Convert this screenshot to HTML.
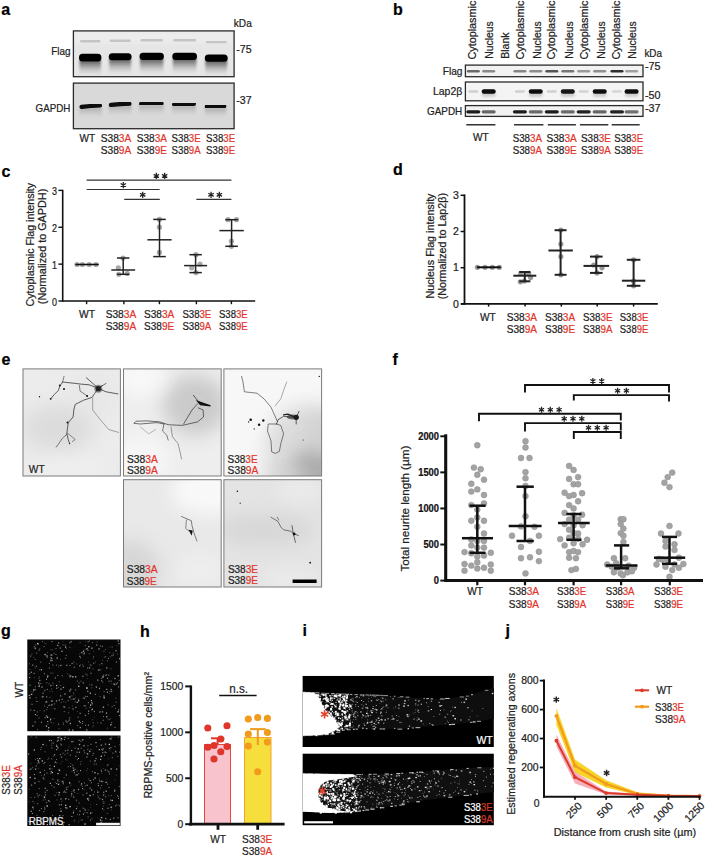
<!DOCTYPE html>
<html><head><meta charset="utf-8"><style>
html,body{margin:0;padding:0;background:#fff;}
svg{display:block;font-family:"Liberation Sans",sans-serif;}
</style></head><body>
<svg width="714" height="858" viewBox="0 0 714 858">
<defs><filter id="b1" x="-50%" y="-100%" width="200%" height="300%"><feGaussianBlur stdDeviation="1.2"/></filter><filter id="b2" x="-50%" y="-100%" width="200%" height="300%"><feGaussianBlur stdDeviation="2.2"/></filter><filter id="b05" x="-50%" y="-100%" width="200%" height="300%"><feGaussianBlur stdDeviation="0.7"/></filter><filter id="b3" x="-50%" y="-50%" width="200%" height="200%"><feGaussianBlur stdDeviation="4"/></filter><filter id="b8" x="-50%" y="-50%" width="200%" height="200%"><feGaussianBlur stdDeviation="9"/></filter><linearGradient id="smA" x1="0" y1="0" x2="0" y2="1"><stop offset="0" stop-color="#444" stop-opacity="0.9"/><stop offset="0.3" stop-color="#6a6a6a" stop-opacity="0.7"/><stop offset="0.65" stop-color="#999" stop-opacity="0.35"/><stop offset="1" stop-color="#bbb" stop-opacity="0"/></linearGradient><linearGradient id="smG" x1="0" y1="0" x2="0" y2="1"><stop offset="0" stop-color="#888" stop-opacity="0.55"/><stop offset="1" stop-color="#aaa" stop-opacity="0"/></linearGradient><clipPath id="cpa1"><rect x="73.4" y="30.9" width="160.7" height="45.8"/></clipPath><clipPath id="cpa2"><rect x="73.4" y="83.1" width="160.7" height="45.6"/></clipPath><clipPath id="e1"><rect x="23.0" y="368.9" width="97.4" height="107.10000000000002"/></clipPath><clipPath id="e2"><rect x="123.5" y="368.9" width="97.69999999999999" height="107.10000000000002"/></clipPath><clipPath id="e3"><rect x="223.9" y="368.9" width="97.70000000000002" height="107.10000000000002"/></clipPath><clipPath id="e4"><rect x="123.5" y="479.7" width="97.69999999999999" height="107.30000000000001"/></clipPath><clipPath id="e5"><rect x="223.9" y="479.7" width="97.70000000000002" height="107.30000000000001"/></clipPath><clipPath id="i1"><rect x="302.4" y="675.8" width="191.5" height="71.20000000000005"/></clipPath><clipPath id="i2"><rect x="302.4" y="753.4" width="191.5" height="72.0"/></clipPath></defs>
<rect width="714" height="858" fill="#fff"/>
<text x="1.3" y="15" font-size="16" font-weight="bold"><tspan fill="#000" stroke="#000" stroke-width="0.22">a</tspan></text>
<g clip-path="url(#cpa1)">
<rect x="73.4" y="30.9" width="160.7" height="45.8" fill="#e6e6e6" />
<rect x="73.4" y="30.9" width="160.7" height="12" fill="#ececec" filter="url(#b2)"/>
<rect x="79.5" y="60.0" width="21.400000000000006" height="16" fill="url(#smA)" filter="url(#b1)"/>
<rect x="80.0" y="40.099999999999994" width="20.400000000000006" height="2.4" rx="1" fill="#c4c4c4" filter="url(#b05)"/>
<rect x="79.0" y="53.699999999999996" width="22.400000000000006" height="7.900000000000003" rx="3.5" fill="#060606" filter="url(#b05)"/>
<rect x="109.2" y="58.6" width="21.89999999999999" height="16" fill="url(#smA)" filter="url(#b1)"/>
<rect x="109.7" y="39.599999999999994" width="20.89999999999999" height="2.4" rx="1" fill="#c4c4c4" filter="url(#b05)"/>
<rect x="108.7" y="53.199999999999996" width="22.89999999999999" height="7.000000000000004" rx="3.5" fill="#060606" filter="url(#b05)"/>
<rect x="140.0" y="58.5" width="23.400000000000006" height="16" fill="url(#smA)" filter="url(#b1)"/>
<rect x="140.5" y="39.099999999999994" width="22.400000000000006" height="2.4" rx="1" fill="#c4c4c4" filter="url(#b05)"/>
<rect x="139.5" y="52.699999999999996" width="24.400000000000006" height="7.400000000000003" rx="3.5" fill="#060606" filter="url(#b05)"/>
<rect x="172.8" y="58.3" width="23.69999999999999" height="16" fill="url(#smA)" filter="url(#b1)"/>
<rect x="173.3" y="39.099999999999994" width="22.69999999999999" height="2.4" rx="1" fill="#c4c4c4" filter="url(#b05)"/>
<rect x="172.3" y="52.699999999999996" width="24.69999999999999" height="7.2" rx="3.5" fill="#060606" filter="url(#b05)"/>
<rect x="205.3" y="60.1" width="21.899999999999977" height="16" fill="url(#smA)" filter="url(#b1)"/>
<rect x="205.8" y="40.900000000000006" width="20.899999999999977" height="2.4" rx="1" fill="#c4c4c4" filter="url(#b05)"/>
<rect x="204.8" y="54.5" width="22.899999999999977" height="7.2" rx="3.5" fill="#060606" filter="url(#b05)"/>
</g>
<rect x="73.4" y="30.9" width="160.7" height="45.8" fill="none" stroke="#2a2a2a" stroke-width="1.3" />
<g clip-path="url(#cpa2)">
<rect x="73.4" y="83.1" width="160.7" height="45.6" fill="#d9d9d9" />
<rect x="79.5" y="107.3" width="22.5" height="10" fill="url(#smG)" filter="url(#b1)"/>
<path d="M81.5 106.90 Q90.8 105.90 100.0 105.50" stroke="#070707" stroke-width="4.1" stroke-linecap="round" fill="none" filter="url(#b05)"/>
<rect x="108.7" y="105.5" width="22.89999999999999" height="10" fill="url(#smG)" filter="url(#b1)"/>
<path d="M110.9 104.90 Q120.2 104.00 129.4 103.70" stroke="#070707" stroke-width="4.3" stroke-linecap="round" fill="none" filter="url(#b05)"/>
<rect x="139.0" y="104.7" width="24.69999999999999" height="10" fill="url(#smG)" filter="url(#b1)"/>
<path d="M141.1 103.80 Q151.3 103.30 161.6 103.40" stroke="#070707" stroke-width="4.1" stroke-linecap="round" fill="none" filter="url(#b05)"/>
<rect x="172.0" y="105.4" width="24.0" height="10" fill="url(#smG)" filter="url(#b1)"/>
<path d="M174.2 104.45 Q184.0 103.85 193.8 103.85" stroke="#070707" stroke-width="4.4" stroke-linecap="round" fill="none" filter="url(#b05)"/>
<rect x="204.7" y="107.6" width="21.700000000000017" height="10" fill="url(#smG)" filter="url(#b1)"/>
<path d="M207.0 106.55 Q215.6 105.95 224.1 105.95" stroke="#070707" stroke-width="4.6" stroke-linecap="round" fill="none" filter="url(#b05)"/>
</g>
<rect x="73.4" y="83.1" width="160.7" height="45.6" fill="none" stroke="#2a2a2a" stroke-width="1.3" />
<text x="233.8" y="27" font-size="10.5" textLength="18" lengthAdjust="spacingAndGlyphs"><tspan fill="#222222" stroke="#222222" stroke-width="0.22">kDa</tspan></text>
<text x="236.3" y="53" font-size="10.5" textLength="15.3" lengthAdjust="spacingAndGlyphs"><tspan fill="#222222" stroke="#222222" stroke-width="0.22">-75</tspan></text>
<text x="236.3" y="103.5" font-size="10.5" textLength="15.3" lengthAdjust="spacingAndGlyphs"><tspan fill="#222222" stroke="#222222" stroke-width="0.22">-37</tspan></text>
<text x="70.6" y="55" font-size="10.5" text-anchor="end" textLength="19.3" lengthAdjust="spacingAndGlyphs"><tspan fill="#222222" stroke="#222222" stroke-width="0.22">Flag</tspan></text>
<text x="70.3" y="112" font-size="10.5" text-anchor="end" textLength="34.7" lengthAdjust="spacingAndGlyphs"><tspan fill="#222222" stroke="#222222" stroke-width="0.22">GAPDH</tspan></text>
<text x="79.6" y="141.9" font-size="10.8" textLength="15.6" lengthAdjust="spacingAndGlyphs"><tspan fill="#222222" stroke="#222222" stroke-width="0.22">WT</tspan></text>
<text x="100.8" y="141.9" font-size="10.8" textLength="30.5" lengthAdjust="spacingAndGlyphs"><tspan fill="#222222" stroke="#222222" stroke-width="0.22">S38</tspan><tspan fill="#e2352b" stroke="#e2352b" stroke-width="0.22">3A</tspan></text>
<text x="100.8" y="153.7" font-size="10.8" textLength="30.5" lengthAdjust="spacingAndGlyphs"><tspan fill="#222222" stroke="#222222" stroke-width="0.22">S38</tspan><tspan fill="#e2352b" stroke="#e2352b" stroke-width="0.22">9A</tspan></text>
<text x="136.8" y="141.9" font-size="10.8" textLength="30.2" lengthAdjust="spacingAndGlyphs"><tspan fill="#222222" stroke="#222222" stroke-width="0.22">S38</tspan><tspan fill="#e2352b" stroke="#e2352b" stroke-width="0.22">3A</tspan></text>
<text x="136.8" y="153.7" font-size="10.8" textLength="30.2" lengthAdjust="spacingAndGlyphs"><tspan fill="#222222" stroke="#222222" stroke-width="0.22">S38</tspan><tspan fill="#e2352b" stroke="#e2352b" stroke-width="0.22">9E</tspan></text>
<text x="171.6" y="141.9" font-size="10.8" textLength="29.0" lengthAdjust="spacingAndGlyphs"><tspan fill="#222222" stroke="#222222" stroke-width="0.22">S38</tspan><tspan fill="#e2352b" stroke="#e2352b" stroke-width="0.22">3E</tspan></text>
<text x="171.6" y="153.7" font-size="10.8" textLength="29.0" lengthAdjust="spacingAndGlyphs"><tspan fill="#222222" stroke="#222222" stroke-width="0.22">S38</tspan><tspan fill="#e2352b" stroke="#e2352b" stroke-width="0.22">9A</tspan></text>
<text x="206.1" y="141.9" font-size="10.8" textLength="29.0" lengthAdjust="spacingAndGlyphs"><tspan fill="#222222" stroke="#222222" stroke-width="0.22">S38</tspan><tspan fill="#e2352b" stroke="#e2352b" stroke-width="0.22">3E</tspan></text>
<text x="206.1" y="153.7" font-size="10.8" textLength="29.0" lengthAdjust="spacingAndGlyphs"><tspan fill="#222222" stroke="#222222" stroke-width="0.22">S38</tspan><tspan fill="#e2352b" stroke="#e2352b" stroke-width="0.22">9E</tspan></text>
<text x="393" y="15.2" font-size="16" font-weight="bold"><tspan fill="#000" stroke="#000" stroke-width="0.22">b</tspan></text>
<rect x="465.4" y="65.1" width="177.60000000000002" height="11.6" fill="#f2f2f2" />
<rect x="466.8" y="70.0" width="13" height="2.6" rx="1.3" fill="#6a6a6a" filter="url(#b05)"/>
<rect x="482.2" y="70.0" width="13" height="2.6" rx="1.3" fill="#8a8a8a" filter="url(#b05)"/>
<rect x="513.4" y="70.0" width="13" height="2.6" rx="1.3" fill="#858585" filter="url(#b05)"/>
<rect x="529.3" y="70.0" width="13" height="2.6" rx="1.3" fill="#8c8c8c" filter="url(#b05)"/>
<rect x="545.3" y="70.0" width="13" height="2.6" rx="1.3" fill="#555" filter="url(#b05)"/>
<rect x="561.3" y="70.0" width="13" height="2.6" rx="1.3" fill="#777" filter="url(#b05)"/>
<rect x="577.2" y="70.0" width="13" height="2.6" rx="1.3" fill="#9a9a9a" filter="url(#b05)"/>
<rect x="593.2" y="70.0" width="13" height="2.6" rx="1.3" fill="#8f8f8f" filter="url(#b05)"/>
<rect x="610.5" y="70.0" width="13" height="2.6" rx="1.3" fill="#2e2e2e" filter="url(#b05)"/>
<rect x="625.1" y="70.0" width="13" height="2.6" rx="1.3" fill="#a0a0a0" filter="url(#b05)"/>
<rect x="465.4" y="65.1" width="177.60000000000002" height="11.6" fill="none" stroke="#2a2a2a" stroke-width="1.3" />
<rect x="465.4" y="82.0" width="177.60000000000002" height="18.8" fill="#f4f4f4" />
<rect x="468.3" y="90.3" width="10" height="2.4" rx="1.2" fill="#d0d0d0" filter="url(#b05)"/>
<rect x="481.7" y="92" width="14" height="5" rx="2" fill="#aaa" opacity="0.5" filter="url(#b1)"/>
<rect x="481.7" y="89.3" width="14" height="4.4" rx="2.2" fill="#080808" filter="url(#b05)"/>
<rect x="514.9" y="90.3" width="10" height="2.4" rx="1.2" fill="#d0d0d0" filter="url(#b05)"/>
<rect x="528.8" y="92" width="14" height="5" rx="2" fill="#aaa" opacity="0.5" filter="url(#b1)"/>
<rect x="528.8" y="89.3" width="14" height="4.4" rx="2.2" fill="#101010" filter="url(#b05)"/>
<rect x="546.8" y="90.3" width="10" height="2.4" rx="1.2" fill="#cfcfcf" filter="url(#b05)"/>
<rect x="560.8" y="92" width="14" height="5" rx="2" fill="#aaa" opacity="0.5" filter="url(#b1)"/>
<rect x="560.8" y="89.3" width="14" height="4.4" rx="2.2" fill="#151515" filter="url(#b05)"/>
<rect x="578.7" y="90.3" width="10" height="2.4" rx="1.2" fill="#d2d2d2" filter="url(#b05)"/>
<rect x="592.7" y="92" width="14" height="5" rx="2" fill="#aaa" opacity="0.5" filter="url(#b1)"/>
<rect x="592.7" y="89.3" width="14" height="4.4" rx="2.2" fill="#0c0c0c" filter="url(#b05)"/>
<rect x="612.0" y="90.3" width="10" height="2.4" rx="1.2" fill="#d6d6d6" filter="url(#b05)"/>
<rect x="624.6" y="92" width="14" height="5" rx="2" fill="#aaa" opacity="0.5" filter="url(#b1)"/>
<rect x="624.6" y="89.3" width="14" height="4.4" rx="2.2" fill="#0a0a0a" filter="url(#b05)"/>
<rect x="465.4" y="82.0" width="177.60000000000002" height="18.8" fill="none" stroke="#2a2a2a" stroke-width="1.3" />
<rect x="465.4" y="105.6" width="177.60000000000002" height="10.8" fill="#f2f2f2" />
<rect x="466.3" y="110.2" width="14" height="3.2" rx="1.6" fill="#1a1a1a" filter="url(#b05)"/>
<rect x="481.7" y="110.2" width="14" height="3.2" rx="1.6" fill="#666" filter="url(#b05)"/>
<rect x="512.9" y="110.2" width="14" height="3.2" rx="1.6" fill="#1e1e1e" filter="url(#b05)"/>
<rect x="528.8" y="110.2" width="14" height="3.2" rx="1.6" fill="#6a6a6a" filter="url(#b05)"/>
<rect x="544.8" y="110.2" width="14" height="3.2" rx="1.6" fill="#1c1c1c" filter="url(#b05)"/>
<rect x="560.8" y="110.2" width="14" height="3.2" rx="1.6" fill="#6a6a6a" filter="url(#b05)"/>
<rect x="576.7" y="110.2" width="14" height="3.2" rx="1.6" fill="#222" filter="url(#b05)"/>
<rect x="592.7" y="110.2" width="14" height="3.2" rx="1.6" fill="#666" filter="url(#b05)"/>
<rect x="610.0" y="110.2" width="14" height="3.2" rx="1.6" fill="#222" filter="url(#b05)"/>
<rect x="624.6" y="110.2" width="14" height="3.2" rx="1.6" fill="#707070" filter="url(#b05)"/>
<rect x="465.4" y="105.6" width="177.60000000000002" height="10.8" fill="none" stroke="#2a2a2a" stroke-width="1.3" />
<text x="476.1" y="59.6" font-size="10.6" textLength="59.0" lengthAdjust="spacingAndGlyphs" transform="rotate(-90 476.1 59.6)"><tspan fill="#222222" stroke="#222222" stroke-width="0.22">Cytoplasmic</tspan></text>
<text x="493" y="58.8" font-size="10.6" textLength="37.5" lengthAdjust="spacingAndGlyphs" transform="rotate(-90 493 58.8)"><tspan fill="#222222" stroke="#222222" stroke-width="0.22">Nucleus</tspan></text>
<text x="509.3" y="58.8" font-size="10.6" textLength="26.3" lengthAdjust="spacingAndGlyphs" transform="rotate(-90 509.3 58.8)"><tspan fill="#222222" stroke="#222222" stroke-width="0.22">Blank</tspan></text>
<text x="524.2" y="59.6" font-size="10.6" textLength="59.0" lengthAdjust="spacingAndGlyphs" transform="rotate(-90 524.2 59.6)"><tspan fill="#222222" stroke="#222222" stroke-width="0.22">Cytoplasmic</tspan></text>
<text x="540.6" y="58.8" font-size="10.6" textLength="37.5" lengthAdjust="spacingAndGlyphs" transform="rotate(-90 540.6 58.8)"><tspan fill="#222222" stroke="#222222" stroke-width="0.22">Nucleus</tspan></text>
<text x="555.5" y="59.6" font-size="10.6" textLength="59.0" lengthAdjust="spacingAndGlyphs" transform="rotate(-90 555.5 59.6)"><tspan fill="#222222" stroke="#222222" stroke-width="0.22">Cytoplasmic</tspan></text>
<text x="573.3" y="58.8" font-size="10.6" textLength="37.5" lengthAdjust="spacingAndGlyphs" transform="rotate(-90 573.3 58.8)"><tspan fill="#222222" stroke="#222222" stroke-width="0.22">Nucleus</tspan></text>
<text x="587.6" y="59.6" font-size="10.6" textLength="59.0" lengthAdjust="spacingAndGlyphs" transform="rotate(-90 587.6 59.6)"><tspan fill="#222222" stroke="#222222" stroke-width="0.22">Cytoplasmic</tspan></text>
<text x="604.8" y="58.8" font-size="10.6" textLength="37.5" lengthAdjust="spacingAndGlyphs" transform="rotate(-90 604.8 58.8)"><tspan fill="#222222" stroke="#222222" stroke-width="0.22">Nucleus</tspan></text>
<text x="619.6" y="59.6" font-size="10.6" textLength="59.0" lengthAdjust="spacingAndGlyphs" transform="rotate(-90 619.6 59.6)"><tspan fill="#222222" stroke="#222222" stroke-width="0.22">Cytoplasmic</tspan></text>
<text x="636.2" y="58.8" font-size="10.6" textLength="37.5" lengthAdjust="spacingAndGlyphs" transform="rotate(-90 636.2 58.8)"><tspan fill="#222222" stroke="#222222" stroke-width="0.22">Nucleus</tspan></text>
<text x="644.4" y="57.1" font-size="10.5" textLength="17.6" lengthAdjust="spacingAndGlyphs"><tspan fill="#222222" stroke="#222222" stroke-width="0.22">kDa</tspan></text>
<text x="645" y="69.9" font-size="10.5" textLength="15.6" lengthAdjust="spacingAndGlyphs"><tspan fill="#222222" stroke="#222222" stroke-width="0.22">-75</tspan></text>
<text x="645" y="98.6" font-size="10.5" textLength="15.6" lengthAdjust="spacingAndGlyphs"><tspan fill="#222222" stroke="#222222" stroke-width="0.22">-50</tspan></text>
<text x="645" y="112" font-size="10.5" textLength="15.6" lengthAdjust="spacingAndGlyphs"><tspan fill="#222222" stroke="#222222" stroke-width="0.22">-37</tspan></text>
<text x="462.5" y="74.6" font-size="10.5" text-anchor="end" textLength="19.8" lengthAdjust="spacingAndGlyphs"><tspan fill="#222222" stroke="#222222" stroke-width="0.22">Flag</tspan></text>
<text x="462.2" y="95.2" font-size="10.5" text-anchor="end" textLength="29.2" lengthAdjust="spacingAndGlyphs"><tspan fill="#222222" stroke="#222222" stroke-width="0.22">Lap2β</tspan></text>
<text x="462.2" y="115" font-size="10.5" text-anchor="end" textLength="35.2" lengthAdjust="spacingAndGlyphs"><tspan fill="#222222" stroke="#222222" stroke-width="0.22">GAPDH</tspan></text>
<line x1="466.3" y1="124.8" x2="495.4" y2="124.8" stroke="#111" stroke-width="1.3"/>
<line x1="514.0" y1="124.8" x2="543.4" y2="124.8" stroke="#111" stroke-width="1.3"/>
<line x1="547.8" y1="124.8" x2="575.9" y2="124.8" stroke="#111" stroke-width="1.3"/>
<line x1="579.9" y1="124.8" x2="608.3" y2="124.8" stroke="#111" stroke-width="1.3"/>
<line x1="611.7" y1="124.8" x2="639.7" y2="124.8" stroke="#111" stroke-width="1.3"/>
<text x="473" y="141.3" font-size="10.8" textLength="15.7" lengthAdjust="spacingAndGlyphs"><tspan fill="#222222" stroke="#222222" stroke-width="0.22">WT</tspan></text>
<text x="512.7" y="141.8" font-size="10.8" textLength="29.3" lengthAdjust="spacingAndGlyphs"><tspan fill="#222222" stroke="#222222" stroke-width="0.22">S38</tspan><tspan fill="#e2352b" stroke="#e2352b" stroke-width="0.22">3A</tspan></text>
<text x="512.7" y="154.0" font-size="10.8" textLength="29.3" lengthAdjust="spacingAndGlyphs"><tspan fill="#222222" stroke="#222222" stroke-width="0.22">S38</tspan><tspan fill="#e2352b" stroke="#e2352b" stroke-width="0.22">9A</tspan></text>
<text x="546.5" y="141.8" font-size="10.8" textLength="30.3" lengthAdjust="spacingAndGlyphs"><tspan fill="#222222" stroke="#222222" stroke-width="0.22">S38</tspan><tspan fill="#e2352b" stroke="#e2352b" stroke-width="0.22">3A</tspan></text>
<text x="546.5" y="154.0" font-size="10.8" textLength="30.3" lengthAdjust="spacingAndGlyphs"><tspan fill="#222222" stroke="#222222" stroke-width="0.22">S38</tspan><tspan fill="#e2352b" stroke="#e2352b" stroke-width="0.22">9E</tspan></text>
<text x="581.0" y="141.8" font-size="10.8" textLength="29.8" lengthAdjust="spacingAndGlyphs"><tspan fill="#222222" stroke="#222222" stroke-width="0.22">S38</tspan><tspan fill="#e2352b" stroke="#e2352b" stroke-width="0.22">3E</tspan></text>
<text x="581.0" y="154.0" font-size="10.8" textLength="29.8" lengthAdjust="spacingAndGlyphs"><tspan fill="#222222" stroke="#222222" stroke-width="0.22">S38</tspan><tspan fill="#e2352b" stroke="#e2352b" stroke-width="0.22">9A</tspan></text>
<text x="614.3" y="141.8" font-size="10.8" textLength="28.8" lengthAdjust="spacingAndGlyphs"><tspan fill="#222222" stroke="#222222" stroke-width="0.22">S38</tspan><tspan fill="#e2352b" stroke="#e2352b" stroke-width="0.22">3E</tspan></text>
<text x="614.3" y="154.0" font-size="10.8" textLength="28.8" lengthAdjust="spacingAndGlyphs"><tspan fill="#222222" stroke="#222222" stroke-width="0.22">S38</tspan><tspan fill="#e2352b" stroke="#e2352b" stroke-width="0.22">9E</tspan></text>
<text x="1.6" y="176.7" font-size="16" font-weight="bold"><tspan fill="#000" stroke="#000" stroke-width="0.22">c</tspan></text>
<circle cx="82.4" cy="264.5" r="2.6" fill="#a8a8a8" />
<circle cx="89.2" cy="264.5" r="2.6" fill="#a8a8a8" />
<circle cx="96.0" cy="264.5" r="2.6" fill="#a8a8a8" />
<circle cx="77.0" cy="264.5" r="2.6" fill="#a8a8a8" />
<circle cx="123.0" cy="258.0" r="2.6" fill="#a8a8a8" />
<circle cx="118.3" cy="267.8" r="2.6" fill="#a8a8a8" />
<circle cx="118.8" cy="274.3" r="2.6" fill="#a8a8a8" />
<circle cx="127.2" cy="273.4" r="2.6" fill="#a8a8a8" />
<circle cx="159.4" cy="219.4" r="2.6" fill="#a8a8a8" />
<circle cx="159.4" cy="227.2" r="2.6" fill="#a8a8a8" />
<circle cx="159.4" cy="252.4" r="2.6" fill="#a8a8a8" />
<circle cx="191.7" cy="267.8" r="2.6" fill="#a8a8a8" />
<circle cx="200.0" cy="264.2" r="2.6" fill="#a8a8a8" />
<circle cx="195.9" cy="272.6" r="2.6" fill="#a8a8a8" />
<circle cx="195.9" cy="254.7" r="2.6" fill="#a8a8a8" />
<circle cx="228.0" cy="219.7" r="2.6" fill="#a8a8a8" />
<circle cx="236.5" cy="219.7" r="2.6" fill="#a8a8a8" />
<circle cx="231.4" cy="241.2" r="2.6" fill="#a8a8a8" />
<circle cx="231.4" cy="246.3" r="2.6" fill="#a8a8a8" />
<line x1="75.4" y1="264.5" x2="98.7" y2="264.5" stroke="#111" stroke-width="1.6"/>
<line x1="111.3" y1="270" x2="135.1" y2="270" stroke="#222" stroke-width="1.5"/>
<line x1="123.2" y1="258" x2="123.2" y2="274.3" stroke="#222" stroke-width="1.5"/>
<line x1="117.0" y1="258" x2="129.4" y2="258" stroke="#222" stroke-width="1.5"/>
<line x1="117.0" y1="274.3" x2="129.4" y2="274.3" stroke="#222" stroke-width="1.5"/>
<line x1="147.4" y1="239.8" x2="171.6" y2="239.8" stroke="#222" stroke-width="1.5"/>
<line x1="159.5" y1="219.4" x2="159.5" y2="256.6" stroke="#222" stroke-width="1.5"/>
<line x1="153.2" y1="219.4" x2="165.8" y2="219.4" stroke="#222" stroke-width="1.5"/>
<line x1="153.2" y1="256.6" x2="165.8" y2="256.6" stroke="#222" stroke-width="1.5"/>
<line x1="184.1" y1="265.6" x2="207.1" y2="265.6" stroke="#222" stroke-width="1.5"/>
<line x1="195.6" y1="254.7" x2="195.6" y2="272.6" stroke="#222" stroke-width="1.5"/>
<line x1="189.4" y1="254.7" x2="201.79999999999998" y2="254.7" stroke="#222" stroke-width="1.5"/>
<line x1="189.4" y1="272.6" x2="201.79999999999998" y2="272.6" stroke="#222" stroke-width="1.5"/>
<line x1="219.4" y1="230.6" x2="243.79999999999998" y2="230.6" stroke="#222" stroke-width="1.5"/>
<line x1="231.6" y1="219.7" x2="231.6" y2="246.3" stroke="#222" stroke-width="1.5"/>
<line x1="225.29999999999998" y1="219.7" x2="237.9" y2="219.7" stroke="#222" stroke-width="1.5"/>
<line x1="225.29999999999998" y1="246.3" x2="237.9" y2="246.3" stroke="#222" stroke-width="1.5"/>
<line x1="62.7" y1="189.8" x2="62.7" y2="301.7" stroke="#111" stroke-width="1.6"/>
<line x1="61.900000000000006" y1="301.0" x2="255.2" y2="301.0" stroke="#111" stroke-width="1.6"/>
<line x1="58.4" y1="301.0" x2="62.7" y2="301.0" stroke="#111" stroke-width="1.4"/>
<text x="57.0" y="305.6" font-size="10.3" text-anchor="end" textLength="5.0" lengthAdjust="spacingAndGlyphs"><tspan fill="#222222" stroke="#222222" stroke-width="0.22">0</tspan></text>
<line x1="58.4" y1="264.13" x2="62.7" y2="264.13" stroke="#111" stroke-width="1.4"/>
<text x="57.0" y="268.73" font-size="10.3" text-anchor="end" textLength="5.0" lengthAdjust="spacingAndGlyphs"><tspan fill="#222222" stroke="#222222" stroke-width="0.22">1</tspan></text>
<line x1="58.4" y1="227.26" x2="62.7" y2="227.26" stroke="#111" stroke-width="1.4"/>
<text x="57.0" y="231.85999999999999" font-size="10.3" text-anchor="end" textLength="5.0" lengthAdjust="spacingAndGlyphs"><tspan fill="#222222" stroke="#222222" stroke-width="0.22">2</tspan></text>
<line x1="58.4" y1="190.39000000000001" x2="62.7" y2="190.39000000000001" stroke="#111" stroke-width="1.4"/>
<text x="57.0" y="194.99" font-size="10.3" text-anchor="end" textLength="5.0" lengthAdjust="spacingAndGlyphs"><tspan fill="#222222" stroke="#222222" stroke-width="0.22">3</tspan></text>
<line x1="86.6" y1="301.0" x2="86.6" y2="304.2" stroke="#111" stroke-width="1.4"/>
<line x1="123.9" y1="301.0" x2="123.9" y2="304.2" stroke="#111" stroke-width="1.4"/>
<line x1="159.4" y1="301.0" x2="159.4" y2="304.2" stroke="#111" stroke-width="1.4"/>
<line x1="196.4" y1="301.0" x2="196.4" y2="304.2" stroke="#111" stroke-width="1.4"/>
<line x1="231.4" y1="301.0" x2="231.4" y2="304.2" stroke="#111" stroke-width="1.4"/>
<line x1="86.6" y1="180.2" x2="231.4" y2="180.2" stroke="#333" stroke-width="1.2"/>
<path d="M156.35 172.80L156.35 179.00M153.67 174.35L159.03 177.45M159.03 174.35L153.67 177.45" stroke="#222" stroke-width="1.25" fill="none"/>
<path d="M164.65 172.80L164.65 179.00M161.97 174.35L167.33 177.45M167.33 174.35L161.97 177.45" stroke="#222" stroke-width="1.25" fill="none"/>
<line x1="86.6" y1="189.5" x2="159.6" y2="189.5" stroke="#333" stroke-width="1.2"/>
<path d="M123.30 182.00L123.30 188.20M120.62 183.55L125.98 186.65M125.98 183.55L120.62 186.65" stroke="#222" stroke-width="1.25" fill="none"/>
<line x1="124.2" y1="199.3" x2="159.8" y2="199.3" stroke="#333" stroke-width="1.2"/>
<path d="M142.70 191.70L142.70 197.90M140.02 193.25L145.38 196.35M145.38 193.25L140.02 196.35" stroke="#222" stroke-width="1.25" fill="none"/>
<line x1="196.4" y1="199.3" x2="231.4" y2="199.3" stroke="#333" stroke-width="1.2"/>
<path d="M211.05 191.70L211.05 197.90M208.37 193.25L213.73 196.35M213.73 193.25L208.37 196.35" stroke="#222" stroke-width="1.25" fill="none"/>
<path d="M219.35 191.70L219.35 197.90M216.67 193.25L222.03 196.35M222.03 193.25L216.67 196.35" stroke="#222" stroke-width="1.25" fill="none"/>
<text x="34.2" y="244.7" font-size="10.2" text-anchor="middle" textLength="123.6" lengthAdjust="spacingAndGlyphs" transform="rotate(-90 34.2 244.7)"><tspan fill="#222222" stroke="#222222" stroke-width="0.22">Cytoplasmic Flag intensity</tspan></text>
<text x="45.9" y="246.45" font-size="10.2" text-anchor="middle" textLength="115.5" lengthAdjust="spacingAndGlyphs" transform="rotate(-90 45.9 246.45)"><tspan fill="#222222" stroke="#222222" stroke-width="0.22">(Normalized to GAPDH)</tspan></text>
<text x="79" y="317.7" font-size="10.0" textLength="16" lengthAdjust="spacingAndGlyphs"><tspan fill="#222222" stroke="#222222" stroke-width="0.22">WT</tspan></text>
<text x="105.7" y="317.7" font-size="10.0" textLength="30.5" lengthAdjust="spacingAndGlyphs"><tspan fill="#222222" stroke="#222222" stroke-width="0.22">S38</tspan><tspan fill="#e2352b" stroke="#e2352b" stroke-width="0.22">3A</tspan></text>
<text x="105.7" y="329.6" font-size="10.0" textLength="30.5" lengthAdjust="spacingAndGlyphs"><tspan fill="#222222" stroke="#222222" stroke-width="0.22">S38</tspan><tspan fill="#e2352b" stroke="#e2352b" stroke-width="0.22">9A</tspan></text>
<text x="144" y="317.7" font-size="10.0" textLength="30.3" lengthAdjust="spacingAndGlyphs"><tspan fill="#222222" stroke="#222222" stroke-width="0.22">S38</tspan><tspan fill="#e2352b" stroke="#e2352b" stroke-width="0.22">3A</tspan></text>
<text x="144" y="329.6" font-size="10.0" textLength="30.3" lengthAdjust="spacingAndGlyphs"><tspan fill="#222222" stroke="#222222" stroke-width="0.22">S38</tspan><tspan fill="#e2352b" stroke="#e2352b" stroke-width="0.22">9E</tspan></text>
<text x="182.4" y="317.7" font-size="10.0" textLength="28.9" lengthAdjust="spacingAndGlyphs"><tspan fill="#222222" stroke="#222222" stroke-width="0.22">S38</tspan><tspan fill="#e2352b" stroke="#e2352b" stroke-width="0.22">3E</tspan></text>
<text x="182.4" y="329.6" font-size="10.0" textLength="28.9" lengthAdjust="spacingAndGlyphs"><tspan fill="#222222" stroke="#222222" stroke-width="0.22">S38</tspan><tspan fill="#e2352b" stroke="#e2352b" stroke-width="0.22">9A</tspan></text>
<text x="219" y="317.7" font-size="10.0" textLength="28.7" lengthAdjust="spacingAndGlyphs"><tspan fill="#222222" stroke="#222222" stroke-width="0.22">S38</tspan><tspan fill="#e2352b" stroke="#e2352b" stroke-width="0.22">3E</tspan></text>
<text x="219" y="329.6" font-size="10.0" textLength="28.7" lengthAdjust="spacingAndGlyphs"><tspan fill="#222222" stroke="#222222" stroke-width="0.22">S38</tspan><tspan fill="#e2352b" stroke="#e2352b" stroke-width="0.22">9E</tspan></text>
<text x="393" y="175" font-size="16" font-weight="bold"><tspan fill="#000" stroke="#000" stroke-width="0.22">d</tspan></text>
<circle cx="477.4" cy="267.3" r="2.6" fill="#9a9a9a" />
<circle cx="485.0" cy="267.3" r="2.6" fill="#9a9a9a" />
<circle cx="492.3" cy="267.3" r="2.6" fill="#9a9a9a" />
<circle cx="499.3" cy="267.3" r="2.6" fill="#9a9a9a" />
<circle cx="520.8" cy="273.4" r="2.6" fill="#9a9a9a" />
<circle cx="528.7" cy="273.4" r="2.6" fill="#9a9a9a" />
<circle cx="524.2" cy="281.0" r="2.6" fill="#9a9a9a" />
<circle cx="530.6" cy="277.6" r="2.6" fill="#9a9a9a" />
<circle cx="520.3" cy="281.8" r="2.6" fill="#9a9a9a" />
<circle cx="560.9" cy="230.0" r="2.6" fill="#9a9a9a" />
<circle cx="560.9" cy="244.0" r="2.6" fill="#9a9a9a" />
<circle cx="560.9" cy="256.6" r="2.6" fill="#9a9a9a" />
<circle cx="560.9" cy="274.8" r="2.6" fill="#9a9a9a" />
<circle cx="593.7" cy="265.0" r="2.6" fill="#9a9a9a" />
<circle cx="602.0" cy="267.8" r="2.6" fill="#9a9a9a" />
<circle cx="597.0" cy="256.6" r="2.6" fill="#9a9a9a" />
<circle cx="597.0" cy="272.9" r="2.6" fill="#9a9a9a" />
<circle cx="633.6" cy="259.8" r="2.6" fill="#9a9a9a" />
<circle cx="633.6" cy="285.8" r="2.6" fill="#9a9a9a" />
<circle cx="633.6" cy="281.0" r="2.6" fill="#9a9a9a" />
<line x1="476.9" y1="267.3" x2="500.7" y2="267.3" stroke="#111" stroke-width="2.0"/>
<line x1="513.3" y1="275.7" x2="536.3" y2="275.7" stroke="#222" stroke-width="2.0"/>
<line x1="524.8" y1="272" x2="524.8" y2="281.3" stroke="#222" stroke-width="2.0"/>
<line x1="519.1999999999999" y1="272" x2="530.4" y2="272" stroke="#222" stroke-width="2.0"/>
<line x1="519.1999999999999" y1="281.3" x2="530.4" y2="281.3" stroke="#222" stroke-width="2.0"/>
<line x1="548.4" y1="250.5" x2="572.8000000000001" y2="250.5" stroke="#222" stroke-width="2.0"/>
<line x1="560.6" y1="230.2" x2="560.6" y2="274.8" stroke="#222" stroke-width="2.0"/>
<line x1="554.6" y1="230.2" x2="566.6" y2="230.2" stroke="#222" stroke-width="2.0"/>
<line x1="554.6" y1="274.8" x2="566.6" y2="274.8" stroke="#222" stroke-width="2.0"/>
<line x1="583.5" y1="265.9" x2="609.0999999999999" y2="265.9" stroke="#222" stroke-width="2.0"/>
<line x1="596.3" y1="256.6" x2="596.3" y2="272.9" stroke="#222" stroke-width="2.0"/>
<line x1="590.0" y1="256.6" x2="602.5999999999999" y2="256.6" stroke="#222" stroke-width="2.0"/>
<line x1="590.0" y1="272.9" x2="602.5999999999999" y2="272.9" stroke="#222" stroke-width="2.0"/>
<line x1="621.9" y1="280.7" x2="645.3000000000001" y2="280.7" stroke="#222" stroke-width="2.0"/>
<line x1="633.6" y1="259.8" x2="633.6" y2="285.8" stroke="#222" stroke-width="2.0"/>
<line x1="626.8000000000001" y1="259.8" x2="640.4" y2="259.8" stroke="#222" stroke-width="2.0"/>
<line x1="626.8000000000001" y1="285.8" x2="640.4" y2="285.8" stroke="#222" stroke-width="2.0"/>
<line x1="464.5" y1="194.4" x2="464.5" y2="304.7" stroke="#111" stroke-width="1.8"/>
<line x1="461.0" y1="303.9" x2="657.8" y2="303.9" stroke="#111" stroke-width="1.8"/>
<line x1="460.6" y1="303.9" x2="464.5" y2="303.9" stroke="#111" stroke-width="1.5"/>
<text x="458.8" y="307.59999999999997" font-size="10.5" text-anchor="end"><tspan fill="#222222" stroke="#222222" stroke-width="0.22">0</tspan></text>
<line x1="460.6" y1="267.7" x2="464.5" y2="267.7" stroke="#111" stroke-width="1.5"/>
<text x="458.8" y="271.4" font-size="10.5" text-anchor="end"><tspan fill="#222222" stroke="#222222" stroke-width="0.22">1</tspan></text>
<line x1="460.6" y1="231.49999999999997" x2="464.5" y2="231.49999999999997" stroke="#111" stroke-width="1.5"/>
<text x="458.8" y="235.19999999999996" font-size="10.5" text-anchor="end"><tspan fill="#222222" stroke="#222222" stroke-width="0.22">2</tspan></text>
<line x1="460.6" y1="195.29999999999995" x2="464.5" y2="195.29999999999995" stroke="#111" stroke-width="1.5"/>
<text x="458.8" y="198.99999999999994" font-size="10.5" text-anchor="end"><tspan fill="#222222" stroke="#222222" stroke-width="0.22">3</tspan></text>
<line x1="488.6" y1="303.9" x2="488.6" y2="306.6" stroke="#111" stroke-width="1.5"/>
<line x1="525.1" y1="303.9" x2="525.1" y2="306.6" stroke="#111" stroke-width="1.5"/>
<line x1="561.3" y1="303.9" x2="561.3" y2="306.6" stroke="#111" stroke-width="1.5"/>
<line x1="597.2" y1="303.9" x2="597.2" y2="306.6" stroke="#111" stroke-width="1.5"/>
<line x1="633.6" y1="303.9" x2="633.6" y2="306.6" stroke="#111" stroke-width="1.5"/>
<text x="434.3" y="246.05" font-size="10.2" text-anchor="middle" textLength="105.1" lengthAdjust="spacingAndGlyphs" transform="rotate(-90 434.3 246.05)"><tspan fill="#222222" stroke="#222222" stroke-width="0.22">Nucleus Flag intensity</tspan></text>
<text x="445.9" y="246.15" font-size="10.2" text-anchor="middle" textLength="106.3" lengthAdjust="spacingAndGlyphs" transform="rotate(-90 445.9 246.15)"><tspan fill="#222222" stroke="#222222" stroke-width="0.22">(Normalized to Lap2β)</tspan></text>
<text x="480.1" y="320.8" font-size="10.2" textLength="15.7" lengthAdjust="spacingAndGlyphs"><tspan fill="#222222" stroke="#222222" stroke-width="0.22">WT</tspan></text>
<text x="506.7" y="320.8" font-size="10.2" textLength="30.4" lengthAdjust="spacingAndGlyphs"><tspan fill="#222222" stroke="#222222" stroke-width="0.22">S38</tspan><tspan fill="#e2352b" stroke="#e2352b" stroke-width="0.22">3A</tspan></text>
<text x="506.7" y="332.7" font-size="10.2" textLength="30.4" lengthAdjust="spacingAndGlyphs"><tspan fill="#222222" stroke="#222222" stroke-width="0.22">S38</tspan><tspan fill="#e2352b" stroke="#e2352b" stroke-width="0.22">9A</tspan></text>
<text x="545" y="320.8" font-size="10.2" textLength="30.1" lengthAdjust="spacingAndGlyphs"><tspan fill="#222222" stroke="#222222" stroke-width="0.22">S38</tspan><tspan fill="#e2352b" stroke="#e2352b" stroke-width="0.22">3A</tspan></text>
<text x="545" y="332.7" font-size="10.2" textLength="30.1" lengthAdjust="spacingAndGlyphs"><tspan fill="#222222" stroke="#222222" stroke-width="0.22">S38</tspan><tspan fill="#e2352b" stroke="#e2352b" stroke-width="0.22">9E</tspan></text>
<text x="583.1" y="320.8" font-size="10.2" textLength="29.3" lengthAdjust="spacingAndGlyphs"><tspan fill="#222222" stroke="#222222" stroke-width="0.22">S38</tspan><tspan fill="#e2352b" stroke="#e2352b" stroke-width="0.22">3E</tspan></text>
<text x="583.1" y="332.7" font-size="10.2" textLength="29.3" lengthAdjust="spacingAndGlyphs"><tspan fill="#222222" stroke="#222222" stroke-width="0.22">S38</tspan><tspan fill="#e2352b" stroke="#e2352b" stroke-width="0.22">9A</tspan></text>
<text x="619.8" y="320.8" font-size="10.2" textLength="28.5" lengthAdjust="spacingAndGlyphs"><tspan fill="#222222" stroke="#222222" stroke-width="0.22">S38</tspan><tspan fill="#e2352b" stroke="#e2352b" stroke-width="0.22">3E</tspan></text>
<text x="619.8" y="332.7" font-size="10.2" textLength="28.5" lengthAdjust="spacingAndGlyphs"><tspan fill="#222222" stroke="#222222" stroke-width="0.22">S38</tspan><tspan fill="#e2352b" stroke="#e2352b" stroke-width="0.22">9E</tspan></text>
<text x="1.5" y="365" font-size="16" font-weight="bold"><tspan fill="#000" stroke="#000" stroke-width="0.22">e</tspan></text>
<g clip-path="url(#e1)">
<rect x="23.0" y="368.9" width="97.4" height="107.10000000000002" fill="#ececec"/>
<ellipse cx="58" cy="428" rx="36" ry="24" fill="#d6d6d6" opacity="0.7" filter="url(#b8)"/>
<ellipse cx="95" cy="395" rx="25" ry="25" fill="#e4e4e4" opacity="0.5" filter="url(#b8)"/>
<ellipse cx="70" cy="468" rx="40" ry="10" fill="#f2f2f2" opacity="0.6" filter="url(#b8)"/>
</g>
<path d="M98.3 388.3 L89.2 384.8 L80.8 384.1 L75.2 383.4 L62.6 382.0 L59.8 386.2 L58.4 390.4 L54.2 394.6 L50.7 398.8" stroke="#262626" stroke-width="0.72" fill="none" stroke-linejoin="round" stroke-linecap="round" opacity="1"/>
<path d="M62.6 382.0 L64.0 376.4" stroke="#262626" stroke-width="0.576" fill="none" stroke-linejoin="round" stroke-linecap="round" opacity="1"/>
<path d="M79.4 385.5 L80.1 391.1 L86.4 395.3 L87.1 396.7" stroke="#262626" stroke-width="0.576" fill="none" stroke-linejoin="round" stroke-linecap="round" opacity="1"/>
<path d="M98.3 388.3 L94.8 393.2 L92.0 397.4 L83.6 400.2 L75.2 404.4 L73.8 410.0 L73.1 417.0 L68.2 422.6 L67.5 428.2 L66.8 433.8 L68.2 439.4 L69.6 443.6" stroke="#262626" stroke-width="0.72" fill="none" stroke-linejoin="round" stroke-linecap="round" opacity="1"/>
<path d="M67.5 433.8 L62.6 438.0 L56.3 447.1" stroke="#262626" stroke-width="0.576" fill="none" stroke-linejoin="round" stroke-linecap="round" opacity="1"/>
<path d="M68.2 433.8 L75.2 439.4 L72.4 441.5" stroke="#262626" stroke-width="0.504" fill="none" stroke-linejoin="round" stroke-linecap="round" opacity="1"/>
<path d="M92.7 398.1 L92.7 410.0 L100.4 419.8 L108.8 429.6 L118.6 432.4" stroke="#555" stroke-width="0.504" fill="none" stroke-linejoin="round" stroke-linecap="round" opacity="1"/>
<path d="M98.3 388.3 L86.4 377.8" stroke="#262626" stroke-width="0.72" fill="none" stroke-linejoin="round" stroke-linecap="round" opacity="1"/>
<path d="M98.3 388.3 L106.0 383.4" stroke="#262626" stroke-width="0.648" fill="none" stroke-linejoin="round" stroke-linecap="round" opacity="1"/>
<path d="M98.3 388.3 L106.0 391.8 L117.9 393.9" stroke="#262626" stroke-width="0.72" fill="none" stroke-linejoin="round" stroke-linecap="round" opacity="1"/>
<path d="M98.3 388.3 L102.5 385.5" stroke="#262626" stroke-width="0.648" fill="none" stroke-linejoin="round" stroke-linecap="round" opacity="1"/>
<circle cx="98.3" cy="388.7" r="2.6" fill="#111"/>
<circle cx="98.3" cy="388.7" r="4" fill="#333" opacity="0.5" filter="url(#b05)"/>
<circle cx="87.1" cy="396.0" r="1.0" fill="#111"/>
<circle cx="64.0" cy="389.0" r="1.0" fill="#111"/>
<circle cx="39.5" cy="396.7" r="0.7" fill="#111"/>
<circle cx="59.8" cy="385.5" r="0.9" fill="#111"/>
<circle cx="50.7" cy="398.8" r="0.9" fill="#111"/>
<circle cx="67.5" cy="422.6" r="1.0" fill="#111"/>
<circle cx="69.6" cy="443.6" r="0.6" fill="#111"/>
<g clip-path="url(#e2)">
<rect x="123.5" y="368.9" width="97.69999999999999" height="107.10000000000002" fill="#eeeeee"/>
<ellipse cx="195" cy="405" rx="32" ry="30" fill="#c4c4c4" opacity="0.85" filter="url(#b8)"/>
<ellipse cx="140" cy="378" rx="25" ry="18" fill="#fbfbfb" opacity="0.8" filter="url(#b8)"/>
<ellipse cx="140" cy="460" rx="30" ry="25" fill="#f8f8f8" opacity="0.8" filter="url(#b8)"/>
</g>
<path d="M197.6 401.3 L210.5 405.8 L200.4 404.7 Z" fill="#111" stroke="#111" stroke-width="1.2"/>
<path d="M193.4 395.3 L198.3 401.3" stroke="#262626" stroke-width="0.72" fill="none" stroke-linejoin="round" stroke-linecap="round" opacity="1"/>
<path d="M197.6 403.7 L192.0 410.0 L187.8 417.0 L183.6 424.0" stroke="#262626" stroke-width="0.648" fill="none" stroke-linejoin="round" stroke-linecap="round" opacity="1"/>
<path d="M198.3 407.9 L203.2 410.0 L203.5 417.0 L197.6 421.9 L182.2 425.4 L168.2 424.7 L159.8 421.9 L147.2 420.9 L136.0 421.2 L133.9 423.3 L140.2 424.0 L157.0 422.6 L164.0 424.0" stroke="#262626" stroke-width="0.648" fill="none" stroke-linejoin="round" stroke-linecap="round" opacity="1"/>
<path d="M164.0 424.0 L162.6 431.0 L166.8 435.2 L168.2 440.1" stroke="#262626" stroke-width="0.576" fill="none" stroke-linejoin="round" stroke-linecap="round" opacity="1"/>
<path d="M171.0 426.8 L172.4 436.6 L178.0 443.6 L180.1 452.0 L181.5 459.0" stroke="#444" stroke-width="0.504" fill="none" stroke-linejoin="round" stroke-linecap="round" opacity="1"/>
<path d="M140.2 426.8 L148.6 433.8 L155.6 429.6" stroke="#666" stroke-width="0.432" fill="none" stroke-linejoin="round" stroke-linecap="round" opacity="1"/>
<g clip-path="url(#e3)">
<rect x="223.9" y="368.9" width="97.70000000000002" height="107.10000000000002" fill="#f7f7f7"/>
<ellipse cx="305" cy="450" rx="40" ry="45" fill="#d4d4d4" opacity="0.8" filter="url(#b8)"/>
<ellipse cx="316" cy="472" rx="26" ry="24" fill="#a8a8a8" opacity="0.9" filter="url(#b8)"/>
<ellipse cx="322" cy="430" rx="14" ry="22" fill="#cccccc" opacity="0.7" filter="url(#b8)"/>
<ellipse cx="285" cy="478" rx="25" ry="10" fill="#d0d0d0" opacity="0.8" filter="url(#b8)"/>
</g>
<path d="M296.2 417.7 L283.6 416.3 L278.0 419.8 L276.6 424.0" stroke="#262626" stroke-width="0.72" fill="none" stroke-linejoin="round" stroke-linecap="round" opacity="1"/>
<path d="M276.6 424.0 L268.2 424.0 L267.5 431.0 L271.0 440.8 L271.7 452.0 L275.2 453.4 L279.4 451.3 L280.8 443.6 L283.6 433.8 L280.8 425.4 L276.6 424.0" stroke="#262626" stroke-width="0.576" fill="none" stroke-linejoin="round" stroke-linecap="round" opacity="1"/>
<path d="M277.3 421.2 L271.0 407.2 L264.0 398.8 L257.0 393.2 L244.4 391.8 L243.0 382.0 L241.6 376.4" stroke="#262626" stroke-width="0.576" fill="none" stroke-linejoin="round" stroke-linecap="round" opacity="1"/>
<path d="M275.2 405.8 L280.8 398.8 L283.6 390.4 L286.7 382.0" stroke="#555" stroke-width="0.504" fill="none" stroke-linejoin="round" stroke-linecap="round" opacity="1"/>
<path d="M296.2 417.7 L287.8 414.2 L283.6 414.9" stroke="#222" stroke-width="1.296" fill="none" stroke-linejoin="round" stroke-linecap="round" opacity="1"/>
<path d="M296.2 417.7 L299.0 411.4" stroke="#262626" stroke-width="0.72" fill="none" stroke-linejoin="round" stroke-linecap="round" opacity="1"/>
<path d="M296.2 417.7 L296.2 424.0" stroke="#262626" stroke-width="0.72" fill="none" stroke-linejoin="round" stroke-linecap="round" opacity="1"/>
<circle cx="296.2" cy="417.3" r="2.6" fill="#111"/>
<ellipse cx="292.7" cy="417.0" rx="6" ry="2.6" fill="#222" opacity="0.6" filter="url(#b05)"/>
<circle cx="250.7" cy="419.8" r="1.3" fill="#111"/>
<circle cx="263.3" cy="420.5" r="1.2" fill="#111"/>
<circle cx="259.1" cy="424.7" r="1.2" fill="#111"/>
<circle cx="248.6" cy="421.9" r="0.7" fill="#111"/>
<circle cx="254.2" cy="428.9" r="0.6" fill="#111"/>
<circle cx="319.3" cy="376.4" r="0.7" fill="#111"/>
<circle cx="303.2" cy="440.1" r="0.5" fill="#111"/>
<g clip-path="url(#e4)">
<rect x="123.5" y="479.7" width="97.69999999999999" height="107.30000000000001" fill="#e9e9e9"/>
<ellipse cx="210" cy="490" rx="40" ry="25" fill="#fafafa" opacity="0.9" filter="url(#b8)"/>
<ellipse cx="130" cy="570" rx="30" ry="30" fill="#d2d2d2" opacity="0.8" filter="url(#b8)"/>
<ellipse cx="200" cy="570" rx="25" ry="15" fill="#f3f3f3" opacity="0.6" filter="url(#b8)"/>
</g>
<path d="M181.5 516.5 L191.3 520.7 L192.0 525.6 L194.1 533.3 L196.9 541.0" stroke="#262626" stroke-width="0.576" fill="none" stroke-linejoin="round" stroke-linecap="round" opacity="1"/>
<path d="M186.4 520.0 L185.7 528.4 L189.2 531.2" stroke="#262626" stroke-width="0.504" fill="none" stroke-linejoin="round" stroke-linecap="round" opacity="1"/>
<path d="M188.5 529.8 L192.7 530.5 L191.7 535.7 Z" fill="#111"/>
<g clip-path="url(#e5)">
<rect x="223.9" y="479.7" width="97.70000000000002" height="107.30000000000001" fill="#e4e4e4"/>
<ellipse cx="265" cy="530" rx="50" ry="16" fill="#d4d4d4" opacity="0.8" filter="url(#b8)"/>
<ellipse cx="300" cy="490" rx="25" ry="12" fill="#f0f0f0" opacity="0.6" filter="url(#b8)"/>
<ellipse cx="290" cy="580" rx="30" ry="12" fill="#f0f0f0" opacity="0.6" filter="url(#b8)"/>
</g>
<path d="M271.0 517.2 L278.0 521.4 L280.8 527.0 L283.6 529.8 L290.6 531.2 L294.1 534.0" stroke="#262626" stroke-width="0.576" fill="none" stroke-linejoin="round" stroke-linecap="round" opacity="1"/>
<path d="M292.0 525.6 L293.4 534.0 L295.5 542.4" stroke="#262626" stroke-width="0.648" fill="none" stroke-linejoin="round" stroke-linecap="round" opacity="1"/>
<path d="M294.1 534.0 L298.3 535.4" stroke="#262626" stroke-width="0.648" fill="none" stroke-linejoin="round" stroke-linecap="round" opacity="1"/>
<path d="M277.3 517.2 L278.7 520.0" stroke="#262626" stroke-width="0.504" fill="none" stroke-linejoin="round" stroke-linecap="round" opacity="1"/>
<circle cx="294.1" cy="534.0" r="1.4" fill="#111"/>
<circle cx="237.4" cy="491.3" r="0.8" fill="#111"/>
<circle cx="240.2" cy="503.2" r="0.6" fill="#111"/>
<circle cx="310.2" cy="562.7" r="0.9" fill="#111"/>
<rect x="23.0" y="368.9" width="97.4" height="107.10000000000002" fill="none" stroke="#7a7a7a" stroke-width="1"/>
<rect x="123.5" y="368.9" width="97.69999999999999" height="107.10000000000002" fill="none" stroke="#7a7a7a" stroke-width="1"/>
<rect x="223.9" y="368.9" width="97.70000000000002" height="107.10000000000002" fill="none" stroke="#7a7a7a" stroke-width="1"/>
<rect x="123.5" y="479.7" width="97.69999999999999" height="107.30000000000001" fill="none" stroke="#7a7a7a" stroke-width="1"/>
<rect x="223.9" y="479.7" width="97.70000000000002" height="107.30000000000001" fill="none" stroke="#7a7a7a" stroke-width="1"/>
<text x="28.8" y="473" font-size="10.8" textLength="15.8" lengthAdjust="spacingAndGlyphs"><tspan fill="#222222" stroke="#222222" stroke-width="0.22">WT</tspan></text>
<text x="127.0" y="462.6" font-size="10.8" textLength="30.8" lengthAdjust="spacingAndGlyphs"><tspan fill="#222222" stroke="#222222" stroke-width="0.22">S38</tspan><tspan fill="#e2352b" stroke="#e2352b" stroke-width="0.22">3A</tspan></text>
<text x="127.0" y="474.2" font-size="10.8" textLength="30.8" lengthAdjust="spacingAndGlyphs"><tspan fill="#222222" stroke="#222222" stroke-width="0.22">S38</tspan><tspan fill="#e2352b" stroke="#e2352b" stroke-width="0.22">9A</tspan></text>
<text x="227.6" y="462.6" font-size="10.8" textLength="30.0" lengthAdjust="spacingAndGlyphs"><tspan fill="#222222" stroke="#222222" stroke-width="0.22">S38</tspan><tspan fill="#e2352b" stroke="#e2352b" stroke-width="0.22">3E</tspan></text>
<text x="227.6" y="474.2" font-size="10.8" textLength="30.8" lengthAdjust="spacingAndGlyphs"><tspan fill="#222222" stroke="#222222" stroke-width="0.22">S38</tspan><tspan fill="#e2352b" stroke="#e2352b" stroke-width="0.22">9A</tspan></text>
<text x="126.8" y="573.2" font-size="10.8" textLength="30.8" lengthAdjust="spacingAndGlyphs"><tspan fill="#222222" stroke="#222222" stroke-width="0.22">S38</tspan><tspan fill="#e2352b" stroke="#e2352b" stroke-width="0.22">3A</tspan></text>
<text x="126.8" y="584.6" font-size="10.8" textLength="30.0" lengthAdjust="spacingAndGlyphs"><tspan fill="#222222" stroke="#222222" stroke-width="0.22">S38</tspan><tspan fill="#e2352b" stroke="#e2352b" stroke-width="0.22">9E</tspan></text>
<text x="227.9" y="572.6" font-size="10.8" textLength="30.0" lengthAdjust="spacingAndGlyphs"><tspan fill="#222222" stroke="#222222" stroke-width="0.22">S38</tspan><tspan fill="#e2352b" stroke="#e2352b" stroke-width="0.22">3E</tspan></text>
<text x="227.9" y="584.0" font-size="10.8" textLength="30.0" lengthAdjust="spacingAndGlyphs"><tspan fill="#222222" stroke="#222222" stroke-width="0.22">S38</tspan><tspan fill="#e2352b" stroke="#e2352b" stroke-width="0.22">9E</tspan></text>
<rect x="292.6" y="579.5" width="24" height="3.5" fill="#000" />
<text x="392.6" y="364.7" font-size="16" font-weight="bold"><tspan fill="#000" stroke="#000" stroke-width="0.22">f</tspan></text>
<circle cx="477.3" cy="445.2" r="2.95" fill="#a3a3a3" stroke="#909090" stroke-width="0.5"/>
<circle cx="473.9" cy="467.6" r="2.95" fill="#a3a3a3" stroke="#909090" stroke-width="0.5"/>
<circle cx="480.7" cy="469.2" r="2.95" fill="#a3a3a3" stroke="#909090" stroke-width="0.5"/>
<circle cx="477.3" cy="474.8" r="2.95" fill="#a3a3a3" stroke="#909090" stroke-width="0.5"/>
<circle cx="484.0" cy="479.7" r="2.95" fill="#a3a3a3" stroke="#909090" stroke-width="0.5"/>
<circle cx="471.3" cy="483.8" r="2.95" fill="#a3a3a3" stroke="#909090" stroke-width="0.5"/>
<circle cx="477.3" cy="489.4" r="2.95" fill="#a3a3a3" stroke="#909090" stroke-width="0.5"/>
<circle cx="471.3" cy="491.6" r="2.95" fill="#a3a3a3" stroke="#909090" stroke-width="0.5"/>
<circle cx="484.0" cy="495.0" r="2.95" fill="#a3a3a3" stroke="#909090" stroke-width="0.5"/>
<circle cx="484.0" cy="503.5" r="2.95" fill="#a3a3a3" stroke="#909090" stroke-width="0.5"/>
<circle cx="471.3" cy="505.1" r="2.95" fill="#a3a3a3" stroke="#909090" stroke-width="0.5"/>
<circle cx="477.3" cy="509.6" r="2.95" fill="#a3a3a3" stroke="#909090" stroke-width="0.5"/>
<circle cx="477.3" cy="517.4" r="2.95" fill="#a3a3a3" stroke="#909090" stroke-width="0.5"/>
<circle cx="471.3" cy="520.8" r="2.95" fill="#a3a3a3" stroke="#909090" stroke-width="0.5"/>
<circle cx="484.0" cy="520.8" r="2.95" fill="#a3a3a3" stroke="#909090" stroke-width="0.5"/>
<circle cx="477.3" cy="526.8" r="2.95" fill="#a3a3a3" stroke="#909090" stroke-width="0.5"/>
<circle cx="484.0" cy="533.5" r="2.95" fill="#a3a3a3" stroke="#909090" stroke-width="0.5"/>
<circle cx="471.3" cy="539.4" r="2.95" fill="#a3a3a3" stroke="#909090" stroke-width="0.5"/>
<circle cx="477.3" cy="540.9" r="2.95" fill="#a3a3a3" stroke="#909090" stroke-width="0.5"/>
<circle cx="484.0" cy="540.9" r="2.95" fill="#a3a3a3" stroke="#909090" stroke-width="0.5"/>
<circle cx="471.3" cy="545.4" r="2.95" fill="#a3a3a3" stroke="#909090" stroke-width="0.5"/>
<circle cx="477.3" cy="547.6" r="2.95" fill="#a3a3a3" stroke="#909090" stroke-width="0.5"/>
<circle cx="484.0" cy="547.6" r="2.95" fill="#a3a3a3" stroke="#909090" stroke-width="0.5"/>
<circle cx="464.5" cy="552.1" r="2.95" fill="#a3a3a3" stroke="#909090" stroke-width="0.5"/>
<circle cx="471.3" cy="553.2" r="2.95" fill="#a3a3a3" stroke="#909090" stroke-width="0.5"/>
<circle cx="490.8" cy="552.8" r="2.95" fill="#a3a3a3" stroke="#909090" stroke-width="0.5"/>
<circle cx="477.3" cy="556.6" r="2.95" fill="#a3a3a3" stroke="#909090" stroke-width="0.5"/>
<circle cx="484.0" cy="555.5" r="2.95" fill="#a3a3a3" stroke="#909090" stroke-width="0.5"/>
<circle cx="464.5" cy="564.0" r="2.95" fill="#a3a3a3" stroke="#909090" stroke-width="0.5"/>
<circle cx="471.3" cy="565.6" r="2.95" fill="#a3a3a3" stroke="#909090" stroke-width="0.5"/>
<circle cx="477.3" cy="562.2" r="2.95" fill="#a3a3a3" stroke="#909090" stroke-width="0.5"/>
<circle cx="490.8" cy="564.5" r="2.95" fill="#a3a3a3" stroke="#909090" stroke-width="0.5"/>
<circle cx="464.5" cy="570.7" r="2.95" fill="#a3a3a3" stroke="#909090" stroke-width="0.5"/>
<circle cx="477.3" cy="568.5" r="2.95" fill="#a3a3a3" stroke="#909090" stroke-width="0.5"/>
<circle cx="484.0" cy="567.8" r="2.95" fill="#a3a3a3" stroke="#909090" stroke-width="0.5"/>
<circle cx="490.8" cy="570.7" r="2.95" fill="#a3a3a3" stroke="#909090" stroke-width="0.5"/>
<circle cx="525.5" cy="441.2" r="2.95" fill="#a3a3a3" stroke="#909090" stroke-width="0.5"/>
<circle cx="525.5" cy="447.5" r="2.95" fill="#a3a3a3" stroke="#909090" stroke-width="0.5"/>
<circle cx="521.0" cy="458.0" r="2.95" fill="#a3a3a3" stroke="#909090" stroke-width="0.5"/>
<circle cx="529.5" cy="458.0" r="2.95" fill="#a3a3a3" stroke="#909090" stroke-width="0.5"/>
<circle cx="525.5" cy="472.1" r="2.95" fill="#a3a3a3" stroke="#909090" stroke-width="0.5"/>
<circle cx="525.5" cy="478.2" r="2.95" fill="#a3a3a3" stroke="#909090" stroke-width="0.5"/>
<circle cx="525.5" cy="496.1" r="2.95" fill="#a3a3a3" stroke="#909090" stroke-width="0.5"/>
<circle cx="525.5" cy="516.3" r="2.95" fill="#a3a3a3" stroke="#909090" stroke-width="0.5"/>
<circle cx="512.0" cy="535.8" r="2.95" fill="#a3a3a3" stroke="#909090" stroke-width="0.5"/>
<circle cx="521.0" cy="526.4" r="2.95" fill="#a3a3a3" stroke="#909090" stroke-width="0.5"/>
<circle cx="534.5" cy="526.8" r="2.95" fill="#a3a3a3" stroke="#909090" stroke-width="0.5"/>
<circle cx="538.9" cy="535.8" r="2.95" fill="#a3a3a3" stroke="#909090" stroke-width="0.5"/>
<circle cx="521.0" cy="547.0" r="2.95" fill="#a3a3a3" stroke="#909090" stroke-width="0.5"/>
<circle cx="530.0" cy="540.9" r="2.95" fill="#a3a3a3" stroke="#909090" stroke-width="0.5"/>
<circle cx="521.0" cy="558.2" r="2.95" fill="#a3a3a3" stroke="#909090" stroke-width="0.5"/>
<circle cx="530.0" cy="557.3" r="2.95" fill="#a3a3a3" stroke="#909090" stroke-width="0.5"/>
<circle cx="538.9" cy="551.7" r="2.95" fill="#a3a3a3" stroke="#909090" stroke-width="0.5"/>
<circle cx="538.9" cy="561.1" r="2.95" fill="#a3a3a3" stroke="#909090" stroke-width="0.5"/>
<circle cx="525.5" cy="573.4" r="2.95" fill="#a3a3a3" stroke="#909090" stroke-width="0.5"/>
<circle cx="525.5" cy="486.0" r="2.95" fill="#a3a3a3" stroke="#909090" stroke-width="0.5"/>
<circle cx="569.1" cy="465.9" r="2.95" fill="#a3a3a3" stroke="#909090" stroke-width="0.5"/>
<circle cx="573.6" cy="469.9" r="2.95" fill="#a3a3a3" stroke="#909090" stroke-width="0.5"/>
<circle cx="569.1" cy="478.9" r="2.95" fill="#a3a3a3" stroke="#909090" stroke-width="0.5"/>
<circle cx="578.1" cy="477.1" r="2.95" fill="#a3a3a3" stroke="#909090" stroke-width="0.5"/>
<circle cx="573.6" cy="484.2" r="2.95" fill="#a3a3a3" stroke="#909090" stroke-width="0.5"/>
<circle cx="578.1" cy="484.2" r="2.95" fill="#a3a3a3" stroke="#909090" stroke-width="0.5"/>
<circle cx="564.6" cy="492.7" r="2.95" fill="#a3a3a3" stroke="#909090" stroke-width="0.5"/>
<circle cx="569.1" cy="496.1" r="2.95" fill="#a3a3a3" stroke="#909090" stroke-width="0.5"/>
<circle cx="573.6" cy="495.0" r="2.95" fill="#a3a3a3" stroke="#909090" stroke-width="0.5"/>
<circle cx="582.1" cy="493.2" r="2.95" fill="#a3a3a3" stroke="#909090" stroke-width="0.5"/>
<circle cx="569.1" cy="505.1" r="2.95" fill="#a3a3a3" stroke="#909090" stroke-width="0.5"/>
<circle cx="578.1" cy="501.3" r="2.95" fill="#a3a3a3" stroke="#909090" stroke-width="0.5"/>
<circle cx="573.6" cy="508.4" r="2.95" fill="#a3a3a3" stroke="#909090" stroke-width="0.5"/>
<circle cx="564.6" cy="512.9" r="2.95" fill="#a3a3a3" stroke="#909090" stroke-width="0.5"/>
<circle cx="573.6" cy="515.2" r="2.95" fill="#a3a3a3" stroke="#909090" stroke-width="0.5"/>
<circle cx="582.1" cy="514.7" r="2.95" fill="#a3a3a3" stroke="#909090" stroke-width="0.5"/>
<circle cx="569.1" cy="519.6" r="2.95" fill="#a3a3a3" stroke="#909090" stroke-width="0.5"/>
<circle cx="578.1" cy="519.6" r="2.95" fill="#a3a3a3" stroke="#909090" stroke-width="0.5"/>
<circle cx="564.6" cy="524.1" r="2.95" fill="#a3a3a3" stroke="#909090" stroke-width="0.5"/>
<circle cx="573.6" cy="525.2" r="2.95" fill="#a3a3a3" stroke="#909090" stroke-width="0.5"/>
<circle cx="582.6" cy="525.2" r="2.95" fill="#a3a3a3" stroke="#909090" stroke-width="0.5"/>
<circle cx="569.1" cy="529.7" r="2.95" fill="#a3a3a3" stroke="#909090" stroke-width="0.5"/>
<circle cx="578.1" cy="533.5" r="2.95" fill="#a3a3a3" stroke="#909090" stroke-width="0.5"/>
<circle cx="573.6" cy="533.1" r="2.95" fill="#a3a3a3" stroke="#909090" stroke-width="0.5"/>
<circle cx="560.2" cy="539.1" r="2.95" fill="#a3a3a3" stroke="#909090" stroke-width="0.5"/>
<circle cx="569.1" cy="537.6" r="2.95" fill="#a3a3a3" stroke="#909090" stroke-width="0.5"/>
<circle cx="578.1" cy="538.7" r="2.95" fill="#a3a3a3" stroke="#909090" stroke-width="0.5"/>
<circle cx="587.1" cy="539.8" r="2.95" fill="#a3a3a3" stroke="#909090" stroke-width="0.5"/>
<circle cx="564.6" cy="545.4" r="2.95" fill="#a3a3a3" stroke="#909090" stroke-width="0.5"/>
<circle cx="573.6" cy="543.2" r="2.95" fill="#a3a3a3" stroke="#909090" stroke-width="0.5"/>
<circle cx="582.6" cy="544.3" r="2.95" fill="#a3a3a3" stroke="#909090" stroke-width="0.5"/>
<circle cx="569.1" cy="552.1" r="2.95" fill="#a3a3a3" stroke="#909090" stroke-width="0.5"/>
<circle cx="573.6" cy="551.0" r="2.95" fill="#a3a3a3" stroke="#909090" stroke-width="0.5"/>
<circle cx="578.1" cy="552.1" r="2.95" fill="#a3a3a3" stroke="#909090" stroke-width="0.5"/>
<circle cx="569.1" cy="557.7" r="2.95" fill="#a3a3a3" stroke="#909090" stroke-width="0.5"/>
<circle cx="575.9" cy="558.2" r="2.95" fill="#a3a3a3" stroke="#909090" stroke-width="0.5"/>
<circle cx="571.4" cy="570.1" r="2.95" fill="#a3a3a3" stroke="#909090" stroke-width="0.5"/>
<circle cx="575.9" cy="568.9" r="2.95" fill="#a3a3a3" stroke="#909090" stroke-width="0.5"/>
<circle cx="620.7" cy="519.2" r="2.95" fill="#a3a3a3" stroke="#909090" stroke-width="0.5"/>
<circle cx="623.4" cy="519.2" r="2.95" fill="#a3a3a3" stroke="#909090" stroke-width="0.5"/>
<circle cx="620.7" cy="524.1" r="2.95" fill="#a3a3a3" stroke="#909090" stroke-width="0.5"/>
<circle cx="623.4" cy="528.6" r="2.95" fill="#a3a3a3" stroke="#909090" stroke-width="0.5"/>
<circle cx="620.7" cy="533.1" r="2.95" fill="#a3a3a3" stroke="#909090" stroke-width="0.5"/>
<circle cx="623.4" cy="535.8" r="2.95" fill="#a3a3a3" stroke="#909090" stroke-width="0.5"/>
<circle cx="623.4" cy="542.0" r="2.95" fill="#a3a3a3" stroke="#909090" stroke-width="0.5"/>
<circle cx="613.9" cy="558.2" r="2.95" fill="#a3a3a3" stroke="#909090" stroke-width="0.5"/>
<circle cx="625.2" cy="558.2" r="2.95" fill="#a3a3a3" stroke="#909090" stroke-width="0.5"/>
<circle cx="611.7" cy="566.7" r="2.95" fill="#a3a3a3" stroke="#909090" stroke-width="0.5"/>
<circle cx="617.3" cy="567.8" r="2.95" fill="#a3a3a3" stroke="#909090" stroke-width="0.5"/>
<circle cx="628.5" cy="565.6" r="2.95" fill="#a3a3a3" stroke="#909090" stroke-width="0.5"/>
<circle cx="634.1" cy="567.8" r="2.95" fill="#a3a3a3" stroke="#909090" stroke-width="0.5"/>
<circle cx="613.9" cy="572.3" r="2.95" fill="#a3a3a3" stroke="#909090" stroke-width="0.5"/>
<circle cx="620.7" cy="573.4" r="2.95" fill="#a3a3a3" stroke="#909090" stroke-width="0.5"/>
<circle cx="627.4" cy="572.3" r="2.95" fill="#a3a3a3" stroke="#909090" stroke-width="0.5"/>
<circle cx="622.9" cy="575.2" r="2.95" fill="#a3a3a3" stroke="#909090" stroke-width="0.5"/>
<circle cx="631.9" cy="571.2" r="2.95" fill="#a3a3a3" stroke="#909090" stroke-width="0.5"/>
<circle cx="607.2" cy="564.5" r="2.95" fill="#a3a3a3" stroke="#909090" stroke-width="0.5"/>
<circle cx="616.2" cy="563.3" r="2.95" fill="#a3a3a3" stroke="#909090" stroke-width="0.5"/>
<circle cx="672.2" cy="472.6" r="2.95" fill="#a3a3a3" stroke="#909090" stroke-width="0.5"/>
<circle cx="667.7" cy="477.1" r="2.95" fill="#a3a3a3" stroke="#909090" stroke-width="0.5"/>
<circle cx="664.4" cy="482.7" r="2.95" fill="#a3a3a3" stroke="#909090" stroke-width="0.5"/>
<circle cx="669.5" cy="487.1" r="2.95" fill="#a3a3a3" stroke="#909090" stroke-width="0.5"/>
<circle cx="669.5" cy="525.9" r="2.95" fill="#a3a3a3" stroke="#909090" stroke-width="0.5"/>
<circle cx="661.0" cy="533.5" r="2.95" fill="#a3a3a3" stroke="#909090" stroke-width="0.5"/>
<circle cx="678.5" cy="533.5" r="2.95" fill="#a3a3a3" stroke="#909090" stroke-width="0.5"/>
<circle cx="665.5" cy="540.9" r="2.95" fill="#a3a3a3" stroke="#909090" stroke-width="0.5"/>
<circle cx="674.5" cy="544.3" r="2.95" fill="#a3a3a3" stroke="#909090" stroke-width="0.5"/>
<circle cx="665.5" cy="546.5" r="2.95" fill="#a3a3a3" stroke="#909090" stroke-width="0.5"/>
<circle cx="674.5" cy="549.9" r="2.95" fill="#a3a3a3" stroke="#909090" stroke-width="0.5"/>
<circle cx="678.9" cy="557.7" r="2.95" fill="#a3a3a3" stroke="#909090" stroke-width="0.5"/>
<circle cx="656.5" cy="564.5" r="2.95" fill="#a3a3a3" stroke="#909090" stroke-width="0.5"/>
<circle cx="662.1" cy="559.5" r="2.95" fill="#a3a3a3" stroke="#909090" stroke-width="0.5"/>
<circle cx="667.7" cy="560.0" r="2.95" fill="#a3a3a3" stroke="#909090" stroke-width="0.5"/>
<circle cx="674.5" cy="564.5" r="2.95" fill="#a3a3a3" stroke="#909090" stroke-width="0.5"/>
<circle cx="683.4" cy="564.0" r="2.95" fill="#a3a3a3" stroke="#909090" stroke-width="0.5"/>
<circle cx="665.5" cy="566.7" r="2.95" fill="#a3a3a3" stroke="#909090" stroke-width="0.5"/>
<circle cx="672.2" cy="570.1" r="2.95" fill="#a3a3a3" stroke="#909090" stroke-width="0.5"/>
<circle cx="678.9" cy="567.8" r="2.95" fill="#a3a3a3" stroke="#909090" stroke-width="0.5"/>
<circle cx="669.5" cy="576.8" r="2.95" fill="#a3a3a3" stroke="#909090" stroke-width="0.5"/>
<circle cx="658.8" cy="558.9" r="2.95" fill="#a3a3a3" stroke="#909090" stroke-width="0.5"/>
<line x1="462" y1="538.2" x2="493" y2="538.2" stroke="#111" stroke-width="2.5"/>
<line x1="477.3" y1="505.7" x2="477.3" y2="552.8" stroke="#111" stroke-width="2.5"/>
<line x1="469.5" y1="505.7" x2="485.6" y2="505.7" stroke="#111" stroke-width="2.5"/>
<line x1="469.5" y1="552.8" x2="485.6" y2="552.8" stroke="#111" stroke-width="2.5"/>
<line x1="508.7" y1="526.0" x2="541.6" y2="526.0" stroke="#111" stroke-width="2.5"/>
<line x1="525.0" y1="486.7" x2="525.0" y2="541.0" stroke="#111" stroke-width="2.5"/>
<line x1="516.5" y1="486.7" x2="533.8" y2="486.7" stroke="#111" stroke-width="2.5"/>
<line x1="516.5" y1="541.0" x2="533.8" y2="541.0" stroke="#111" stroke-width="2.5"/>
<line x1="558" y1="523.0" x2="589.7" y2="523.0" stroke="#111" stroke-width="2.5"/>
<line x1="573.6" y1="514.0" x2="573.6" y2="539.8" stroke="#111" stroke-width="2.5"/>
<line x1="566.4" y1="514.0" x2="581.5" y2="514.0" stroke="#111" stroke-width="2.5"/>
<line x1="566.4" y1="539.8" x2="581.5" y2="539.8" stroke="#111" stroke-width="2.5"/>
<line x1="605.7" y1="565.6" x2="637.5" y2="565.6" stroke="#111" stroke-width="2.5"/>
<line x1="621.1" y1="545.4" x2="621.1" y2="568.3" stroke="#111" stroke-width="2.5"/>
<line x1="614" y1="545.4" x2="629.2" y2="545.4" stroke="#111" stroke-width="2.5"/>
<line x1="614" y1="568.3" x2="629.2" y2="568.3" stroke="#111" stroke-width="2.5"/>
<line x1="654" y1="557.7" x2="685.2" y2="557.7" stroke="#111" stroke-width="2.5"/>
<line x1="669.5" y1="536.9" x2="669.5" y2="563.8" stroke="#111" stroke-width="2.5"/>
<line x1="662" y1="536.9" x2="677" y2="536.9" stroke="#111" stroke-width="2.5"/>
<line x1="662" y1="563.8" x2="677" y2="563.8" stroke="#111" stroke-width="2.5"/>
<line x1="445.7" y1="434.3" x2="445.7" y2="581.9" stroke="#111" stroke-width="3.1"/>
<line x1="444.8" y1="580.5" x2="703" y2="580.5" stroke="#111" stroke-width="2.8"/>
<line x1="440.3" y1="580.6" x2="446" y2="580.6" stroke="#111" stroke-width="2.0"/>
<text x="439.0" y="584.3000000000001" font-size="10.4" text-anchor="end" font-weight="bold" textLength="5.2" lengthAdjust="spacingAndGlyphs"><tspan fill="#111" stroke="#111" stroke-width="0.22">0</tspan></text>
<line x1="440.3" y1="544.525" x2="446" y2="544.525" stroke="#111" stroke-width="2.0"/>
<text x="439.0" y="548.225" font-size="10.4" text-anchor="end" font-weight="bold" textLength="15.6" lengthAdjust="spacingAndGlyphs"><tspan fill="#111" stroke="#111" stroke-width="0.22">500</tspan></text>
<line x1="440.3" y1="508.45000000000005" x2="446" y2="508.45000000000005" stroke="#111" stroke-width="2.0"/>
<text x="439.0" y="512.1500000000001" font-size="10.4" text-anchor="end" font-weight="bold" textLength="20.8" lengthAdjust="spacingAndGlyphs"><tspan fill="#111" stroke="#111" stroke-width="0.22">1000</tspan></text>
<line x1="440.3" y1="472.375" x2="446" y2="472.375" stroke="#111" stroke-width="2.0"/>
<text x="439.0" y="476.075" font-size="10.4" text-anchor="end" font-weight="bold" textLength="20.8" lengthAdjust="spacingAndGlyphs"><tspan fill="#111" stroke="#111" stroke-width="0.22">1500</tspan></text>
<line x1="440.3" y1="436.3" x2="446" y2="436.3" stroke="#111" stroke-width="2.0"/>
<text x="439.0" y="440.0" font-size="10.4" text-anchor="end" font-weight="bold" textLength="20.8" lengthAdjust="spacingAndGlyphs"><tspan fill="#111" stroke="#111" stroke-width="0.22">2000</tspan></text>
<line x1="477.3" y1="580.5" x2="477.3" y2="585.3" stroke="#111" stroke-width="2.2"/>
<line x1="525.0" y1="580.5" x2="525.0" y2="585.3" stroke="#111" stroke-width="2.2"/>
<line x1="573.6" y1="580.5" x2="573.6" y2="585.3" stroke="#111" stroke-width="2.2"/>
<line x1="621.1" y1="580.5" x2="621.1" y2="585.3" stroke="#111" stroke-width="2.2"/>
<line x1="669.8" y1="580.5" x2="669.8" y2="585.3" stroke="#111" stroke-width="2.2"/>
<text x="408.6" y="508.6" font-size="10.6" text-anchor="middle" textLength="125.8" lengthAdjust="spacingAndGlyphs" transform="rotate(-90 408.6 508.6)"><tspan fill="#222222" stroke="#222222" stroke-width="0.22">Total neurite length (µm)</tspan></text>
<text x="467.2" y="594.9" font-size="10.2" textLength="15.8" lengthAdjust="spacingAndGlyphs"><tspan fill="#222222" stroke="#222222" stroke-width="0.22">WT</tspan></text>
<text x="508.7" y="594.9" font-size="10.2" textLength="30.3" lengthAdjust="spacingAndGlyphs"><tspan fill="#222222" stroke="#222222" stroke-width="0.22">S38</tspan><tspan fill="#e2352b" stroke="#e2352b" stroke-width="0.22">3A</tspan></text>
<text x="508.7" y="607.9" font-size="10.2" textLength="30.3" lengthAdjust="spacingAndGlyphs"><tspan fill="#222222" stroke="#222222" stroke-width="0.22">S38</tspan><tspan fill="#e2352b" stroke="#e2352b" stroke-width="0.22">9A</tspan></text>
<text x="557" y="594.9" font-size="10.2" textLength="29.2" lengthAdjust="spacingAndGlyphs"><tspan fill="#222222" stroke="#222222" stroke-width="0.22">S38</tspan><tspan fill="#e2352b" stroke="#e2352b" stroke-width="0.22">3E</tspan></text>
<text x="557" y="607.9" font-size="10.2" textLength="29.2" lengthAdjust="spacingAndGlyphs"><tspan fill="#222222" stroke="#222222" stroke-width="0.22">S38</tspan><tspan fill="#e2352b" stroke="#e2352b" stroke-width="0.22">9A</tspan></text>
<text x="605.8" y="594.9" font-size="10.2" textLength="28.7" lengthAdjust="spacingAndGlyphs"><tspan fill="#222222" stroke="#222222" stroke-width="0.22">S38</tspan><tspan fill="#e2352b" stroke="#e2352b" stroke-width="0.22">3A</tspan></text>
<text x="605.8" y="607.9" font-size="10.2" textLength="28.7" lengthAdjust="spacingAndGlyphs"><tspan fill="#222222" stroke="#222222" stroke-width="0.22">S38</tspan><tspan fill="#e2352b" stroke="#e2352b" stroke-width="0.22">9E</tspan></text>
<text x="654" y="594.9" font-size="10.2" textLength="29" lengthAdjust="spacingAndGlyphs"><tspan fill="#222222" stroke="#222222" stroke-width="0.22">S38</tspan><tspan fill="#e2352b" stroke="#e2352b" stroke-width="0.22">3E</tspan></text>
<text x="654" y="607.9" font-size="10.2" textLength="29" lengthAdjust="spacingAndGlyphs"><tspan fill="#222222" stroke="#222222" stroke-width="0.22">S38</tspan><tspan fill="#e2352b" stroke="#e2352b" stroke-width="0.22">9E</tspan></text>
<path d="M525 392.5 L525 385 L669 385 L669 392.5" stroke="#111" stroke-width="1.9" fill="none"/>
<path d="M592.90 378.00L592.90 384.00M590.30 379.50L595.50 382.50M595.50 379.50L590.30 382.50" stroke="#222" stroke-width="1.3" fill="none"/>
<path d="M601.70 378.00L601.70 384.00M599.10 379.50L604.30 382.50M604.30 379.50L599.10 382.50" stroke="#222" stroke-width="1.3" fill="none"/>
<path d="M573.8 400.4 L573.8 395.1 L669 395.1 L669 401.4" stroke="#111" stroke-width="1.9" fill="none"/>
<path d="M617.60 387.80L617.60 393.80M615.00 389.30L620.20 392.30M620.20 389.30L615.00 392.30" stroke="#222" stroke-width="1.3" fill="none"/>
<path d="M626.40 387.80L626.40 393.80M623.80 389.30L629.00 392.30M629.00 389.30L623.80 392.30" stroke="#222" stroke-width="1.3" fill="none"/>
<path d="M479 421.2 L479 413.7 L620.8 413.7 L620.8 420.4" stroke="#111" stroke-width="1.9" fill="none"/>
<path d="M541.50 406.70L541.50 412.70M538.90 408.20L544.10 411.20M544.10 408.20L538.90 411.20" stroke="#222" stroke-width="1.3" fill="none"/>
<path d="M550.30 406.70L550.30 412.70M547.70 408.20L552.90 411.20M552.90 408.20L547.70 411.20" stroke="#222" stroke-width="1.3" fill="none"/>
<path d="M559.10 406.70L559.10 412.70M556.50 408.20L561.70 411.20M561.70 408.20L556.50 411.20" stroke="#222" stroke-width="1.3" fill="none"/>
<path d="M525 431.6 L525 423.1 L620.8 423.1 L620.8 430.5" stroke="#111" stroke-width="1.9" fill="none"/>
<path d="M564.20 415.80L564.20 421.80M561.60 417.30L566.80 420.30M566.80 417.30L561.60 420.30" stroke="#222" stroke-width="1.3" fill="none"/>
<path d="M573.00 415.80L573.00 421.80M570.40 417.30L575.60 420.30M575.60 417.30L570.40 420.30" stroke="#222" stroke-width="1.3" fill="none"/>
<path d="M581.80 415.80L581.80 421.80M579.20 417.30L584.40 420.30M584.40 417.30L579.20 420.30" stroke="#222" stroke-width="1.3" fill="none"/>
<path d="M573.8 439 L573.8 432 L620.8 432 L620.8 439" stroke="#111" stroke-width="1.9" fill="none"/>
<path d="M588.50 424.80L588.50 430.80M585.90 426.30L591.10 429.30M591.10 426.30L585.90 429.30" stroke="#222" stroke-width="1.3" fill="none"/>
<path d="M597.30 424.80L597.30 430.80M594.70 426.30L599.90 429.30M599.90 426.30L594.70 429.30" stroke="#222" stroke-width="1.3" fill="none"/>
<path d="M606.10 424.80L606.10 430.80M603.50 426.30L608.70 429.30M608.70 426.30L603.50 429.30" stroke="#222" stroke-width="1.3" fill="none"/>
<text x="0.9" y="636" font-size="16" font-weight="bold"><tspan fill="#000" stroke="#000" stroke-width="0.22">g</tspan></text>
<rect x="27.3" y="639.5" width="93.2" height="91.70000000000005" fill="#070707"/>
<rect x="69.2" y="690.4" width="1.2" height="1.2" fill="rgb(189,189,189)"/><rect x="69.1" y="717.0" width="1.3" height="1.3" fill="rgb(86,86,86)"/><rect x="71.3" y="695.3" width="1.2" height="1.2" fill="rgb(86,86,86)"/><rect x="55.6" y="648.2" width="0.8" height="0.8" fill="rgb(173,173,173)"/><rect x="82.3" y="675.7" width="1.3" height="1.3" fill="rgb(123,123,123)"/><rect x="87.3" y="696.1" width="0.8" height="0.8" fill="rgb(176,176,176)"/><rect x="33.2" y="657.1" width="0.8" height="0.8" fill="rgb(93,93,93)"/><rect x="99.0" y="669.4" width="1.0" height="1.0" fill="rgb(142,142,142)"/><rect x="75.3" y="697.6" width="0.8" height="0.8" fill="rgb(129,129,129)"/><rect x="69.6" y="665.0" width="0.8" height="0.8" fill="rgb(199,199,199)"/><rect x="92.6" y="668.4" width="1.0" height="1.0" fill="rgb(92,92,92)"/><rect x="30.5" y="690.7" width="0.8" height="0.8" fill="rgb(75,75,75)"/><rect x="105.3" y="674.8" width="0.8" height="0.8" fill="rgb(194,194,194)"/><rect x="47.3" y="723.4" width="1.2" height="1.2" fill="rgb(67,67,67)"/><rect x="117.5" y="675.8" width="1.0" height="1.0" fill="rgb(70,70,70)"/><rect x="99.0" y="664.3" width="1.0" height="1.0" fill="rgb(72,72,72)"/><rect x="29.2" y="676.9" width="1.0" height="1.0" fill="rgb(189,189,189)"/><rect x="50.3" y="649.1" width="1.2" height="1.2" fill="rgb(68,68,68)"/><rect x="44.1" y="690.3" width="1.0" height="1.0" fill="rgb(122,122,122)"/><rect x="118.0" y="709.3" width="1.2" height="1.2" fill="rgb(118,118,118)"/><rect x="38.5" y="677.9" width="1.0" height="1.0" fill="rgb(89,89,89)"/><rect x="106.9" y="727.7" width="0.8" height="0.8" fill="rgb(142,142,142)"/><rect x="47.1" y="675.5" width="1.3" height="1.3" fill="rgb(179,179,179)"/><rect x="37.0" y="729.0" width="1.0" height="1.0" fill="rgb(89,89,89)"/><rect x="28.7" y="694.9" width="1.2" height="1.2" fill="rgb(176,176,176)"/><rect x="34.5" y="648.1" width="1.0" height="1.0" fill="rgb(141,141,141)"/><rect x="29.2" y="673.2" width="1.0" height="1.0" fill="rgb(147,147,147)"/><rect x="115.6" y="683.5" width="1.2" height="1.2" fill="rgb(140,140,140)"/><rect x="44.5" y="653.9" width="1.3" height="1.3" fill="rgb(187,187,187)"/><rect x="50.6" y="657.1" width="1.3" height="1.3" fill="rgb(163,163,163)"/><rect x="45.8" y="725.5" width="1.3" height="1.3" fill="rgb(183,183,183)"/><rect x="35.0" y="644.3" width="1.3" height="1.3" fill="rgb(75,75,75)"/><rect x="115.9" y="661.5" width="1.0" height="1.0" fill="rgb(158,158,158)"/><rect x="66.3" y="721.4" width="1.3" height="1.3" fill="rgb(128,128,128)"/><rect x="43.9" y="704.8" width="1.0" height="1.0" fill="rgb(69,69,69)"/><rect x="71.7" y="698.8" width="0.8" height="0.8" fill="rgb(146,146,146)"/><rect x="53.4" y="722.6" width="0.8" height="0.8" fill="rgb(88,88,88)"/><rect x="34.1" y="677.0" width="0.8" height="0.8" fill="rgb(94,94,94)"/><rect x="43.9" y="673.2" width="1.0" height="1.0" fill="rgb(140,140,140)"/><rect x="36.2" y="652.5" width="1.0" height="1.0" fill="rgb(123,123,123)"/><rect x="87.9" y="702.2" width="1.0" height="1.0" fill="rgb(141,141,141)"/><rect x="81.8" y="723.1" width="1.0" height="1.0" fill="rgb(126,126,126)"/><rect x="91.9" y="726.6" width="0.8" height="0.8" fill="rgb(62,62,62)"/><rect x="71.9" y="705.7" width="0.8" height="0.8" fill="rgb(104,104,104)"/><rect x="34.7" y="689.1" width="1.0" height="1.0" fill="rgb(163,163,163)"/><rect x="100.4" y="722.4" width="1.2" height="1.2" fill="rgb(109,109,109)"/><rect x="110.2" y="718.4" width="0.8" height="0.8" fill="rgb(118,118,118)"/><rect x="106.8" y="691.6" width="1.2" height="1.2" fill="rgb(147,147,147)"/><rect x="62.5" y="641.1" width="0.8" height="0.8" fill="rgb(70,70,70)"/><rect x="86.3" y="729.4" width="1.0" height="1.0" fill="rgb(183,183,183)"/><rect x="63.3" y="706.2" width="1.2" height="1.2" fill="rgb(141,141,141)"/><rect x="70.1" y="688.7" width="1.3" height="1.3" fill="rgb(132,132,132)"/><rect x="30.5" y="694.1" width="1.0" height="1.0" fill="rgb(127,127,127)"/><rect x="115.4" y="650.2" width="1.2" height="1.2" fill="rgb(169,169,169)"/><rect x="51.2" y="641.0" width="1.3" height="1.3" fill="rgb(102,102,102)"/><rect x="46.3" y="655.3" width="1.2" height="1.2" fill="rgb(186,186,186)"/><rect x="73.4" y="661.7" width="1.0" height="1.0" fill="rgb(116,116,116)"/><rect x="46.0" y="678.8" width="1.0" height="1.0" fill="rgb(172,172,172)"/><rect x="108.3" y="674.6" width="1.0" height="1.0" fill="rgb(141,141,141)"/><rect x="47.0" y="652.1" width="0.8" height="0.8" fill="rgb(109,109,109)"/><rect x="92.9" y="725.5" width="1.0" height="1.0" fill="rgb(98,98,98)"/><rect x="38.1" y="682.4" width="1.2" height="1.2" fill="rgb(189,189,189)"/><rect x="62.8" y="686.8" width="1.3" height="1.3" fill="rgb(154,154,154)"/><rect x="69.2" y="646.7" width="1.3" height="1.3" fill="rgb(64,64,64)"/><rect x="31.6" y="703.8" width="1.0" height="1.0" fill="rgb(139,139,139)"/><rect x="87.2" y="690.8" width="1.2" height="1.2" fill="rgb(149,149,149)"/><rect x="69.4" y="642.2" width="1.0" height="1.0" fill="rgb(176,176,176)"/><rect x="99.1" y="711.7" width="0.8" height="0.8" fill="rgb(197,197,197)"/><rect x="68.7" y="696.7" width="1.0" height="1.0" fill="rgb(151,151,151)"/><rect x="115.5" y="701.6" width="1.2" height="1.2" fill="rgb(87,87,87)"/><rect x="51.2" y="704.3" width="1.3" height="1.3" fill="rgb(165,165,165)"/><rect x="93.1" y="656.1" width="1.0" height="1.0" fill="rgb(98,98,98)"/><rect x="77.2" y="725.2" width="1.0" height="1.0" fill="rgb(130,130,130)"/><rect x="63.8" y="711.3" width="0.8" height="0.8" fill="rgb(186,186,186)"/><rect x="65.4" y="720.3" width="1.2" height="1.2" fill="rgb(114,114,114)"/><rect x="69.3" y="696.3" width="1.2" height="1.2" fill="rgb(187,187,187)"/><rect x="78.1" y="698.7" width="1.0" height="1.0" fill="rgb(130,130,130)"/><rect x="70.2" y="698.6" width="0.8" height="0.8" fill="rgb(88,88,88)"/><rect x="47.3" y="721.0" width="1.0" height="1.0" fill="rgb(197,197,197)"/><rect x="76.9" y="711.2" width="0.8" height="0.8" fill="rgb(104,104,104)"/><rect x="59.7" y="647.4" width="1.3" height="1.3" fill="rgb(121,121,121)"/><rect x="66.4" y="664.8" width="1.0" height="1.0" fill="rgb(188,188,188)"/><rect x="101.8" y="645.8" width="1.0" height="1.0" fill="rgb(171,171,171)"/><rect x="76.6" y="701.8" width="1.2" height="1.2" fill="rgb(188,188,188)"/><rect x="41.4" y="686.5" width="1.2" height="1.2" fill="rgb(161,161,161)"/><rect x="114.3" y="684.3" width="0.8" height="0.8" fill="rgb(192,192,192)"/><rect x="97.1" y="679.5" width="1.3" height="1.3" fill="rgb(138,138,138)"/><rect x="86.3" y="687.1" width="1.3" height="1.3" fill="rgb(178,178,178)"/><rect x="51.3" y="700.4" width="1.3" height="1.3" fill="rgb(193,193,193)"/><rect x="46.9" y="716.6" width="1.3" height="1.3" fill="rgb(195,195,195)"/><rect x="52.8" y="684.8" width="0.8" height="0.8" fill="rgb(117,117,117)"/><rect x="73.8" y="694.5" width="0.8" height="0.8" fill="rgb(63,63,63)"/><rect x="75.0" y="676.1" width="1.3" height="1.3" fill="rgb(172,172,172)"/><rect x="39.0" y="648.4" width="1.3" height="1.3" fill="rgb(83,83,83)"/><rect x="69.8" y="722.9" width="1.2" height="1.2" fill="rgb(172,172,172)"/><rect x="52.4" y="682.6" width="1.2" height="1.2" fill="rgb(77,77,77)"/><rect x="110.2" y="724.2" width="1.3" height="1.3" fill="rgb(188,188,188)"/><rect x="56.8" y="657.2" width="1.0" height="1.0" fill="rgb(146,146,146)"/><rect x="39.6" y="710.1" width="1.0" height="1.0" fill="rgb(63,63,63)"/><rect x="42.0" y="641.1" width="1.0" height="1.0" fill="rgb(99,99,99)"/><rect x="50.2" y="684.9" width="1.3" height="1.3" fill="rgb(129,129,129)"/><rect x="39.0" y="685.9" width="1.0" height="1.0" fill="rgb(95,95,95)"/><rect x="92.0" y="719.1" width="1.2" height="1.2" fill="rgb(63,63,63)"/><rect x="103.3" y="695.4" width="1.3" height="1.3" fill="rgb(135,135,135)"/><rect x="86.2" y="687.7" width="1.3" height="1.3" fill="rgb(179,179,179)"/><rect x="81.5" y="652.3" width="1.0" height="1.0" fill="rgb(188,188,188)"/><rect x="110.4" y="668.4" width="1.0" height="1.0" fill="rgb(104,104,104)"/><rect x="47.8" y="729.9" width="1.0" height="1.0" fill="rgb(184,184,184)"/><rect x="109.1" y="651.9" width="1.2" height="1.2" fill="rgb(72,72,72)"/><rect x="36.7" y="714.9" width="1.0" height="1.0" fill="rgb(119,119,119)"/><rect x="46.2" y="696.5" width="0.8" height="0.8" fill="rgb(171,171,171)"/><rect x="46.2" y="701.4" width="1.0" height="1.0" fill="rgb(187,187,187)"/><rect x="38.4" y="685.5" width="1.3" height="1.3" fill="rgb(166,166,166)"/><rect x="119.2" y="715.0" width="1.2" height="1.2" fill="rgb(172,172,172)"/><rect x="37.5" y="643.4" width="1.3" height="1.3" fill="rgb(137,137,137)"/><rect x="110.6" y="683.3" width="0.8" height="0.8" fill="rgb(86,86,86)"/><rect x="46.5" y="715.6" width="0.8" height="0.8" fill="rgb(198,198,198)"/><rect x="80.8" y="652.1" width="0.8" height="0.8" fill="rgb(155,155,155)"/><rect x="97.8" y="669.4" width="1.3" height="1.3" fill="rgb(125,125,125)"/><rect x="60.2" y="658.9" width="0.8" height="0.8" fill="rgb(112,112,112)"/><rect x="105.1" y="656.3" width="1.0" height="1.0" fill="rgb(123,123,123)"/><rect x="64.9" y="657.6" width="1.3" height="1.3" fill="rgb(83,83,83)"/><rect x="100.3" y="669.1" width="1.2" height="1.2" fill="rgb(71,71,71)"/><rect x="79.9" y="657.2" width="1.0" height="1.0" fill="rgb(141,141,141)"/><rect x="101.4" y="663.2" width="1.0" height="1.0" fill="rgb(187,187,187)"/><rect x="102.3" y="676.5" width="1.3" height="1.3" fill="rgb(185,185,185)"/><rect x="91.4" y="709.1" width="1.2" height="1.2" fill="rgb(167,167,167)"/><rect x="46.7" y="656.6" width="1.0" height="1.0" fill="rgb(171,171,171)"/><rect x="70.7" y="641.0" width="1.3" height="1.3" fill="rgb(109,109,109)"/><rect x="32.3" y="664.6" width="1.0" height="1.0" fill="rgb(194,194,194)"/><rect x="58.7" y="699.4" width="1.3" height="1.3" fill="rgb(139,139,139)"/><rect x="34.8" y="686.3" width="1.0" height="1.0" fill="rgb(129,129,129)"/><rect x="92.0" y="708.6" width="0.8" height="0.8" fill="rgb(197,197,197)"/><rect x="38.3" y="649.7" width="1.2" height="1.2" fill="rgb(93,93,93)"/><rect x="64.5" y="644.5" width="1.2" height="1.2" fill="rgb(87,87,87)"/><rect x="28.8" y="663.3" width="1.0" height="1.0" fill="rgb(98,98,98)"/><rect x="78.1" y="685.7" width="1.3" height="1.3" fill="rgb(195,195,195)"/><rect x="105.2" y="649.0" width="0.8" height="0.8" fill="rgb(122,122,122)"/><rect x="78.1" y="700.2" width="1.2" height="1.2" fill="rgb(193,193,193)"/><rect x="112.9" y="654.4" width="1.0" height="1.0" fill="rgb(126,126,126)"/><rect x="106.1" y="688.8" width="1.2" height="1.2" fill="rgb(143,143,143)"/><rect x="114.3" y="677.9" width="1.3" height="1.3" fill="rgb(133,133,133)"/><rect x="56.4" y="687.7" width="1.0" height="1.0" fill="rgb(127,127,127)"/><rect x="79.1" y="665.5" width="1.0" height="1.0" fill="rgb(160,160,160)"/><rect x="30.3" y="709.5" width="1.0" height="1.0" fill="rgb(142,142,142)"/><rect x="65.2" y="701.6" width="1.0" height="1.0" fill="rgb(67,67,67)"/><rect x="96.3" y="644.5" width="1.0" height="1.0" fill="rgb(198,198,198)"/><rect x="34.5" y="721.5" width="1.2" height="1.2" fill="rgb(120,120,120)"/><rect x="50.8" y="708.0" width="0.8" height="0.8" fill="rgb(66,66,66)"/><rect x="113.6" y="705.0" width="1.0" height="1.0" fill="rgb(125,125,125)"/><rect x="83.0" y="650.4" width="1.2" height="1.2" fill="rgb(147,147,147)"/><rect x="38.6" y="717.5" width="1.0" height="1.0" fill="rgb(109,109,109)"/><rect x="39.2" y="679.9" width="1.2" height="1.2" fill="rgb(153,153,153)"/><rect x="82.8" y="697.6" width="1.0" height="1.0" fill="rgb(155,155,155)"/><rect x="99.0" y="687.8" width="1.0" height="1.0" fill="rgb(199,199,199)"/><rect x="95.0" y="661.5" width="1.0" height="1.0" fill="rgb(75,75,75)"/><rect x="99.6" y="696.2" width="1.0" height="1.0" fill="rgb(110,110,110)"/><rect x="83.6" y="705.3" width="1.0" height="1.0" fill="rgb(157,157,157)"/><rect x="85.7" y="707.8" width="1.0" height="1.0" fill="rgb(86,86,86)"/><rect x="73.7" y="698.8" width="0.8" height="0.8" fill="rgb(87,87,87)"/><rect x="85.3" y="640.9" width="0.8" height="0.8" fill="rgb(96,96,96)"/><rect x="84.8" y="649.2" width="0.8" height="0.8" fill="rgb(135,135,135)"/><rect x="97.0" y="722.2" width="1.0" height="1.0" fill="rgb(82,82,82)"/><rect x="85.5" y="673.6" width="1.0" height="1.0" fill="rgb(126,126,126)"/><rect x="58.8" y="684.5" width="0.8" height="0.8" fill="rgb(78,78,78)"/><rect x="101.2" y="680.3" width="1.0" height="1.0" fill="rgb(175,175,175)"/><rect x="68.5" y="707.3" width="1.0" height="1.0" fill="rgb(114,114,114)"/><rect x="61.6" y="698.8" width="1.0" height="1.0" fill="rgb(198,198,198)"/><rect x="54.4" y="708.3" width="1.0" height="1.0" fill="rgb(175,175,175)"/><rect x="66.9" y="673.2" width="1.0" height="1.0" fill="rgb(73,73,73)"/><rect x="35.0" y="647.5" width="1.2" height="1.2" fill="rgb(138,138,138)"/><rect x="102.4" y="681.7" width="0.8" height="0.8" fill="rgb(175,175,175)"/><rect x="34.8" y="659.2" width="0.8" height="0.8" fill="rgb(152,152,152)"/><rect x="91.4" y="684.5" width="1.0" height="1.0" fill="rgb(166,166,166)"/><rect x="53.7" y="652.9" width="1.0" height="1.0" fill="rgb(110,110,110)"/><rect x="61.3" y="650.6" width="1.3" height="1.3" fill="rgb(159,159,159)"/><rect x="82.2" y="721.2" width="1.0" height="1.0" fill="rgb(156,156,156)"/><rect x="67.9" y="712.3" width="1.0" height="1.0" fill="rgb(102,102,102)"/><rect x="48.0" y="727.1" width="1.3" height="1.3" fill="rgb(162,162,162)"/><rect x="50.5" y="672.6" width="1.0" height="1.0" fill="rgb(111,111,111)"/><rect x="89.7" y="692.6" width="1.3" height="1.3" fill="rgb(171,171,171)"/><rect x="61.5" y="675.1" width="1.3" height="1.3" fill="rgb(81,81,81)"/><rect x="79.3" y="655.9" width="1.0" height="1.0" fill="rgb(166,166,166)"/><rect x="102.1" y="659.9" width="1.0" height="1.0" fill="rgb(68,68,68)"/><rect x="79.7" y="727.0" width="1.2" height="1.2" fill="rgb(151,151,151)"/><rect x="33.7" y="689.2" width="0.8" height="0.8" fill="rgb(170,170,170)"/><rect x="58.4" y="664.6" width="1.0" height="1.0" fill="rgb(74,74,74)"/><rect x="35.6" y="697.1" width="1.2" height="1.2" fill="rgb(80,80,80)"/><rect x="50.3" y="659.8" width="1.3" height="1.3" fill="rgb(167,167,167)"/><rect x="58.7" y="681.3" width="1.0" height="1.0" fill="rgb(109,109,109)"/><rect x="89.3" y="684.4" width="0.8" height="0.8" fill="rgb(135,135,135)"/><rect x="92.6" y="722.3" width="1.0" height="1.0" fill="rgb(117,117,117)"/><rect x="105.9" y="712.5" width="1.2" height="1.2" fill="rgb(176,176,176)"/><rect x="115.4" y="697.6" width="0.8" height="0.8" fill="rgb(133,133,133)"/><rect x="101.2" y="677.9" width="1.0" height="1.0" fill="rgb(118,118,118)"/><rect x="50.3" y="654.6" width="1.0" height="1.0" fill="rgb(148,148,148)"/><rect x="57.2" y="675.0" width="1.0" height="1.0" fill="rgb(134,134,134)"/><rect x="116.5" y="645.3" width="0.8" height="0.8" fill="rgb(103,103,103)"/><rect x="55.6" y="654.0" width="0.8" height="0.8" fill="rgb(188,188,188)"/><rect x="96.7" y="641.5" width="0.8" height="0.8" fill="rgb(127,127,127)"/><rect x="56.4" y="657.8" width="1.3" height="1.3" fill="rgb(110,110,110)"/><rect x="49.3" y="704.6" width="1.0" height="1.0" fill="rgb(143,143,143)"/><rect x="68.2" y="720.5" width="1.0" height="1.0" fill="rgb(116,116,116)"/><rect x="85.1" y="724.8" width="1.0" height="1.0" fill="rgb(137,137,137)"/><rect x="72.2" y="676.2" width="1.3" height="1.3" fill="rgb(193,193,193)"/><rect x="98.4" y="648.3" width="1.2" height="1.2" fill="rgb(180,180,180)"/><rect x="32.3" y="725.3" width="1.2" height="1.2" fill="rgb(172,172,172)"/><rect x="117.1" y="711.5" width="0.8" height="0.8" fill="rgb(168,168,168)"/><rect x="88.0" y="661.4" width="1.2" height="1.2" fill="rgb(61,61,61)"/><rect x="110.6" y="680.5" width="1.2" height="1.2" fill="rgb(94,94,94)"/><rect x="83.3" y="654.2" width="1.0" height="1.0" fill="rgb(81,81,81)"/><rect x="41.0" y="721.7" width="1.0" height="1.0" fill="rgb(173,173,173)"/><rect x="86.1" y="729.4" width="1.3" height="1.3" fill="rgb(97,97,97)"/><rect x="32.6" y="691.5" width="1.0" height="1.0" fill="rgb(84,84,84)"/><rect x="103.0" y="716.2" width="0.8" height="0.8" fill="rgb(175,175,175)"/><rect x="60.0" y="695.3" width="1.2" height="1.2" fill="rgb(133,133,133)"/><rect x="91.3" y="647.5" width="1.3" height="1.3" fill="rgb(164,164,164)"/><rect x="106.2" y="667.3" width="1.2" height="1.2" fill="rgb(170,170,170)"/><rect x="45.5" y="701.4" width="1.2" height="1.2" fill="rgb(169,169,169)"/><rect x="46.9" y="688.9" width="1.0" height="1.0" fill="rgb(133,133,133)"/><rect x="114.4" y="726.8" width="1.2" height="1.2" fill="rgb(104,104,104)"/><rect x="34.8" y="667.5" width="0.8" height="0.8" fill="rgb(125,125,125)"/><rect x="60.7" y="701.8" width="1.2" height="1.2" fill="rgb(74,74,74)"/><rect x="89.6" y="707.2" width="0.8" height="0.8" fill="rgb(169,169,169)"/><rect x="87.6" y="641.1" width="1.2" height="1.2" fill="rgb(112,112,112)"/><rect x="49.5" y="690.8" width="0.8" height="0.8" fill="rgb(124,124,124)"/><rect x="106.1" y="716.0" width="1.3" height="1.3" fill="rgb(160,160,160)"/><rect x="41.7" y="696.5" width="1.0" height="1.0" fill="rgb(191,191,191)"/><rect x="115.1" y="707.9" width="0.8" height="0.8" fill="rgb(137,137,137)"/><rect x="51.3" y="658.0" width="1.0" height="1.0" fill="rgb(162,162,162)"/><rect x="56.1" y="664.6" width="1.0" height="1.0" fill="rgb(125,125,125)"/><rect x="68.7" y="674.4" width="1.3" height="1.3" fill="rgb(74,74,74)"/><rect x="36.4" y="701.0" width="1.0" height="1.0" fill="rgb(159,159,159)"/><rect x="45.5" y="643.3" width="0.8" height="0.8" fill="rgb(124,124,124)"/><rect x="37.0" y="642.9" width="1.2" height="1.2" fill="rgb(198,198,198)"/><rect x="65.0" y="646.5" width="1.2" height="1.2" fill="rgb(188,188,188)"/><rect x="112.6" y="652.5" width="1.0" height="1.0" fill="rgb(88,88,88)"/><rect x="102.9" y="674.7" width="1.2" height="1.2" fill="rgb(106,106,106)"/><rect x="84.8" y="705.4" width="1.0" height="1.0" fill="rgb(145,145,145)"/><rect x="117.6" y="711.1" width="1.3" height="1.3" fill="rgb(152,152,152)"/><rect x="76.3" y="663.5" width="1.0" height="1.0" fill="rgb(86,86,86)"/><rect x="87.3" y="649.6" width="1.3" height="1.3" fill="rgb(112,112,112)"/><rect x="58.2" y="666.4" width="1.0" height="1.0" fill="rgb(74,74,74)"/><rect x="51.0" y="688.5" width="1.0" height="1.0" fill="rgb(101,101,101)"/><rect x="60.1" y="685.0" width="1.0" height="1.0" fill="rgb(79,79,79)"/><rect x="118.1" y="686.4" width="1.0" height="1.0" fill="rgb(160,160,160)"/><rect x="79.7" y="642.4" width="0.8" height="0.8" fill="rgb(152,152,152)"/><rect x="40.3" y="683.0" width="1.0" height="1.0" fill="rgb(118,118,118)"/><rect x="57.9" y="723.6" width="1.2" height="1.2" fill="rgb(110,110,110)"/><rect x="108.6" y="680.7" width="1.0" height="1.0" fill="rgb(162,162,162)"/><rect x="110.5" y="688.9" width="1.3" height="1.3" fill="rgb(138,138,138)"/><rect x="111.5" y="655.2" width="1.0" height="1.0" fill="rgb(164,164,164)"/><rect x="82.8" y="651.0" width="1.0" height="1.0" fill="rgb(175,175,175)"/><rect x="90.5" y="672.7" width="1.0" height="1.0" fill="rgb(166,166,166)"/><rect x="103.8" y="656.7" width="0.8" height="0.8" fill="rgb(136,136,136)"/><rect x="69.4" y="676.3" width="1.0" height="1.0" fill="rgb(169,169,169)"/><rect x="55.9" y="700.4" width="1.2" height="1.2" fill="rgb(163,163,163)"/><rect x="84.1" y="697.6" width="1.0" height="1.0" fill="rgb(166,166,166)"/><rect x="46.1" y="682.1" width="1.2" height="1.2" fill="rgb(80,80,80)"/><rect x="38.6" y="676.5" width="1.0" height="1.0" fill="rgb(107,107,107)"/><rect x="51.9" y="691.1" width="0.8" height="0.8" fill="rgb(106,106,106)"/><rect x="93.8" y="710.9" width="1.2" height="1.2" fill="rgb(116,116,116)"/><rect x="82.7" y="682.3" width="1.3" height="1.3" fill="rgb(117,117,117)"/><rect x="111.3" y="690.8" width="1.0" height="1.0" fill="rgb(116,116,116)"/><rect x="72.2" y="729.5" width="1.2" height="1.2" fill="rgb(177,177,177)"/><rect x="103.3" y="650.6" width="1.3" height="1.3" fill="rgb(76,76,76)"/><rect x="58.0" y="686.9" width="0.8" height="0.8" fill="rgb(118,118,118)"/><rect x="57.1" y="644.9" width="1.2" height="1.2" fill="rgb(161,161,161)"/><rect x="94.8" y="693.8" width="1.0" height="1.0" fill="rgb(165,165,165)"/><rect x="108.6" y="718.9" width="1.2" height="1.2" fill="rgb(94,94,94)"/><rect x="50.0" y="718.6" width="1.2" height="1.2" fill="rgb(196,196,196)"/><rect x="91.4" y="687.4" width="1.0" height="1.0" fill="rgb(93,93,93)"/><rect x="87.9" y="724.6" width="1.0" height="1.0" fill="rgb(183,183,183)"/><rect x="107.1" y="677.9" width="1.0" height="1.0" fill="rgb(172,172,172)"/><rect x="87.2" y="677.9" width="0.8" height="0.8" fill="rgb(77,77,77)"/><rect x="36.8" y="711.3" width="1.3" height="1.3" fill="rgb(77,77,77)"/><rect x="80.5" y="680.8" width="1.0" height="1.0" fill="rgb(101,101,101)"/><rect x="30.0" y="655.5" width="1.2" height="1.2" fill="rgb(121,121,121)"/><rect x="102.4" y="675.8" width="1.3" height="1.3" fill="rgb(109,109,109)"/><rect x="48.9" y="667.6" width="1.0" height="1.0" fill="rgb(123,123,123)"/><rect x="56.0" y="684.9" width="1.2" height="1.2" fill="rgb(190,190,190)"/><rect x="108.2" y="658.2" width="0.8" height="0.8" fill="rgb(180,180,180)"/><rect x="45.7" y="715.4" width="1.2" height="1.2" fill="rgb(109,109,109)"/><rect x="29.3" y="697.2" width="1.3" height="1.3" fill="rgb(157,157,157)"/><rect x="46.3" y="696.9" width="0.8" height="0.8" fill="rgb(86,86,86)"/><rect x="87.3" y="667.5" width="1.0" height="1.0" fill="rgb(174,174,174)"/><rect x="107.4" y="704.2" width="1.2" height="1.2" fill="rgb(78,78,78)"/><rect x="65.8" y="655.2" width="0.8" height="0.8" fill="rgb(180,180,180)"/><rect x="92.8" y="657.7" width="1.0" height="1.0" fill="rgb(85,85,85)"/><rect x="73.7" y="666.6" width="1.3" height="1.3" fill="rgb(98,98,98)"/><rect x="108.7" y="693.1" width="1.0" height="1.0" fill="rgb(92,92,92)"/><rect x="109.7" y="656.3" width="1.0" height="1.0" fill="rgb(91,91,91)"/><rect x="86.4" y="648.1" width="1.2" height="1.2" fill="rgb(197,197,197)"/><rect x="111.7" y="646.6" width="0.8" height="0.8" fill="rgb(187,187,187)"/><rect x="82.7" y="665.6" width="1.3" height="1.3" fill="rgb(95,95,95)"/><rect x="35.8" y="665.7" width="1.0" height="1.0" fill="rgb(165,165,165)"/><rect x="44.2" y="706.1" width="1.0" height="1.0" fill="rgb(64,64,64)"/><rect x="118.2" y="643.0" width="1.3" height="1.3" fill="rgb(124,124,124)"/><rect x="63.0" y="723.6" width="1.0" height="1.0" fill="rgb(129,129,129)"/><rect x="33.7" y="709.9" width="1.0" height="1.0" fill="rgb(187,187,187)"/><rect x="88.0" y="710.5" width="1.3" height="1.3" fill="rgb(132,132,132)"/><rect x="103.5" y="697.1" width="1.3" height="1.3" fill="rgb(197,197,197)"/><rect x="43.7" y="710.2" width="1.3" height="1.3" fill="rgb(83,83,83)"/><rect x="67.7" y="700.2" width="1.0" height="1.0" fill="rgb(136,136,136)"/><rect x="99.8" y="711.2" width="1.2" height="1.2" fill="rgb(93,93,93)"/><rect x="77.6" y="716.7" width="1.0" height="1.0" fill="rgb(144,144,144)"/><rect x="31.0" y="693.7" width="1.3" height="1.3" fill="rgb(160,160,160)"/><rect x="68.8" y="719.3" width="1.3" height="1.3" fill="rgb(105,105,105)"/><rect x="29.4" y="684.6" width="1.2" height="1.2" fill="rgb(120,120,120)"/><rect x="94.0" y="717.1" width="0.8" height="0.8" fill="rgb(64,64,64)"/><rect x="110.8" y="691.2" width="1.0" height="1.0" fill="rgb(136,136,136)"/><rect x="84.8" y="644.9" width="1.0" height="1.0" fill="rgb(119,119,119)"/><rect x="102.8" y="706.5" width="1.3" height="1.3" fill="rgb(169,169,169)"/><rect x="73.4" y="698.5" width="1.2" height="1.2" fill="rgb(131,131,131)"/><rect x="51.1" y="654.4" width="1.3" height="1.3" fill="rgb(156,156,156)"/><rect x="99.8" y="645.5" width="1.0" height="1.0" fill="rgb(117,117,117)"/><rect x="91.7" y="703.3" width="1.0" height="1.0" fill="rgb(194,194,194)"/><rect x="72.6" y="708.5" width="1.0" height="1.0" fill="rgb(198,198,198)"/><rect x="95.9" y="687.0" width="0.8" height="0.8" fill="rgb(197,197,197)"/><rect x="49.8" y="720.1" width="1.2" height="1.2" fill="rgb(79,79,79)"/><rect x="78.7" y="682.5" width="0.8" height="0.8" fill="rgb(190,190,190)"/><rect x="90.0" y="704.5" width="1.3" height="1.3" fill="rgb(196,196,196)"/><rect x="48.8" y="662.8" width="1.0" height="1.0" fill="rgb(137,137,137)"/><rect x="66.1" y="647.7" width="1.0" height="1.0" fill="rgb(91,91,91)"/><rect x="58.6" y="728.3" width="0.8" height="0.8" fill="rgb(145,145,145)"/><rect x="42.5" y="692.7" width="1.0" height="1.0" fill="rgb(199,199,199)"/><rect x="79.7" y="722.1" width="1.0" height="1.0" fill="rgb(183,183,183)"/><rect x="70.1" y="675.4" width="1.2" height="1.2" fill="rgb(178,178,178)"/><rect x="62.5" y="644.4" width="1.0" height="1.0" fill="rgb(118,118,118)"/><rect x="44.6" y="689.5" width="1.0" height="1.0" fill="rgb(82,82,82)"/><rect x="64.4" y="693.4" width="1.2" height="1.2" fill="rgb(166,166,166)"/><rect x="68.7" y="729.4" width="1.2" height="1.2" fill="rgb(155,155,155)"/><rect x="46.5" y="674.5" width="1.0" height="1.0" fill="rgb(70,70,70)"/><rect x="61.0" y="664.7" width="1.0" height="1.0" fill="rgb(62,62,62)"/><rect x="95.7" y="686.1" width="1.0" height="1.0" fill="rgb(139,139,139)"/><rect x="52.4" y="672.5" width="1.0" height="1.0" fill="rgb(81,81,81)"/><rect x="40.3" y="661.7" width="0.8" height="0.8" fill="rgb(177,177,177)"/><rect x="29.7" y="669.0" width="0.8" height="0.8" fill="rgb(113,113,113)"/><rect x="106.0" y="674.3" width="1.3" height="1.3" fill="rgb(95,95,95)"/><rect x="89.0" y="667.2" width="1.2" height="1.2" fill="rgb(145,145,145)"/><rect x="31.5" y="653.6" width="0.8" height="0.8" fill="rgb(143,143,143)"/><rect x="46.9" y="677.0" width="1.0" height="1.0" fill="rgb(127,127,127)"/><rect x="75.1" y="689.3" width="1.2" height="1.2" fill="rgb(103,103,103)"/><rect x="88.8" y="653.2" width="1.0" height="1.0" fill="rgb(88,88,88)"/><rect x="76.8" y="680.4" width="1.3" height="1.3" fill="rgb(79,79,79)"/><rect x="107.0" y="660.3" width="1.0" height="1.0" fill="rgb(100,100,100)"/><rect x="83.7" y="652.6" width="1.2" height="1.2" fill="rgb(178,178,178)"/><rect x="79.6" y="712.8" width="1.0" height="1.0" fill="rgb(196,196,196)"/><rect x="88.2" y="646.0" width="1.3" height="1.3" fill="rgb(179,179,179)"/><rect x="90.9" y="700.0" width="1.0" height="1.0" fill="rgb(193,193,193)"/><rect x="49.3" y="696.9" width="1.2" height="1.2" fill="rgb(72,72,72)"/><rect x="38.8" y="684.4" width="1.0" height="1.0" fill="rgb(128,128,128)"/><rect x="53.8" y="703.3" width="1.2" height="1.2" fill="rgb(91,91,91)"/><rect x="46.3" y="709.1" width="1.0" height="1.0" fill="rgb(109,109,109)"/><rect x="75.4" y="706.8" width="1.0" height="1.0" fill="rgb(187,187,187)"/><rect x="71.6" y="663.1" width="1.0" height="1.0" fill="rgb(179,179,179)"/><rect x="91.9" y="642.1" width="1.0" height="1.0" fill="rgb(114,114,114)"/><rect x="111.0" y="722.1" width="1.2" height="1.2" fill="rgb(98,98,98)"/><rect x="73.1" y="692.7" width="1.0" height="1.0" fill="rgb(125,125,125)"/><rect x="108.9" y="646.5" width="1.0" height="1.0" fill="rgb(64,64,64)"/><rect x="109.4" y="690.9" width="1.0" height="1.0" fill="rgb(96,96,96)"/><rect x="86.6" y="674.6" width="1.0" height="1.0" fill="rgb(107,107,107)"/><rect x="30.6" y="703.7" width="0.8" height="0.8" fill="rgb(90,90,90)"/><rect x="85.2" y="695.9" width="1.2" height="1.2" fill="rgb(117,117,117)"/><rect x="33.6" y="646.2" width="1.2" height="1.2" fill="rgb(124,124,124)"/><rect x="62.7" y="721.9" width="1.0" height="1.0" fill="rgb(65,65,65)"/><rect x="90.3" y="664.6" width="1.2" height="1.2" fill="rgb(129,129,129)"/><rect x="117.2" y="653.5" width="1.0" height="1.0" fill="rgb(86,86,86)"/><rect x="51.4" y="659.8" width="1.3" height="1.3" fill="rgb(132,132,132)"/><rect x="117.5" y="640.3" width="1.3" height="1.3" fill="rgb(136,136,136)"/><rect x="35.0" y="714.1" width="1.0" height="1.0" fill="rgb(183,183,183)"/><rect x="52.0" y="649.4" width="1.0" height="1.0" fill="rgb(62,62,62)"/><rect x="91.4" y="701.8" width="1.0" height="1.0" fill="rgb(194,194,194)"/><rect x="42.4" y="695.9" width="1.3" height="1.3" fill="rgb(128,128,128)"/><rect x="54.7" y="677.3" width="1.3" height="1.3" fill="rgb(111,111,111)"/><rect x="73.4" y="698.2" width="1.0" height="1.0" fill="rgb(110,110,110)"/><rect x="111.7" y="706.4" width="0.8" height="0.8" fill="rgb(182,182,182)"/><rect x="102.6" y="719.7" width="1.2" height="1.2" fill="rgb(103,103,103)"/><rect x="74.7" y="701.1" width="1.3" height="1.3" fill="rgb(65,65,65)"/><rect x="107.1" y="718.3" width="1.0" height="1.0" fill="rgb(67,67,67)"/><rect x="64.2" y="706.6" width="1.0" height="1.0" fill="rgb(157,157,157)"/><rect x="93.3" y="662.7" width="1.0" height="1.0" fill="rgb(160,160,160)"/><rect x="44.6" y="717.0" width="1.3" height="1.3" fill="rgb(88,88,88)"/><rect x="103.6" y="691.1" width="1.0" height="1.0" fill="rgb(118,118,118)"/><rect x="84.8" y="714.8" width="1.0" height="1.0" fill="rgb(172,172,172)"/><rect x="46.2" y="695.9" width="1.0" height="1.0" fill="rgb(100,100,100)"/><rect x="116.9" y="682.5" width="1.0" height="1.0" fill="rgb(157,157,157)"/><rect x="52.3" y="664.4" width="1.2" height="1.2" fill="rgb(95,95,95)"/><rect x="63.2" y="701.1" width="1.0" height="1.0" fill="rgb(79,79,79)"/><rect x="93.1" y="650.7" width="1.0" height="1.0" fill="rgb(65,65,65)"/><rect x="60.4" y="688.5" width="1.2" height="1.2" fill="rgb(172,172,172)"/><rect x="58.0" y="642.4" width="1.2" height="1.2" fill="rgb(135,135,135)"/><rect x="43.5" y="646.1" width="1.0" height="1.0" fill="rgb(121,121,121)"/><rect x="48.3" y="705.0" width="1.0" height="1.0" fill="rgb(117,117,117)"/><rect x="117.6" y="675.0" width="1.3" height="1.3" fill="rgb(157,157,157)"/><rect x="53.7" y="718.0" width="0.8" height="0.8" fill="rgb(121,121,121)"/><rect x="78.7" y="720.7" width="1.2" height="1.2" fill="rgb(183,183,183)"/><rect x="38.8" y="669.1" width="1.3" height="1.3" fill="rgb(62,62,62)"/><rect x="79.8" y="664.6" width="1.0" height="1.0" fill="rgb(116,116,116)"/><rect x="48.6" y="683.4" width="1.0" height="1.0" fill="rgb(111,111,111)"/><rect x="78.9" y="653.6" width="1.0" height="1.0" fill="rgb(60,60,60)"/><rect x="89.1" y="640.4" width="1.0" height="1.0" fill="rgb(107,107,107)"/><rect x="119.0" y="658.2" width="1.2" height="1.2" fill="rgb(181,181,181)"/><rect x="30.7" y="671.6" width="1.3" height="1.3" fill="rgb(138,138,138)"/><rect x="33.1" y="689.5" width="1.3" height="1.3" fill="rgb(151,151,151)"/><rect x="50.9" y="657.0" width="1.0" height="1.0" fill="rgb(100,100,100)"/><rect x="118.8" y="679.9" width="0.8" height="0.8" fill="rgb(176,176,176)"/><rect x="43.9" y="642.4" width="0.8" height="0.8" fill="rgb(83,83,83)"/><rect x="89.5" y="664.4" width="1.3" height="1.3" fill="rgb(63,63,63)"/><rect x="56.2" y="686.3" width="1.0" height="1.0" fill="rgb(61,61,61)"/><rect x="33.6" y="672.8" width="1.0" height="1.0" fill="rgb(167,167,167)"/><rect x="101.9" y="711.3" width="1.2" height="1.2" fill="rgb(162,162,162)"/><rect x="56.0" y="687.8" width="0.8" height="0.8" fill="rgb(153,153,153)"/><rect x="113.5" y="683.4" width="1.2" height="1.2" fill="rgb(177,177,177)"/><rect x="50.7" y="721.9" width="1.3" height="1.3" fill="rgb(63,63,63)"/><rect x="40.7" y="669.1" width="1.3" height="1.3" fill="rgb(161,161,161)"/><rect x="87.9" y="713.0" width="1.2" height="1.2" fill="rgb(111,111,111)"/><rect x="60.2" y="665.1" width="1.0" height="1.0" fill="rgb(186,186,186)"/><rect x="82.2" y="663.8" width="1.0" height="1.0" fill="rgb(89,89,89)"/><rect x="47.1" y="706.9" width="1.0" height="1.0" fill="rgb(136,136,136)"/>
<rect x="27.3" y="735.5" width="93.2" height="90.5" fill="#070707"/>
<rect x="71.2" y="794.4" width="1.0" height="1.0" fill="rgb(153,153,153)"/><rect x="62.7" y="824.5" width="1.2" height="1.2" fill="rgb(127,127,127)"/><rect x="91.0" y="789.4" width="1.3" height="1.3" fill="rgb(138,138,138)"/><rect x="41.1" y="775.1" width="1.0" height="1.0" fill="rgb(82,82,82)"/><rect x="33.2" y="808.7" width="1.0" height="1.0" fill="rgb(70,70,70)"/><rect x="90.2" y="806.9" width="0.8" height="0.8" fill="rgb(72,72,72)"/><rect x="102.8" y="794.8" width="1.2" height="1.2" fill="rgb(91,91,91)"/><rect x="114.4" y="746.0" width="1.0" height="1.0" fill="rgb(119,119,119)"/><rect x="77.2" y="814.3" width="0.8" height="0.8" fill="rgb(138,138,138)"/><rect x="78.6" y="781.0" width="1.3" height="1.3" fill="rgb(71,71,71)"/><rect x="66.1" y="788.9" width="1.2" height="1.2" fill="rgb(126,126,126)"/><rect x="77.3" y="792.9" width="1.0" height="1.0" fill="rgb(71,71,71)"/><rect x="117.1" y="794.9" width="1.0" height="1.0" fill="rgb(109,109,109)"/><rect x="107.1" y="770.2" width="1.0" height="1.0" fill="rgb(103,103,103)"/><rect x="49.3" y="768.3" width="1.3" height="1.3" fill="rgb(131,131,131)"/><rect x="44.2" y="769.8" width="0.8" height="0.8" fill="rgb(180,180,180)"/><rect x="75.3" y="755.7" width="1.2" height="1.2" fill="rgb(119,119,119)"/><rect x="46.5" y="789.9" width="1.0" height="1.0" fill="rgb(165,165,165)"/><rect x="44.1" y="797.8" width="1.0" height="1.0" fill="rgb(65,65,65)"/><rect x="73.4" y="789.5" width="1.3" height="1.3" fill="rgb(161,161,161)"/><rect x="69.8" y="754.5" width="1.2" height="1.2" fill="rgb(99,99,99)"/><rect x="91.6" y="812.0" width="1.0" height="1.0" fill="rgb(93,93,93)"/><rect x="70.3" y="784.7" width="1.0" height="1.0" fill="rgb(85,85,85)"/><rect x="111.3" y="736.6" width="1.0" height="1.0" fill="rgb(97,97,97)"/><rect x="44.2" y="806.6" width="1.0" height="1.0" fill="rgb(130,130,130)"/><rect x="84.4" y="823.4" width="1.3" height="1.3" fill="rgb(199,199,199)"/><rect x="42.0" y="818.4" width="1.0" height="1.0" fill="rgb(183,183,183)"/><rect x="86.3" y="756.4" width="1.2" height="1.2" fill="rgb(133,133,133)"/><rect x="72.6" y="767.4" width="1.2" height="1.2" fill="rgb(155,155,155)"/><rect x="109.6" y="750.4" width="0.8" height="0.8" fill="rgb(100,100,100)"/><rect x="53.3" y="819.8" width="1.2" height="1.2" fill="rgb(132,132,132)"/><rect x="92.3" y="755.0" width="1.0" height="1.0" fill="rgb(99,99,99)"/><rect x="30.4" y="736.3" width="1.3" height="1.3" fill="rgb(63,63,63)"/><rect x="108.9" y="773.3" width="1.2" height="1.2" fill="rgb(93,93,93)"/><rect x="71.0" y="741.2" width="1.0" height="1.0" fill="rgb(139,139,139)"/><rect x="97.4" y="773.1" width="1.2" height="1.2" fill="rgb(142,142,142)"/><rect x="100.0" y="787.5" width="1.0" height="1.0" fill="rgb(108,108,108)"/><rect x="86.2" y="770.2" width="1.0" height="1.0" fill="rgb(82,82,82)"/><rect x="110.5" y="806.8" width="1.2" height="1.2" fill="rgb(185,185,185)"/><rect x="76.7" y="806.1" width="0.8" height="0.8" fill="rgb(113,113,113)"/><rect x="92.8" y="752.8" width="1.3" height="1.3" fill="rgb(97,97,97)"/><rect x="72.8" y="790.3" width="1.3" height="1.3" fill="rgb(89,89,89)"/><rect x="91.9" y="771.0" width="1.2" height="1.2" fill="rgb(94,94,94)"/><rect x="60.4" y="743.3" width="0.8" height="0.8" fill="rgb(106,106,106)"/><rect x="93.7" y="763.6" width="1.2" height="1.2" fill="rgb(85,85,85)"/><rect x="61.3" y="738.6" width="1.2" height="1.2" fill="rgb(128,128,128)"/><rect x="72.2" y="741.0" width="1.2" height="1.2" fill="rgb(143,143,143)"/><rect x="49.6" y="765.1" width="0.8" height="0.8" fill="rgb(192,192,192)"/><rect x="116.0" y="768.5" width="1.2" height="1.2" fill="rgb(178,178,178)"/><rect x="54.9" y="781.9" width="1.0" height="1.0" fill="rgb(80,80,80)"/><rect x="42.7" y="777.3" width="1.0" height="1.0" fill="rgb(144,144,144)"/><rect x="69.9" y="805.7" width="1.0" height="1.0" fill="rgb(66,66,66)"/><rect x="65.1" y="798.1" width="1.3" height="1.3" fill="rgb(170,170,170)"/><rect x="89.4" y="794.9" width="1.3" height="1.3" fill="rgb(196,196,196)"/><rect x="80.0" y="763.7" width="0.8" height="0.8" fill="rgb(166,166,166)"/><rect x="57.3" y="780.4" width="1.0" height="1.0" fill="rgb(110,110,110)"/><rect x="43.4" y="778.4" width="1.0" height="1.0" fill="rgb(172,172,172)"/><rect x="50.8" y="740.1" width="1.0" height="1.0" fill="rgb(172,172,172)"/><rect x="65.2" y="791.7" width="1.3" height="1.3" fill="rgb(99,99,99)"/><rect x="57.2" y="747.2" width="1.3" height="1.3" fill="rgb(149,149,149)"/><rect x="100.6" y="769.6" width="1.0" height="1.0" fill="rgb(119,119,119)"/><rect x="58.9" y="804.3" width="1.2" height="1.2" fill="rgb(128,128,128)"/><rect x="102.3" y="752.2" width="1.0" height="1.0" fill="rgb(170,170,170)"/><rect x="37.8" y="759.8" width="1.0" height="1.0" fill="rgb(184,184,184)"/><rect x="117.5" y="817.3" width="1.0" height="1.0" fill="rgb(167,167,167)"/><rect x="104.0" y="754.8" width="0.8" height="0.8" fill="rgb(183,183,183)"/><rect x="78.6" y="739.8" width="1.0" height="1.0" fill="rgb(173,173,173)"/><rect x="42.7" y="799.6" width="1.0" height="1.0" fill="rgb(101,101,101)"/><rect x="117.6" y="804.7" width="0.8" height="0.8" fill="rgb(136,136,136)"/><rect x="83.3" y="745.1" width="1.3" height="1.3" fill="rgb(155,155,155)"/><rect x="46.1" y="744.7" width="1.0" height="1.0" fill="rgb(60,60,60)"/><rect x="101.1" y="780.9" width="1.2" height="1.2" fill="rgb(148,148,148)"/><rect x="60.4" y="810.6" width="1.3" height="1.3" fill="rgb(179,179,179)"/><rect x="30.4" y="811.0" width="1.0" height="1.0" fill="rgb(62,62,62)"/><rect x="72.8" y="812.0" width="1.2" height="1.2" fill="rgb(156,156,156)"/><rect x="78.0" y="821.5" width="0.8" height="0.8" fill="rgb(112,112,112)"/><rect x="104.6" y="747.5" width="0.8" height="0.8" fill="rgb(68,68,68)"/><rect x="66.5" y="807.6" width="1.0" height="1.0" fill="rgb(177,177,177)"/><rect x="30.6" y="797.0" width="0.8" height="0.8" fill="rgb(139,139,139)"/><rect x="82.1" y="788.1" width="1.0" height="1.0" fill="rgb(172,172,172)"/><rect x="70.0" y="765.9" width="1.0" height="1.0" fill="rgb(150,150,150)"/><rect x="101.0" y="770.7" width="1.0" height="1.0" fill="rgb(151,151,151)"/><rect x="115.0" y="823.6" width="1.0" height="1.0" fill="rgb(167,167,167)"/><rect x="40.8" y="746.9" width="1.0" height="1.0" fill="rgb(127,127,127)"/><rect x="89.0" y="737.1" width="1.2" height="1.2" fill="rgb(91,91,91)"/><rect x="67.7" y="766.2" width="1.0" height="1.0" fill="rgb(116,116,116)"/><rect x="58.9" y="769.9" width="1.2" height="1.2" fill="rgb(180,180,180)"/><rect x="59.1" y="815.0" width="1.3" height="1.3" fill="rgb(148,148,148)"/><rect x="60.9" y="756.5" width="1.3" height="1.3" fill="rgb(113,113,113)"/><rect x="79.4" y="810.5" width="1.2" height="1.2" fill="rgb(153,153,153)"/><rect x="96.0" y="758.4" width="0.8" height="0.8" fill="rgb(118,118,118)"/><rect x="38.7" y="788.1" width="1.0" height="1.0" fill="rgb(128,128,128)"/><rect x="77.9" y="788.9" width="1.2" height="1.2" fill="rgb(140,140,140)"/><rect x="58.5" y="769.2" width="1.0" height="1.0" fill="rgb(186,186,186)"/><rect x="114.1" y="789.1" width="1.3" height="1.3" fill="rgb(69,69,69)"/><rect x="64.4" y="754.2" width="1.0" height="1.0" fill="rgb(105,105,105)"/><rect x="84.2" y="812.2" width="1.0" height="1.0" fill="rgb(79,79,79)"/><rect x="58.2" y="794.4" width="1.3" height="1.3" fill="rgb(115,115,115)"/><rect x="57.9" y="783.7" width="1.3" height="1.3" fill="rgb(176,176,176)"/><rect x="37.1" y="758.2" width="0.8" height="0.8" fill="rgb(173,173,173)"/><rect x="89.4" y="751.2" width="1.0" height="1.0" fill="rgb(121,121,121)"/><rect x="33.9" y="797.1" width="1.0" height="1.0" fill="rgb(86,86,86)"/><rect x="86.2" y="792.6" width="1.2" height="1.2" fill="rgb(142,142,142)"/><rect x="95.8" y="763.5" width="1.2" height="1.2" fill="rgb(78,78,78)"/><rect x="63.6" y="777.3" width="1.0" height="1.0" fill="rgb(110,110,110)"/><rect x="49.7" y="782.7" width="1.3" height="1.3" fill="rgb(161,161,161)"/><rect x="88.1" y="799.6" width="1.0" height="1.0" fill="rgb(178,178,178)"/><rect x="60.3" y="763.2" width="1.0" height="1.0" fill="rgb(63,63,63)"/><rect x="63.5" y="821.9" width="1.0" height="1.0" fill="rgb(186,186,186)"/><rect x="90.9" y="782.2" width="1.0" height="1.0" fill="rgb(140,140,140)"/><rect x="51.5" y="772.7" width="0.8" height="0.8" fill="rgb(67,67,67)"/><rect x="69.3" y="783.2" width="1.0" height="1.0" fill="rgb(94,94,94)"/><rect x="38.9" y="809.9" width="1.2" height="1.2" fill="rgb(113,113,113)"/><rect x="55.9" y="744.3" width="1.0" height="1.0" fill="rgb(86,86,86)"/><rect x="62.6" y="783.0" width="1.3" height="1.3" fill="rgb(95,95,95)"/><rect x="102.9" y="805.7" width="1.0" height="1.0" fill="rgb(77,77,77)"/><rect x="97.8" y="785.0" width="1.0" height="1.0" fill="rgb(170,170,170)"/><rect x="30.9" y="784.5" width="1.2" height="1.2" fill="rgb(122,122,122)"/><rect x="84.3" y="752.5" width="0.8" height="0.8" fill="rgb(177,177,177)"/><rect x="67.7" y="737.9" width="1.0" height="1.0" fill="rgb(129,129,129)"/><rect x="104.8" y="743.5" width="1.3" height="1.3" fill="rgb(136,136,136)"/><rect x="69.4" y="806.0" width="1.3" height="1.3" fill="rgb(196,196,196)"/><rect x="64.4" y="736.7" width="1.2" height="1.2" fill="rgb(130,130,130)"/><rect x="110.2" y="738.2" width="1.3" height="1.3" fill="rgb(171,171,171)"/><rect x="89.8" y="760.6" width="1.0" height="1.0" fill="rgb(103,103,103)"/><rect x="65.1" y="807.0" width="1.3" height="1.3" fill="rgb(164,164,164)"/><rect x="35.2" y="796.4" width="1.0" height="1.0" fill="rgb(66,66,66)"/><rect x="87.3" y="768.3" width="0.8" height="0.8" fill="rgb(100,100,100)"/><rect x="87.7" y="809.3" width="1.0" height="1.0" fill="rgb(76,76,76)"/><rect x="33.7" y="749.3" width="1.3" height="1.3" fill="rgb(170,170,170)"/><rect x="76.5" y="751.7" width="1.0" height="1.0" fill="rgb(175,175,175)"/><rect x="117.3" y="755.8" width="1.0" height="1.0" fill="rgb(116,116,116)"/><rect x="53.6" y="786.6" width="1.0" height="1.0" fill="rgb(158,158,158)"/><rect x="103.2" y="802.7" width="1.2" height="1.2" fill="rgb(99,99,99)"/><rect x="46.7" y="820.8" width="1.0" height="1.0" fill="rgb(190,190,190)"/><rect x="60.6" y="744.3" width="1.2" height="1.2" fill="rgb(128,128,128)"/><rect x="60.3" y="739.6" width="1.3" height="1.3" fill="rgb(102,102,102)"/><rect x="84.7" y="785.3" width="1.3" height="1.3" fill="rgb(61,61,61)"/><rect x="107.6" y="764.0" width="0.8" height="0.8" fill="rgb(191,191,191)"/><rect x="111.8" y="757.2" width="1.0" height="1.0" fill="rgb(136,136,136)"/><rect x="108.7" y="743.8" width="1.3" height="1.3" fill="rgb(194,194,194)"/><rect x="43.9" y="774.3" width="1.0" height="1.0" fill="rgb(174,174,174)"/><rect x="119.2" y="805.2" width="1.0" height="1.0" fill="rgb(121,121,121)"/><rect x="56.8" y="740.6" width="1.0" height="1.0" fill="rgb(194,194,194)"/><rect x="88.2" y="778.6" width="1.0" height="1.0" fill="rgb(88,88,88)"/><rect x="84.6" y="809.4" width="1.2" height="1.2" fill="rgb(153,153,153)"/><rect x="109.8" y="818.8" width="1.2" height="1.2" fill="rgb(132,132,132)"/><rect x="76.6" y="770.6" width="1.0" height="1.0" fill="rgb(107,107,107)"/><rect x="105.2" y="796.2" width="1.0" height="1.0" fill="rgb(142,142,142)"/><rect x="76.3" y="799.7" width="0.8" height="0.8" fill="rgb(198,198,198)"/><rect x="46.3" y="772.5" width="1.3" height="1.3" fill="rgb(84,84,84)"/><rect x="34.3" y="777.7" width="1.2" height="1.2" fill="rgb(189,189,189)"/><rect x="75.1" y="774.5" width="1.0" height="1.0" fill="rgb(114,114,114)"/><rect x="43.3" y="811.1" width="1.0" height="1.0" fill="rgb(139,139,139)"/><rect x="87.3" y="748.8" width="1.0" height="1.0" fill="rgb(135,135,135)"/><rect x="94.0" y="791.6" width="0.8" height="0.8" fill="rgb(152,152,152)"/><rect x="49.1" y="800.9" width="1.0" height="1.0" fill="rgb(127,127,127)"/><rect x="42.4" y="743.9" width="1.3" height="1.3" fill="rgb(191,191,191)"/><rect x="118.8" y="785.9" width="1.2" height="1.2" fill="rgb(92,92,92)"/><rect x="100.4" y="822.2" width="1.3" height="1.3" fill="rgb(185,185,185)"/><rect x="78.0" y="758.0" width="1.0" height="1.0" fill="rgb(180,180,180)"/><rect x="50.7" y="770.9" width="1.3" height="1.3" fill="rgb(136,136,136)"/><rect x="108.2" y="795.5" width="0.8" height="0.8" fill="rgb(119,119,119)"/><rect x="69.0" y="782.2" width="1.2" height="1.2" fill="rgb(194,194,194)"/><rect x="98.1" y="785.4" width="0.8" height="0.8" fill="rgb(154,154,154)"/><rect x="28.6" y="801.2" width="1.0" height="1.0" fill="rgb(79,79,79)"/><rect x="78.9" y="743.9" width="1.3" height="1.3" fill="rgb(151,151,151)"/><rect x="102.4" y="781.3" width="0.8" height="0.8" fill="rgb(171,171,171)"/><rect x="100.4" y="817.3" width="1.0" height="1.0" fill="rgb(63,63,63)"/><rect x="117.3" y="736.9" width="0.8" height="0.8" fill="rgb(75,75,75)"/><rect x="52.1" y="815.0" width="1.0" height="1.0" fill="rgb(96,96,96)"/><rect x="38.7" y="794.4" width="1.3" height="1.3" fill="rgb(83,83,83)"/><rect x="100.7" y="744.6" width="1.2" height="1.2" fill="rgb(158,158,158)"/><rect x="61.8" y="760.9" width="0.8" height="0.8" fill="rgb(110,110,110)"/><rect x="37.5" y="760.3" width="1.0" height="1.0" fill="rgb(157,157,157)"/><rect x="99.0" y="778.5" width="0.8" height="0.8" fill="rgb(107,107,107)"/><rect x="35.6" y="736.6" width="1.2" height="1.2" fill="rgb(91,91,91)"/><rect x="90.0" y="812.6" width="1.2" height="1.2" fill="rgb(188,188,188)"/><rect x="108.8" y="804.0" width="0.8" height="0.8" fill="rgb(114,114,114)"/><rect x="36.3" y="814.9" width="1.2" height="1.2" fill="rgb(81,81,81)"/><rect x="43.2" y="823.9" width="1.2" height="1.2" fill="rgb(178,178,178)"/><rect x="56.4" y="762.5" width="0.8" height="0.8" fill="rgb(161,161,161)"/><rect x="28.0" y="753.4" width="1.3" height="1.3" fill="rgb(129,129,129)"/><rect x="56.4" y="799.4" width="1.0" height="1.0" fill="rgb(84,84,84)"/><rect x="101.3" y="772.7" width="1.0" height="1.0" fill="rgb(71,71,71)"/><rect x="118.3" y="736.5" width="1.0" height="1.0" fill="rgb(124,124,124)"/><rect x="34.7" y="766.0" width="1.0" height="1.0" fill="rgb(62,62,62)"/><rect x="66.6" y="759.6" width="1.0" height="1.0" fill="rgb(68,68,68)"/><rect x="46.7" y="805.4" width="1.3" height="1.3" fill="rgb(197,197,197)"/><rect x="102.3" y="801.6" width="0.8" height="0.8" fill="rgb(91,91,91)"/><rect x="32.5" y="806.6" width="1.0" height="1.0" fill="rgb(151,151,151)"/><rect x="29.8" y="768.8" width="1.0" height="1.0" fill="rgb(179,179,179)"/><rect x="47.0" y="821.9" width="0.8" height="0.8" fill="rgb(147,147,147)"/><rect x="105.2" y="817.9" width="1.2" height="1.2" fill="rgb(138,138,138)"/><rect x="44.7" y="791.7" width="1.0" height="1.0" fill="rgb(160,160,160)"/><rect x="66.9" y="752.5" width="1.2" height="1.2" fill="rgb(81,81,81)"/><rect x="96.9" y="817.5" width="0.8" height="0.8" fill="rgb(63,63,63)"/><rect x="32.5" y="801.2" width="0.8" height="0.8" fill="rgb(167,167,167)"/><rect x="114.9" y="750.7" width="1.2" height="1.2" fill="rgb(119,119,119)"/><rect x="106.8" y="765.1" width="1.2" height="1.2" fill="rgb(77,77,77)"/><rect x="117.7" y="796.0" width="0.8" height="0.8" fill="rgb(197,197,197)"/><rect x="71.0" y="792.9" width="1.3" height="1.3" fill="rgb(119,119,119)"/><rect x="56.1" y="782.9" width="1.2" height="1.2" fill="rgb(129,129,129)"/><rect x="80.7" y="784.6" width="1.0" height="1.0" fill="rgb(116,116,116)"/><rect x="81.5" y="819.5" width="1.0" height="1.0" fill="rgb(168,168,168)"/><rect x="43.5" y="822.4" width="1.0" height="1.0" fill="rgb(173,173,173)"/><rect x="75.9" y="800.6" width="1.0" height="1.0" fill="rgb(70,70,70)"/><rect x="103.3" y="809.5" width="1.2" height="1.2" fill="rgb(63,63,63)"/><rect x="79.0" y="814.3" width="1.0" height="1.0" fill="rgb(119,119,119)"/><rect x="118.0" y="797.9" width="1.0" height="1.0" fill="rgb(152,152,152)"/><rect x="44.1" y="796.6" width="1.3" height="1.3" fill="rgb(108,108,108)"/><rect x="73.2" y="796.6" width="1.0" height="1.0" fill="rgb(189,189,189)"/><rect x="29.7" y="818.4" width="1.0" height="1.0" fill="rgb(74,74,74)"/><rect x="100.0" y="758.8" width="1.3" height="1.3" fill="rgb(160,160,160)"/><rect x="53.8" y="765.8" width="1.2" height="1.2" fill="rgb(191,191,191)"/><rect x="87.9" y="797.7" width="1.3" height="1.3" fill="rgb(60,60,60)"/><rect x="107.1" y="783.6" width="1.0" height="1.0" fill="rgb(135,135,135)"/><rect x="97.8" y="783.3" width="0.8" height="0.8" fill="rgb(188,188,188)"/><rect x="110.2" y="747.0" width="1.3" height="1.3" fill="rgb(113,113,113)"/><rect x="114.1" y="790.4" width="1.2" height="1.2" fill="rgb(178,178,178)"/><rect x="31.8" y="767.0" width="1.2" height="1.2" fill="rgb(87,87,87)"/><rect x="37.4" y="795.4" width="1.0" height="1.0" fill="rgb(149,149,149)"/><rect x="62.4" y="752.7" width="1.0" height="1.0" fill="rgb(114,114,114)"/><rect x="50.2" y="818.1" width="1.2" height="1.2" fill="rgb(89,89,89)"/><rect x="82.9" y="813.7" width="1.0" height="1.0" fill="rgb(196,196,196)"/><rect x="97.7" y="791.6" width="0.8" height="0.8" fill="rgb(135,135,135)"/><rect x="98.7" y="749.0" width="1.2" height="1.2" fill="rgb(170,170,170)"/><rect x="61.7" y="780.8" width="1.3" height="1.3" fill="rgb(143,143,143)"/><rect x="73.2" y="795.4" width="1.0" height="1.0" fill="rgb(67,67,67)"/><rect x="41.0" y="808.0" width="1.0" height="1.0" fill="rgb(122,122,122)"/><rect x="54.0" y="754.2" width="1.2" height="1.2" fill="rgb(156,156,156)"/><rect x="84.1" y="808.3" width="1.2" height="1.2" fill="rgb(72,72,72)"/><rect x="106.1" y="781.7" width="1.0" height="1.0" fill="rgb(150,150,150)"/><rect x="48.9" y="739.9" width="1.2" height="1.2" fill="rgb(146,146,146)"/><rect x="97.0" y="790.2" width="1.0" height="1.0" fill="rgb(66,66,66)"/><rect x="36.9" y="803.0" width="1.3" height="1.3" fill="rgb(84,84,84)"/><rect x="101.1" y="817.0" width="1.2" height="1.2" fill="rgb(196,196,196)"/><rect x="44.1" y="808.4" width="1.3" height="1.3" fill="rgb(112,112,112)"/><rect x="82.2" y="739.2" width="1.2" height="1.2" fill="rgb(191,191,191)"/><rect x="60.9" y="804.2" width="1.0" height="1.0" fill="rgb(188,188,188)"/><rect x="111.1" y="806.5" width="1.0" height="1.0" fill="rgb(118,118,118)"/><rect x="38.5" y="762.4" width="1.2" height="1.2" fill="rgb(79,79,79)"/><rect x="103.2" y="791.7" width="1.0" height="1.0" fill="rgb(183,183,183)"/><rect x="33.7" y="802.8" width="1.0" height="1.0" fill="rgb(69,69,69)"/><rect x="96.1" y="804.2" width="0.8" height="0.8" fill="rgb(141,141,141)"/><rect x="56.3" y="818.9" width="0.8" height="0.8" fill="rgb(157,157,157)"/><rect x="52.4" y="778.7" width="1.0" height="1.0" fill="rgb(154,154,154)"/><rect x="57.4" y="773.0" width="1.2" height="1.2" fill="rgb(185,185,185)"/><rect x="43.7" y="796.4" width="1.3" height="1.3" fill="rgb(179,179,179)"/><rect x="95.2" y="757.9" width="1.2" height="1.2" fill="rgb(102,102,102)"/><rect x="51.3" y="747.2" width="1.3" height="1.3" fill="rgb(80,80,80)"/><rect x="45.9" y="801.9" width="1.3" height="1.3" fill="rgb(87,87,87)"/><rect x="57.5" y="737.0" width="1.3" height="1.3" fill="rgb(182,182,182)"/><rect x="74.0" y="791.8" width="1.2" height="1.2" fill="rgb(76,76,76)"/><rect x="119.2" y="751.5" width="1.3" height="1.3" fill="rgb(126,126,126)"/><rect x="82.6" y="807.7" width="1.0" height="1.0" fill="rgb(163,163,163)"/><rect x="77.5" y="748.3" width="1.2" height="1.2" fill="rgb(130,130,130)"/><rect x="65.7" y="787.2" width="1.2" height="1.2" fill="rgb(105,105,105)"/><rect x="92.7" y="794.2" width="1.0" height="1.0" fill="rgb(164,164,164)"/><rect x="84.0" y="782.4" width="1.0" height="1.0" fill="rgb(125,125,125)"/><rect x="80.4" y="760.9" width="1.3" height="1.3" fill="rgb(63,63,63)"/><rect x="74.7" y="747.6" width="1.0" height="1.0" fill="rgb(150,150,150)"/><rect x="101.2" y="748.8" width="1.0" height="1.0" fill="rgb(154,154,154)"/><rect x="99.6" y="781.1" width="1.0" height="1.0" fill="rgb(120,120,120)"/><rect x="110.0" y="799.6" width="1.2" height="1.2" fill="rgb(98,98,98)"/><rect x="28.5" y="820.9" width="1.2" height="1.2" fill="rgb(174,174,174)"/><rect x="90.1" y="780.2" width="1.0" height="1.0" fill="rgb(163,163,163)"/><rect x="104.6" y="769.5" width="1.2" height="1.2" fill="rgb(99,99,99)"/><rect x="60.3" y="798.3" width="1.3" height="1.3" fill="rgb(132,132,132)"/><rect x="82.5" y="794.4" width="1.0" height="1.0" fill="rgb(138,138,138)"/><rect x="68.6" y="746.7" width="0.8" height="0.8" fill="rgb(126,126,126)"/><rect x="108.8" y="747.9" width="1.2" height="1.2" fill="rgb(129,129,129)"/><rect x="80.0" y="770.1" width="1.0" height="1.0" fill="rgb(179,179,179)"/><rect x="94.5" y="777.3" width="1.3" height="1.3" fill="rgb(162,162,162)"/><rect x="94.3" y="772.1" width="1.3" height="1.3" fill="rgb(175,175,175)"/><rect x="89.5" y="787.7" width="1.2" height="1.2" fill="rgb(131,131,131)"/><rect x="63.4" y="791.6" width="1.0" height="1.0" fill="rgb(188,188,188)"/><rect x="35.1" y="759.0" width="1.0" height="1.0" fill="rgb(83,83,83)"/><rect x="110.7" y="795.0" width="1.2" height="1.2" fill="rgb(74,74,74)"/><rect x="107.5" y="807.7" width="1.0" height="1.0" fill="rgb(186,186,186)"/><rect x="90.4" y="804.1" width="0.8" height="0.8" fill="rgb(63,63,63)"/><rect x="102.9" y="768.0" width="0.8" height="0.8" fill="rgb(86,86,86)"/><rect x="58.8" y="781.1" width="0.8" height="0.8" fill="rgb(104,104,104)"/><rect x="115.1" y="805.2" width="1.2" height="1.2" fill="rgb(118,118,118)"/><rect x="29.6" y="776.8" width="1.3" height="1.3" fill="rgb(189,189,189)"/><rect x="107.8" y="758.3" width="0.8" height="0.8" fill="rgb(81,81,81)"/><rect x="75.9" y="808.0" width="1.2" height="1.2" fill="rgb(147,147,147)"/><rect x="74.0" y="772.3" width="1.0" height="1.0" fill="rgb(155,155,155)"/><rect x="110.8" y="768.4" width="1.3" height="1.3" fill="rgb(107,107,107)"/><rect x="81.9" y="785.7" width="1.3" height="1.3" fill="rgb(61,61,61)"/><rect x="47.5" y="759.2" width="0.8" height="0.8" fill="rgb(101,101,101)"/><rect x="83.4" y="750.0" width="1.3" height="1.3" fill="rgb(105,105,105)"/><rect x="80.8" y="747.8" width="0.8" height="0.8" fill="rgb(197,197,197)"/><rect x="34.9" y="768.5" width="1.3" height="1.3" fill="rgb(153,153,153)"/><rect x="87.5" y="816.2" width="1.3" height="1.3" fill="rgb(73,73,73)"/><rect x="47.9" y="800.0" width="1.3" height="1.3" fill="rgb(133,133,133)"/><rect x="101.0" y="780.6" width="1.3" height="1.3" fill="rgb(119,119,119)"/><rect x="79.6" y="819.6" width="0.8" height="0.8" fill="rgb(105,105,105)"/><rect x="73.4" y="810.6" width="0.8" height="0.8" fill="rgb(176,176,176)"/><rect x="76.4" y="774.2" width="1.3" height="1.3" fill="rgb(168,168,168)"/><rect x="38.0" y="767.7" width="1.0" height="1.0" fill="rgb(73,73,73)"/><rect x="56.2" y="759.1" width="0.8" height="0.8" fill="rgb(160,160,160)"/><rect x="54.5" y="794.8" width="1.0" height="1.0" fill="rgb(138,138,138)"/><rect x="78.2" y="773.2" width="1.0" height="1.0" fill="rgb(116,116,116)"/><rect x="87.2" y="745.0" width="1.3" height="1.3" fill="rgb(71,71,71)"/><rect x="73.0" y="812.9" width="1.0" height="1.0" fill="rgb(71,71,71)"/><rect x="70.7" y="795.4" width="1.3" height="1.3" fill="rgb(65,65,65)"/><rect x="68.6" y="824.2" width="1.0" height="1.0" fill="rgb(197,197,197)"/><rect x="86.7" y="753.2" width="1.0" height="1.0" fill="rgb(140,140,140)"/><rect x="71.2" y="750.1" width="1.0" height="1.0" fill="rgb(197,197,197)"/><rect x="71.4" y="816.0" width="1.0" height="1.0" fill="rgb(164,164,164)"/><rect x="67.5" y="786.5" width="0.8" height="0.8" fill="rgb(183,183,183)"/><rect x="49.1" y="768.1" width="0.8" height="0.8" fill="rgb(156,156,156)"/><rect x="55.9" y="792.0" width="0.8" height="0.8" fill="rgb(91,91,91)"/><rect x="51.7" y="768.4" width="0.8" height="0.8" fill="rgb(116,116,116)"/><rect x="44.3" y="762.0" width="1.0" height="1.0" fill="rgb(160,160,160)"/><rect x="78.6" y="802.6" width="1.0" height="1.0" fill="rgb(132,132,132)"/><rect x="90.6" y="749.0" width="1.0" height="1.0" fill="rgb(87,87,87)"/><rect x="47.9" y="757.6" width="1.3" height="1.3" fill="rgb(67,67,67)"/><rect x="99.9" y="739.3" width="0.8" height="0.8" fill="rgb(180,180,180)"/><rect x="41.8" y="823.2" width="1.3" height="1.3" fill="rgb(126,126,126)"/><rect x="57.4" y="779.6" width="1.0" height="1.0" fill="rgb(169,169,169)"/><rect x="105.4" y="781.9" width="1.0" height="1.0" fill="rgb(176,176,176)"/><rect x="37.3" y="818.7" width="1.0" height="1.0" fill="rgb(189,189,189)"/><rect x="112.4" y="752.6" width="1.0" height="1.0" fill="rgb(136,136,136)"/><rect x="59.0" y="736.4" width="1.3" height="1.3" fill="rgb(78,78,78)"/><rect x="30.9" y="768.3" width="1.0" height="1.0" fill="rgb(88,88,88)"/><rect x="102.6" y="748.2" width="1.2" height="1.2" fill="rgb(139,139,139)"/><rect x="44.7" y="787.8" width="1.0" height="1.0" fill="rgb(199,199,199)"/><rect x="56.1" y="745.5" width="1.3" height="1.3" fill="rgb(195,195,195)"/><rect x="101.8" y="798.8" width="1.3" height="1.3" fill="rgb(147,147,147)"/><rect x="38.0" y="797.0" width="0.8" height="0.8" fill="rgb(74,74,74)"/><rect x="103.3" y="801.2" width="1.0" height="1.0" fill="rgb(106,106,106)"/><rect x="54.7" y="761.5" width="1.3" height="1.3" fill="rgb(140,140,140)"/><rect x="46.7" y="824.0" width="1.2" height="1.2" fill="rgb(191,191,191)"/><rect x="56.0" y="749.0" width="1.2" height="1.2" fill="rgb(140,140,140)"/><rect x="99.9" y="819.5" width="1.3" height="1.3" fill="rgb(192,192,192)"/><rect x="115.3" y="751.3" width="1.2" height="1.2" fill="rgb(114,114,114)"/><rect x="106.0" y="778.5" width="0.8" height="0.8" fill="rgb(62,62,62)"/><rect x="78.0" y="748.2" width="1.0" height="1.0" fill="rgb(148,148,148)"/><rect x="46.4" y="804.9" width="1.2" height="1.2" fill="rgb(116,116,116)"/><rect x="43.0" y="762.9" width="1.3" height="1.3" fill="rgb(70,70,70)"/><rect x="97.4" y="794.8" width="1.0" height="1.0" fill="rgb(60,60,60)"/><rect x="36.9" y="762.8" width="0.8" height="0.8" fill="rgb(140,140,140)"/><rect x="98.8" y="780.1" width="1.0" height="1.0" fill="rgb(114,114,114)"/><rect x="52.6" y="742.5" width="1.3" height="1.3" fill="rgb(102,102,102)"/><rect x="44.5" y="751.3" width="1.0" height="1.0" fill="rgb(106,106,106)"/><rect x="87.1" y="753.3" width="1.2" height="1.2" fill="rgb(169,169,169)"/><rect x="40.0" y="749.2" width="0.8" height="0.8" fill="rgb(154,154,154)"/><rect x="86.9" y="798.2" width="1.3" height="1.3" fill="rgb(191,191,191)"/><rect x="83.5" y="789.2" width="1.0" height="1.0" fill="rgb(77,77,77)"/><rect x="116.1" y="804.4" width="0.8" height="0.8" fill="rgb(82,82,82)"/><rect x="32.5" y="807.6" width="1.0" height="1.0" fill="rgb(94,94,94)"/><rect x="90.4" y="743.7" width="1.3" height="1.3" fill="rgb(87,87,87)"/><rect x="44.8" y="799.3" width="1.0" height="1.0" fill="rgb(85,85,85)"/><rect x="119.2" y="765.6" width="0.8" height="0.8" fill="rgb(63,63,63)"/><rect x="104.5" y="751.6" width="1.0" height="1.0" fill="rgb(194,194,194)"/><rect x="65.2" y="758.8" width="1.0" height="1.0" fill="rgb(82,82,82)"/><rect x="97.7" y="796.4" width="1.2" height="1.2" fill="rgb(90,90,90)"/><rect x="102.4" y="749.8" width="0.8" height="0.8" fill="rgb(193,193,193)"/><rect x="59.9" y="808.0" width="1.3" height="1.3" fill="rgb(67,67,67)"/><rect x="91.3" y="817.9" width="1.3" height="1.3" fill="rgb(61,61,61)"/><rect x="95.4" y="742.0" width="1.2" height="1.2" fill="rgb(157,157,157)"/><rect x="119.3" y="744.2" width="1.0" height="1.0" fill="rgb(96,96,96)"/><rect x="70.4" y="763.3" width="1.0" height="1.0" fill="rgb(75,75,75)"/><rect x="103.2" y="794.0" width="1.2" height="1.2" fill="rgb(102,102,102)"/><rect x="41.7" y="760.3" width="1.3" height="1.3" fill="rgb(176,176,176)"/><rect x="33.9" y="774.0" width="1.0" height="1.0" fill="rgb(173,173,173)"/><rect x="30.8" y="810.7" width="1.0" height="1.0" fill="rgb(186,186,186)"/><rect x="51.7" y="771.9" width="1.3" height="1.3" fill="rgb(186,186,186)"/><rect x="62.3" y="815.0" width="1.3" height="1.3" fill="rgb(96,96,96)"/><rect x="78.8" y="751.6" width="1.3" height="1.3" fill="rgb(141,141,141)"/><rect x="55.7" y="818.5" width="1.2" height="1.2" fill="rgb(140,140,140)"/><rect x="35.5" y="819.8" width="0.8" height="0.8" fill="rgb(185,185,185)"/><rect x="74.5" y="768.7" width="1.3" height="1.3" fill="rgb(106,106,106)"/><rect x="105.6" y="790.6" width="1.2" height="1.2" fill="rgb(182,182,182)"/><rect x="38.2" y="761.5" width="1.0" height="1.0" fill="rgb(199,199,199)"/><rect x="58.6" y="791.9" width="1.3" height="1.3" fill="rgb(187,187,187)"/><rect x="71.5" y="770.8" width="1.0" height="1.0" fill="rgb(84,84,84)"/><rect x="99.3" y="798.2" width="1.0" height="1.0" fill="rgb(161,161,161)"/><rect x="34.3" y="782.4" width="1.3" height="1.3" fill="rgb(152,152,152)"/><rect x="101.6" y="820.6" width="0.8" height="0.8" fill="rgb(183,183,183)"/><rect x="59.9" y="754.2" width="1.0" height="1.0" fill="rgb(155,155,155)"/><rect x="36.1" y="765.5" width="0.8" height="0.8" fill="rgb(183,183,183)"/><rect x="84.4" y="752.1" width="0.8" height="0.8" fill="rgb(88,88,88)"/><rect x="68.0" y="798.6" width="1.3" height="1.3" fill="rgb(89,89,89)"/><rect x="71.3" y="791.1" width="1.0" height="1.0" fill="rgb(61,61,61)"/><rect x="41.0" y="795.1" width="1.0" height="1.0" fill="rgb(65,65,65)"/><rect x="57.8" y="739.7" width="1.0" height="1.0" fill="rgb(188,188,188)"/><rect x="102.1" y="808.2" width="1.0" height="1.0" fill="rgb(187,187,187)"/><rect x="52.9" y="755.6" width="1.0" height="1.0" fill="rgb(95,95,95)"/><rect x="93.9" y="760.2" width="1.2" height="1.2" fill="rgb(99,99,99)"/><rect x="50.9" y="758.2" width="1.3" height="1.3" fill="rgb(82,82,82)"/><rect x="32.3" y="806.8" width="1.0" height="1.0" fill="rgb(167,167,167)"/><rect x="95.0" y="760.5" width="1.0" height="1.0" fill="rgb(156,156,156)"/><rect x="80.4" y="740.5" width="1.2" height="1.2" fill="rgb(110,110,110)"/><rect x="51.2" y="785.1" width="1.0" height="1.0" fill="rgb(119,119,119)"/><rect x="62.5" y="781.4" width="1.3" height="1.3" fill="rgb(127,127,127)"/><rect x="49.9" y="773.4" width="0.8" height="0.8" fill="rgb(146,146,146)"/><rect x="88.9" y="779.9" width="1.0" height="1.0" fill="rgb(82,82,82)"/><rect x="30.4" y="763.3" width="0.8" height="0.8" fill="rgb(107,107,107)"/><rect x="29.1" y="789.2" width="0.8" height="0.8" fill="rgb(93,93,93)"/><rect x="72.3" y="764.7" width="1.0" height="1.0" fill="rgb(130,130,130)"/><rect x="89.9" y="819.7" width="1.0" height="1.0" fill="rgb(148,148,148)"/><rect x="39.6" y="771.8" width="1.3" height="1.3" fill="rgb(157,157,157)"/><rect x="106.7" y="812.8" width="1.0" height="1.0" fill="rgb(111,111,111)"/><rect x="89.0" y="750.6" width="1.3" height="1.3" fill="rgb(162,162,162)"/><rect x="109.1" y="738.2" width="1.0" height="1.0" fill="rgb(109,109,109)"/><rect x="65.0" y="804.7" width="1.3" height="1.3" fill="rgb(181,181,181)"/><rect x="105.3" y="769.4" width="0.8" height="0.8" fill="rgb(163,163,163)"/><rect x="110.5" y="768.4" width="1.0" height="1.0" fill="rgb(178,178,178)"/><rect x="64.1" y="790.5" width="1.0" height="1.0" fill="rgb(141,141,141)"/><rect x="44.9" y="794.4" width="1.0" height="1.0" fill="rgb(159,159,159)"/><rect x="96.0" y="746.1" width="1.2" height="1.2" fill="rgb(80,80,80)"/><rect x="51.2" y="744.8" width="1.0" height="1.0" fill="rgb(110,110,110)"/><rect x="113.0" y="817.8" width="1.3" height="1.3" fill="rgb(99,99,99)"/><rect x="113.5" y="817.2" width="1.0" height="1.0" fill="rgb(87,87,87)"/><rect x="31.9" y="812.9" width="1.0" height="1.0" fill="rgb(168,168,168)"/><rect x="61.5" y="800.8" width="0.8" height="0.8" fill="rgb(157,157,157)"/><rect x="97.1" y="791.7" width="1.3" height="1.3" fill="rgb(121,121,121)"/><rect x="92.9" y="779.0" width="1.3" height="1.3" fill="rgb(97,97,97)"/><rect x="36.7" y="793.1" width="1.0" height="1.0" fill="rgb(118,118,118)"/><rect x="65.7" y="774.3" width="1.3" height="1.3" fill="rgb(120,120,120)"/><rect x="81.0" y="783.2" width="1.2" height="1.2" fill="rgb(167,167,167)"/><rect x="64.0" y="739.0" width="1.0" height="1.0" fill="rgb(142,142,142)"/><rect x="76.8" y="758.8" width="1.3" height="1.3" fill="rgb(74,74,74)"/><rect x="105.8" y="752.1" width="0.8" height="0.8" fill="rgb(174,174,174)"/><rect x="86.5" y="784.6" width="1.2" height="1.2" fill="rgb(150,150,150)"/><rect x="111.1" y="809.2" width="1.0" height="1.0" fill="rgb(73,73,73)"/><rect x="87.3" y="812.4" width="0.8" height="0.8" fill="rgb(167,167,167)"/><rect x="38.3" y="780.8" width="1.3" height="1.3" fill="rgb(93,93,93)"/><rect x="64.8" y="750.3" width="1.0" height="1.0" fill="rgb(165,165,165)"/><rect x="67.2" y="749.6" width="1.3" height="1.3" fill="rgb(117,117,117)"/><rect x="115.8" y="774.7" width="1.0" height="1.0" fill="rgb(70,70,70)"/><rect x="27.9" y="737.8" width="0.8" height="0.8" fill="rgb(79,79,79)"/><rect x="108.3" y="771.2" width="1.2" height="1.2" fill="rgb(136,136,136)"/><rect x="73.0" y="769.7" width="1.3" height="1.3" fill="rgb(182,182,182)"/><rect x="65.9" y="808.4" width="0.8" height="0.8" fill="rgb(94,94,94)"/><rect x="85.7" y="812.1" width="1.0" height="1.0" fill="rgb(69,69,69)"/><rect x="51.0" y="742.5" width="1.0" height="1.0" fill="rgb(75,75,75)"/><rect x="73.7" y="820.4" width="1.0" height="1.0" fill="rgb(106,106,106)"/><rect x="73.7" y="771.6" width="1.0" height="1.0" fill="rgb(104,104,104)"/><rect x="114.6" y="779.3" width="0.8" height="0.8" fill="rgb(72,72,72)"/><rect x="108.5" y="787.0" width="1.0" height="1.0" fill="rgb(134,134,134)"/><rect x="60.6" y="737.8" width="1.2" height="1.2" fill="rgb(193,193,193)"/><rect x="39.2" y="758.0" width="1.2" height="1.2" fill="rgb(188,188,188)"/><rect x="100.7" y="755.6" width="1.3" height="1.3" fill="rgb(176,176,176)"/><rect x="74.2" y="819.4" width="1.0" height="1.0" fill="rgb(78,78,78)"/><rect x="101.2" y="784.9" width="1.0" height="1.0" fill="rgb(127,127,127)"/><rect x="111.6" y="799.8" width="1.3" height="1.3" fill="rgb(189,189,189)"/>
<text x="22.6" y="689.6" font-size="10.8" text-anchor="middle" textLength="15.8" lengthAdjust="spacingAndGlyphs" transform="rotate(-90 22.6 689.6)"><tspan fill="#222222" stroke="#222222" stroke-width="0.22">WT</tspan></text>
<text x="10.0" y="780.0" font-size="10.8" text-anchor="middle" textLength="29.6" lengthAdjust="spacingAndGlyphs" transform="rotate(-90 10.0 780.0)"><tspan fill="#222222" stroke="#222222" stroke-width="0.22">S38</tspan><tspan fill="#e2352b" stroke="#e2352b" stroke-width="0.22">3E</tspan></text>
<text x="22.2" y="780.0" font-size="10.8" text-anchor="middle" textLength="29.6" lengthAdjust="spacingAndGlyphs" transform="rotate(-90 22.2 780.0)"><tspan fill="#222222" stroke="#222222" stroke-width="0.22">S38</tspan><tspan fill="#e2352b" stroke="#e2352b" stroke-width="0.22">9A</tspan></text>
<text x="28.8" y="825.0" font-size="10.8" textLength="34.6" lengthAdjust="spacingAndGlyphs"><tspan fill="#f0f0f0" stroke="#f0f0f0" stroke-width="0.22">RBPMS</tspan></text>
<rect x="96.1" y="822.8" width="23.7" height="2.5" fill="#f4f4f4" />
<text x="140" y="636.8" font-size="16" font-weight="bold"><tspan fill="#000" stroke="#000" stroke-width="0.22">h</tspan></text>
<rect x="204.5" y="744.5" width="26" height="79.70000000000005" fill="#f9c3cd" stroke="#e5483c" stroke-width="1.0" />
<rect x="244.5" y="737.5" width="26.5" height="86.70000000000005" fill="#f6de3c" stroke="#f2a430" stroke-width="1.0" />
<circle cx="207.8" cy="728.0" r="3.55" fill="#e0352a" />
<circle cx="227.0" cy="725.8" r="3.55" fill="#e0352a" />
<circle cx="220.8" cy="739.0" r="3.55" fill="#e0352a" />
<circle cx="207.8" cy="747.3" r="3.55" fill="#e0352a" />
<circle cx="214.0" cy="745.5" r="3.55" fill="#e0352a" />
<circle cx="220.8" cy="751.8" r="3.55" fill="#e0352a" />
<circle cx="227.0" cy="746.5" r="3.55" fill="#e0352a" />
<circle cx="214.0" cy="759.0" r="3.55" fill="#e0352a" />
<circle cx="248.3" cy="719.0" r="3.55" fill="#f29a1c" />
<circle cx="257.7" cy="717.5" r="3.55" fill="#f29a1c" />
<circle cx="267.4" cy="718.4" r="3.55" fill="#f29a1c" />
<circle cx="248.3" cy="734.0" r="3.55" fill="#f29a1c" />
<circle cx="267.4" cy="732.5" r="3.55" fill="#f29a1c" />
<circle cx="248.3" cy="746.0" r="3.55" fill="#f29a1c" />
<circle cx="267.4" cy="742.1" r="3.55" fill="#f29a1c" />
<circle cx="257.7" cy="771.7" r="3.55" fill="#f29a1c" />
<line x1="217.6" y1="744.4" x2="217.6" y2="738.3" stroke="#e0352a" stroke-width="2.0"/>
<line x1="211" y1="738.3" x2="224.2" y2="738.3" stroke="#e0352a" stroke-width="2.0"/>
<line x1="257.8" y1="737.0" x2="257.8" y2="729.1" stroke="#f29a1c" stroke-width="2.0"/>
<line x1="250" y1="729.1" x2="265.6" y2="729.1" stroke="#f29a1c" stroke-width="2.0"/>
<line x1="257.8" y1="737.0" x2="257.8" y2="745" stroke="#f29a1c" stroke-width="2.0"/>
<line x1="190.9" y1="685.5" x2="190.9" y2="825.5" stroke="#111" stroke-width="2.4"/>
<line x1="188.9" y1="824.1" x2="284.6" y2="824.1" stroke="#111" stroke-width="2.9"/>
<line x1="185.2" y1="824.2" x2="190.9" y2="824.2" stroke="#111" stroke-width="2.0"/>
<text x="183.2" y="827.9000000000001" font-size="10.3" text-anchor="end" textLength="5.7" lengthAdjust="spacingAndGlyphs"><tspan fill="#222222" stroke="#222222" stroke-width="0.22">0</tspan></text>
<line x1="185.2" y1="778.2650000000001" x2="190.9" y2="778.2650000000001" stroke="#111" stroke-width="2.0"/>
<text x="183.2" y="781.9650000000001" font-size="10.3" text-anchor="end" textLength="17.2" lengthAdjust="spacingAndGlyphs"><tspan fill="#222222" stroke="#222222" stroke-width="0.22">500</tspan></text>
<line x1="185.2" y1="732.33" x2="190.9" y2="732.33" stroke="#111" stroke-width="2.0"/>
<text x="183.2" y="736.0300000000001" font-size="10.3" text-anchor="end" textLength="22.9" lengthAdjust="spacingAndGlyphs"><tspan fill="#222222" stroke="#222222" stroke-width="0.22">1000</tspan></text>
<line x1="185.2" y1="686.3950000000001" x2="190.9" y2="686.3950000000001" stroke="#111" stroke-width="2.0"/>
<text x="183.2" y="690.0950000000001" font-size="10.3" text-anchor="end" textLength="22.9" lengthAdjust="spacingAndGlyphs"><tspan fill="#222222" stroke="#222222" stroke-width="0.22">1500</tspan></text>
<line x1="218.0" y1="824" x2="218.0" y2="829.8" stroke="#111" stroke-width="2.8"/>
<line x1="257.7" y1="824" x2="257.7" y2="829.8" stroke="#111" stroke-width="2.8"/>
<text x="238.6" y="692.8" font-size="12.6" text-anchor="middle" textLength="18.8" lengthAdjust="spacingAndGlyphs"><tspan fill="#222222" stroke="#222222" stroke-width="0.22">n.s.</tspan></text>
<line x1="219.2" y1="695.5" x2="256.6" y2="695.5" stroke="#111" stroke-width="1.3"/>
<text x="152.4" y="735.3" font-size="10.6" text-anchor="middle" textLength="126.6" lengthAdjust="spacingAndGlyphs" transform="rotate(-90 152.4 735.3)"><tspan fill="#222222" stroke="#222222" stroke-width="0.22">RBPMS-positive cells/mm²</tspan></text>
<text x="210.2" y="842.7" font-size="10.6" textLength="15.7" lengthAdjust="spacingAndGlyphs"><tspan fill="#222222" stroke="#222222" stroke-width="0.22">WT</tspan></text>
<text x="242.0" y="842.7" font-size="10.6" textLength="30.3" lengthAdjust="spacingAndGlyphs"><tspan fill="#222222" stroke="#222222" stroke-width="0.22">S38</tspan><tspan fill="#e2352b" stroke="#e2352b" stroke-width="0.22">3E</tspan></text>
<text x="242.0" y="854.6" font-size="10.6" textLength="30.3" lengthAdjust="spacingAndGlyphs"><tspan fill="#222222" stroke="#222222" stroke-width="0.22">S38</tspan><tspan fill="#e2352b" stroke="#e2352b" stroke-width="0.22">9A</tspan></text>
<text x="302.4" y="636.2" font-size="16" font-weight="bold"><tspan fill="#000" stroke="#000" stroke-width="0.22">i</tspan></text>
<g clip-path="url(#i1)">
<rect x="302.4" y="675.8" width="191.5" height="71.20000000000005" fill="#000"/>
<path d="M302.2 692.2 L330.0 693.6 L356.0 694.6 L384.0 695.5 L412.0 697.6 L437.0 699.2 L465.0 696.4 L494.5 687.3 L494.5 718.8 L465.0 723.0 L437.0 725.8 L395.0 729.3 L384.0 729.0 L364.0 728.6 L342.0 730.0 L330.0 734.2 L302.2 735.6Z" fill="#0e0e0e"/>
<rect x="334.0" y="718.6" width="1.0" height="0.8" fill="rgb(172,172,172)"/><rect x="305.1" y="710.8" width="1.0" height="0.8" fill="rgb(128,128,128)"/><rect x="306.8" y="696.2" width="0.8" height="0.6" fill="rgb(215,215,215)"/><rect x="368.1" y="701.3" width="1.0" height="0.8" fill="rgb(114,114,114)"/><rect x="316.7" y="721.2" width="1.6" height="1.3" fill="rgb(214,214,214)"/><rect x="376.7" y="700.2" width="1.0" height="0.8" fill="rgb(179,179,179)"/><rect x="372.3" y="708.1" width="1.3" height="1.0" fill="rgb(239,239,239)"/><rect x="332.8" y="732.5" width="0.8" height="0.6" fill="rgb(110,110,110)"/><rect x="344.9" y="714.0" width="1.0" height="0.8" fill="rgb(190,190,190)"/><rect x="349.5" y="726.8" width="1.3" height="1.0" fill="rgb(132,132,132)"/><rect x="333.5" y="725.3" width="1.3" height="1.0" fill="rgb(210,210,210)"/><rect x="313.4" y="728.8" width="0.8" height="0.6" fill="rgb(195,195,195)"/><rect x="382.7" y="697.8" width="1.0" height="0.8" fill="rgb(153,153,153)"/><rect x="394.1" y="727.9" width="1.3" height="1.0" fill="rgb(178,178,178)"/><rect x="307.8" y="728.4" width="1.0" height="0.8" fill="rgb(213,213,213)"/><rect x="361.4" y="704.2" width="0.8" height="0.6" fill="rgb(209,209,209)"/><rect x="375.6" y="719.3" width="1.0" height="0.8" fill="rgb(144,144,144)"/><rect x="320.6" y="694.2" width="1.0" height="0.8" fill="rgb(168,168,168)"/><rect x="316.2" y="704.7" width="1.0" height="0.8" fill="rgb(149,149,149)"/><rect x="445.2" y="723.1" width="0.8" height="0.6" fill="rgb(160,160,160)"/><rect x="332.3" y="733.0" width="1.6" height="1.3" fill="rgb(216,216,216)"/><rect x="406.8" y="715.7" width="1.6" height="1.3" fill="rgb(152,152,152)"/><rect x="314.6" y="734.0" width="1.0" height="0.8" fill="rgb(156,156,156)"/><rect x="315.9" y="720.7" width="1.0" height="0.8" fill="rgb(115,115,115)"/><rect x="347.7" y="711.5" width="0.8" height="0.6" fill="rgb(192,192,192)"/><rect x="309.6" y="708.5" width="1.0" height="0.8" fill="rgb(188,188,188)"/><rect x="303.6" y="705.8" width="1.0" height="0.8" fill="rgb(160,160,160)"/><rect x="319.8" y="714.8" width="1.3" height="1.0" fill="rgb(190,190,190)"/><rect x="323.1" y="722.3" width="1.0" height="0.8" fill="rgb(136,136,136)"/><rect x="338.6" y="695.0" width="1.0" height="0.8" fill="rgb(176,176,176)"/><rect x="348.1" y="719.6" width="1.3" height="1.0" fill="rgb(130,130,130)"/><rect x="335.8" y="704.3" width="1.0" height="0.8" fill="rgb(134,134,134)"/><rect x="309.0" y="732.5" width="0.8" height="0.6" fill="rgb(201,201,201)"/><rect x="316.7" y="709.6" width="1.3" height="1.0" fill="rgb(167,167,167)"/><rect x="348.4" y="713.5" width="1.0" height="0.8" fill="rgb(122,122,122)"/><rect x="338.8" y="694.1" width="1.6" height="1.3" fill="rgb(131,131,131)"/><rect x="403.8" y="702.9" width="1.6" height="1.3" fill="rgb(162,162,162)"/><rect x="349.2" y="723.3" width="1.3" height="1.0" fill="rgb(185,185,185)"/><rect x="471.6" y="710.5" width="1.0" height="0.8" fill="rgb(120,120,120)"/><rect x="331.5" y="714.7" width="1.3" height="1.0" fill="rgb(179,179,179)"/><rect x="367.1" y="706.9" width="0.8" height="0.6" fill="rgb(148,148,148)"/><rect x="315.4" y="721.4" width="1.0" height="0.8" fill="rgb(134,134,134)"/><rect x="369.9" y="714.8" width="1.3" height="1.0" fill="rgb(145,145,145)"/><rect x="332.7" y="730.5" width="1.3" height="1.0" fill="rgb(180,180,180)"/><rect x="340.5" y="728.8" width="1.0" height="0.8" fill="rgb(165,165,165)"/><rect x="310.2" y="715.3" width="1.0" height="0.8" fill="rgb(191,191,191)"/><rect x="306.4" y="713.0" width="1.3" height="1.0" fill="rgb(222,222,222)"/><rect x="454.4" y="706.8" width="1.6" height="1.3" fill="rgb(189,189,189)"/><rect x="307.2" y="724.6" width="1.6" height="1.3" fill="rgb(133,133,133)"/><rect x="345.7" y="704.4" width="1.0" height="0.8" fill="rgb(168,168,168)"/><rect x="343.1" y="707.4" width="1.0" height="0.8" fill="rgb(238,238,238)"/><rect x="325.9" y="710.8" width="1.3" height="1.0" fill="rgb(193,193,193)"/><rect x="350.8" y="707.6" width="1.0" height="0.8" fill="rgb(173,173,173)"/><rect x="310.2" y="701.4" width="1.0" height="0.8" fill="rgb(212,212,212)"/><rect x="377.8" y="717.6" width="1.6" height="1.3" fill="rgb(185,185,185)"/><rect x="431.2" y="724.0" width="1.0" height="0.8" fill="rgb(127,127,127)"/><rect x="340.5" y="726.5" width="1.0" height="0.8" fill="rgb(120,120,120)"/><rect x="350.0" y="720.8" width="0.8" height="0.6" fill="rgb(231,231,231)"/><rect x="344.2" y="711.9" width="1.0" height="0.8" fill="rgb(202,202,202)"/><rect x="308.6" y="731.9" width="0.8" height="0.6" fill="rgb(177,177,177)"/><rect x="339.4" y="696.1" width="1.3" height="1.0" fill="rgb(200,200,200)"/><rect x="314.0" y="718.2" width="1.0" height="0.8" fill="rgb(176,176,176)"/><rect x="400.8" y="722.1" width="1.3" height="1.0" fill="rgb(112,112,112)"/><rect x="368.4" y="695.5" width="1.0" height="0.8" fill="rgb(145,145,145)"/><rect x="389.9" y="696.3" width="1.0" height="0.8" fill="rgb(130,130,130)"/><rect x="344.7" y="713.2" width="1.3" height="1.0" fill="rgb(125,125,125)"/><rect x="325.8" y="722.1" width="0.8" height="0.6" fill="rgb(137,137,137)"/><rect x="318.7" y="718.0" width="1.0" height="0.8" fill="rgb(122,122,122)"/><rect x="311.3" y="726.9" width="0.8" height="0.6" fill="rgb(172,172,172)"/><rect x="333.8" y="719.7" width="1.3" height="1.0" fill="rgb(195,195,195)"/><rect x="324.5" y="713.4" width="1.0" height="0.8" fill="rgb(216,216,216)"/><rect x="361.5" y="717.3" width="1.0" height="0.8" fill="rgb(167,167,167)"/><rect x="311.8" y="727.8" width="0.8" height="0.6" fill="rgb(176,176,176)"/><rect x="340.4" y="705.1" width="1.0" height="0.8" fill="rgb(152,152,152)"/><rect x="449.9" y="711.3" width="1.0" height="0.8" fill="rgb(131,131,131)"/><rect x="346.5" y="710.2" width="1.6" height="1.3" fill="rgb(205,205,205)"/><rect x="337.2" y="699.3" width="1.0" height="0.8" fill="rgb(157,157,157)"/><rect x="317.4" y="723.1" width="1.6" height="1.3" fill="rgb(149,149,149)"/><rect x="334.4" y="718.1" width="1.0" height="0.8" fill="rgb(145,145,145)"/><rect x="325.6" y="702.0" width="1.0" height="0.8" fill="rgb(159,159,159)"/><rect x="327.2" y="699.1" width="0.8" height="0.6" fill="rgb(110,110,110)"/><rect x="334.2" y="712.2" width="1.0" height="0.8" fill="rgb(119,119,119)"/><rect x="323.7" y="705.5" width="1.0" height="0.8" fill="rgb(167,167,167)"/><rect x="381.6" y="719.8" width="1.0" height="0.8" fill="rgb(125,125,125)"/><rect x="303.5" y="726.5" width="1.3" height="1.0" fill="rgb(224,224,224)"/><rect x="328.3" y="731.7" width="1.0" height="0.8" fill="rgb(155,155,155)"/><rect x="452.4" y="706.7" width="1.0" height="0.8" fill="rgb(131,131,131)"/><rect x="310.5" y="706.4" width="1.0" height="0.8" fill="rgb(198,198,198)"/><rect x="421.4" y="720.2" width="1.0" height="0.8" fill="rgb(122,122,122)"/><rect x="381.4" y="719.8" width="1.0" height="0.8" fill="rgb(159,159,159)"/><rect x="349.1" y="705.0" width="1.0" height="0.8" fill="rgb(166,166,166)"/><rect x="318.6" y="713.3" width="1.0" height="0.8" fill="rgb(228,228,228)"/><rect x="420.4" y="720.4" width="1.6" height="1.3" fill="rgb(238,238,238)"/><rect x="329.5" y="719.2" width="1.3" height="1.0" fill="rgb(118,118,118)"/><rect x="319.6" y="734.0" width="1.3" height="1.0" fill="rgb(222,222,222)"/><rect x="396.0" y="715.0" width="1.0" height="0.8" fill="rgb(193,193,193)"/><rect x="329.6" y="720.1" width="1.0" height="0.8" fill="rgb(182,182,182)"/><rect x="348.7" y="704.2" width="1.6" height="1.3" fill="rgb(135,135,135)"/><rect x="320.5" y="704.2" width="1.3" height="1.0" fill="rgb(207,207,207)"/><rect x="398.5" y="716.2" width="0.8" height="0.6" fill="rgb(215,215,215)"/><rect x="314.4" y="700.0" width="1.6" height="1.3" fill="rgb(111,111,111)"/><rect x="420.7" y="703.7" width="1.3" height="1.0" fill="rgb(202,202,202)"/><rect x="378.5" y="719.9" width="1.0" height="0.8" fill="rgb(140,140,140)"/><rect x="352.9" y="725.7" width="0.8" height="0.6" fill="rgb(222,222,222)"/><rect x="345.8" y="700.3" width="1.6" height="1.3" fill="rgb(187,187,187)"/><rect x="318.6" y="728.4" width="1.6" height="1.3" fill="rgb(172,172,172)"/><rect x="417.5" y="709.7" width="1.3" height="1.0" fill="rgb(216,216,216)"/><rect x="330.4" y="709.0" width="1.0" height="0.8" fill="rgb(191,191,191)"/><rect x="341.6" y="700.5" width="1.0" height="0.8" fill="rgb(124,124,124)"/><rect x="310.0" y="726.7" width="1.3" height="1.0" fill="rgb(153,153,153)"/><rect x="318.5" y="709.8" width="1.6" height="1.3" fill="rgb(207,207,207)"/><rect x="412.7" y="713.2" width="0.8" height="0.6" fill="rgb(121,121,121)"/><rect x="356.6" y="696.6" width="0.8" height="0.6" fill="rgb(141,141,141)"/><rect x="352.9" y="714.0" width="1.3" height="1.0" fill="rgb(140,140,140)"/><rect x="375.2" y="727.0" width="1.0" height="0.8" fill="rgb(227,227,227)"/><rect x="433.5" y="716.1" width="0.8" height="0.6" fill="rgb(237,237,237)"/><rect x="365.5" y="703.7" width="1.0" height="0.8" fill="rgb(211,211,211)"/><rect x="336.3" y="696.8" width="1.3" height="1.0" fill="rgb(158,158,158)"/><rect x="330.2" y="709.8" width="1.3" height="1.0" fill="rgb(235,235,235)"/><rect x="339.0" y="702.4" width="0.8" height="0.6" fill="rgb(216,216,216)"/><rect x="334.6" y="695.8" width="1.6" height="1.3" fill="rgb(187,187,187)"/><rect x="323.6" y="727.9" width="1.0" height="0.8" fill="rgb(217,217,217)"/><rect x="309.3" y="728.9" width="1.3" height="1.0" fill="rgb(229,229,229)"/><rect x="383.4" y="728.4" width="1.0" height="0.8" fill="rgb(206,206,206)"/><rect x="307.2" y="697.9" width="1.6" height="1.3" fill="rgb(235,235,235)"/><rect x="447.1" y="720.8" width="0.8" height="0.6" fill="rgb(215,215,215)"/><rect x="352.6" y="700.9" width="1.6" height="1.3" fill="rgb(115,115,115)"/><rect x="333.4" y="702.6" width="0.8" height="0.6" fill="rgb(113,113,113)"/><rect x="352.0" y="721.7" width="1.0" height="0.8" fill="rgb(213,213,213)"/><rect x="366.9" y="721.8" width="1.3" height="1.0" fill="rgb(201,201,201)"/><rect x="329.9" y="695.2" width="1.6" height="1.3" fill="rgb(193,193,193)"/><rect x="327.3" y="710.6" width="1.0" height="0.8" fill="rgb(234,234,234)"/><rect x="371.3" y="724.3" width="1.0" height="0.8" fill="rgb(188,188,188)"/><rect x="469.5" y="716.5" width="1.0" height="0.8" fill="rgb(141,141,141)"/><rect x="362.6" y="695.1" width="1.6" height="1.3" fill="rgb(188,188,188)"/><rect x="309.5" y="713.6" width="1.6" height="1.3" fill="rgb(165,165,165)"/><rect x="332.0" y="711.1" width="1.0" height="0.8" fill="rgb(199,199,199)"/><rect x="330.7" y="714.5" width="1.3" height="1.0" fill="rgb(115,115,115)"/><rect x="325.2" y="714.1" width="1.3" height="1.0" fill="rgb(151,151,151)"/><rect x="305.8" y="712.6" width="0.8" height="0.6" fill="rgb(197,197,197)"/><rect x="365.3" y="716.3" width="1.3" height="1.0" fill="rgb(167,167,167)"/><rect x="345.0" y="700.9" width="1.0" height="0.8" fill="rgb(188,188,188)"/><rect x="317.0" y="726.8" width="1.0" height="0.8" fill="rgb(209,209,209)"/><rect x="317.9" y="716.9" width="1.6" height="1.3" fill="rgb(216,216,216)"/><rect x="313.3" y="705.4" width="1.0" height="0.8" fill="rgb(179,179,179)"/><rect x="417.3" y="717.3" width="1.0" height="0.8" fill="rgb(110,110,110)"/><rect x="441.0" y="705.1" width="1.3" height="1.0" fill="rgb(197,197,197)"/><rect x="316.1" y="709.6" width="0.8" height="0.6" fill="rgb(190,190,190)"/><rect x="380.3" y="711.6" width="1.6" height="1.3" fill="rgb(165,165,165)"/><rect x="340.3" y="725.0" width="1.6" height="1.3" fill="rgb(238,238,238)"/><rect x="327.1" y="725.2" width="1.6" height="1.3" fill="rgb(229,229,229)"/><rect x="320.8" y="708.0" width="1.6" height="1.3" fill="rgb(161,161,161)"/><rect x="352.1" y="710.2" width="0.8" height="0.6" fill="rgb(149,149,149)"/><rect x="327.2" y="719.5" width="0.8" height="0.6" fill="rgb(169,169,169)"/><rect x="417.3" y="704.6" width="1.3" height="1.0" fill="rgb(144,144,144)"/><rect x="331.7" y="710.9" width="1.0" height="0.8" fill="rgb(222,222,222)"/><rect x="387.4" y="707.4" width="1.0" height="0.8" fill="rgb(135,135,135)"/><rect x="327.2" y="718.0" width="0.8" height="0.6" fill="rgb(168,168,168)"/><rect x="352.1" y="700.0" width="1.0" height="0.8" fill="rgb(114,114,114)"/><rect x="316.7" y="726.1" width="0.8" height="0.6" fill="rgb(193,193,193)"/><rect x="343.5" y="712.0" width="1.0" height="0.8" fill="rgb(231,231,231)"/><rect x="395.1" y="706.5" width="1.0" height="0.8" fill="rgb(166,166,166)"/><rect x="407.8" y="716.4" width="1.0" height="0.8" fill="rgb(180,180,180)"/><rect x="372.6" y="726.1" width="1.0" height="0.8" fill="rgb(234,234,234)"/><rect x="339.5" y="697.6" width="1.6" height="1.3" fill="rgb(140,140,140)"/><rect x="367.1" y="710.6" width="1.0" height="0.8" fill="rgb(122,122,122)"/><rect x="343.6" y="715.8" width="1.0" height="0.8" fill="rgb(166,166,166)"/><rect x="340.0" y="704.1" width="1.0" height="0.8" fill="rgb(228,228,228)"/><rect x="308.1" y="728.9" width="0.8" height="0.6" fill="rgb(163,163,163)"/><rect x="371.2" y="711.9" width="1.6" height="1.3" fill="rgb(234,234,234)"/><rect x="325.4" y="695.2" width="1.6" height="1.3" fill="rgb(192,192,192)"/><rect x="357.8" y="706.0" width="1.0" height="0.8" fill="rgb(180,180,180)"/><rect x="381.7" y="715.6" width="1.0" height="0.8" fill="rgb(148,148,148)"/><rect x="379.4" y="703.3" width="0.8" height="0.6" fill="rgb(111,111,111)"/><rect x="308.8" y="712.0" width="1.0" height="0.8" fill="rgb(186,186,186)"/><rect x="330.9" y="697.9" width="1.6" height="1.3" fill="rgb(135,135,135)"/><rect x="397.8" y="719.8" width="0.8" height="0.6" fill="rgb(114,114,114)"/><rect x="349.2" y="709.2" width="1.0" height="0.8" fill="rgb(212,212,212)"/><rect x="332.1" y="711.0" width="0.8" height="0.6" fill="rgb(238,238,238)"/><rect x="322.1" y="733.2" width="0.8" height="0.6" fill="rgb(168,168,168)"/><rect x="417.4" y="711.1" width="1.0" height="0.8" fill="rgb(145,145,145)"/><rect x="417.9" y="700.9" width="1.0" height="0.8" fill="rgb(177,177,177)"/><rect x="392.5" y="698.4" width="1.3" height="1.0" fill="rgb(185,185,185)"/><rect x="341.3" y="697.1" width="1.0" height="0.8" fill="rgb(153,153,153)"/><rect x="406.7" y="714.6" width="1.0" height="0.8" fill="rgb(160,160,160)"/><rect x="415.0" y="703.4" width="1.3" height="1.0" fill="rgb(159,159,159)"/><rect x="368.3" y="698.5" width="0.8" height="0.6" fill="rgb(218,218,218)"/><rect x="460.9" y="701.9" width="1.0" height="0.8" fill="rgb(190,190,190)"/><rect x="315.9" y="704.2" width="1.0" height="0.8" fill="rgb(201,201,201)"/><rect x="316.9" y="733.9" width="1.6" height="1.3" fill="rgb(236,236,236)"/><rect x="314.5" y="732.2" width="1.0" height="0.8" fill="rgb(117,117,117)"/><rect x="392.6" y="717.8" width="1.0" height="0.8" fill="rgb(229,229,229)"/><rect x="407.9" y="699.6" width="1.0" height="0.8" fill="rgb(117,117,117)"/><rect x="322.1" y="727.2" width="1.3" height="1.0" fill="rgb(136,136,136)"/><rect x="467.9" y="719.3" width="1.3" height="1.0" fill="rgb(116,116,116)"/><rect x="358.3" y="724.8" width="1.6" height="1.3" fill="rgb(165,165,165)"/><rect x="332.0" y="722.6" width="1.0" height="0.8" fill="rgb(170,170,170)"/><rect x="330.3" y="712.5" width="0.8" height="0.6" fill="rgb(185,185,185)"/><rect x="345.0" y="716.0" width="0.8" height="0.6" fill="rgb(127,127,127)"/><rect x="375.3" y="721.0" width="1.0" height="0.8" fill="rgb(126,126,126)"/><rect x="337.1" y="697.5" width="1.0" height="0.8" fill="rgb(123,123,123)"/><rect x="312.2" y="693.4" width="0.8" height="0.6" fill="rgb(199,199,199)"/><rect x="432.0" y="724.4" width="1.6" height="1.3" fill="rgb(167,167,167)"/><rect x="340.0" y="721.1" width="0.8" height="0.6" fill="rgb(208,208,208)"/><rect x="387.5" y="718.3" width="1.3" height="1.0" fill="rgb(213,213,213)"/><rect x="352.8" y="714.1" width="1.0" height="0.8" fill="rgb(190,190,190)"/><rect x="370.9" y="721.3" width="1.6" height="1.3" fill="rgb(228,228,228)"/><rect x="327.2" y="726.9" width="1.0" height="0.8" fill="rgb(134,134,134)"/><rect x="344.9" y="725.9" width="0.8" height="0.6" fill="rgb(140,140,140)"/><rect x="315.9" y="729.3" width="1.0" height="0.8" fill="rgb(168,168,168)"/><rect x="321.9" y="732.7" width="1.6" height="1.3" fill="rgb(144,144,144)"/><rect x="331.0" y="730.2" width="1.6" height="1.3" fill="rgb(124,124,124)"/><rect x="316.2" y="694.2" width="1.6" height="1.3" fill="rgb(183,183,183)"/><rect x="332.7" y="727.4" width="0.8" height="0.6" fill="rgb(185,185,185)"/><rect x="366.0" y="712.7" width="1.6" height="1.3" fill="rgb(207,207,207)"/><rect x="352.2" y="711.8" width="0.8" height="0.6" fill="rgb(184,184,184)"/><rect x="318.7" y="722.1" width="1.3" height="1.0" fill="rgb(224,224,224)"/><rect x="385.7" y="704.5" width="1.6" height="1.3" fill="rgb(202,202,202)"/><rect x="407.5" y="728.0" width="1.6" height="1.3" fill="rgb(204,204,204)"/><rect x="311.2" y="704.5" width="1.6" height="1.3" fill="rgb(153,153,153)"/><rect x="362.1" y="727.6" width="1.6" height="1.3" fill="rgb(177,177,177)"/><rect x="334.8" y="715.9" width="1.6" height="1.3" fill="rgb(134,134,134)"/><rect x="321.1" y="706.6" width="0.8" height="0.6" fill="rgb(198,198,198)"/><rect x="361.7" y="707.6" width="1.6" height="1.3" fill="rgb(128,128,128)"/><rect x="324.7" y="715.5" width="1.0" height="0.8" fill="rgb(128,128,128)"/><rect x="337.9" y="720.4" width="1.0" height="0.8" fill="rgb(147,147,147)"/><rect x="403.2" y="705.4" width="1.6" height="1.3" fill="rgb(231,231,231)"/><rect x="344.1" y="707.5" width="1.3" height="1.0" fill="rgb(206,206,206)"/><rect x="381.0" y="701.2" width="1.3" height="1.0" fill="rgb(188,188,188)"/><rect x="345.1" y="709.4" width="1.0" height="0.8" fill="rgb(165,165,165)"/><rect x="350.2" y="719.7" width="0.8" height="0.6" fill="rgb(167,167,167)"/><rect x="364.0" y="724.8" width="1.3" height="1.0" fill="rgb(169,169,169)"/><rect x="345.6" y="703.8" width="1.0" height="0.8" fill="rgb(139,139,139)"/><rect x="331.1" y="709.3" width="1.3" height="1.0" fill="rgb(217,217,217)"/><rect x="444.5" y="716.5" width="1.6" height="1.3" fill="rgb(136,136,136)"/><rect x="355.1" y="697.2" width="1.0" height="0.8" fill="rgb(148,148,148)"/><rect x="354.6" y="711.1" width="1.6" height="1.3" fill="rgb(136,136,136)"/><rect x="406.5" y="714.0" width="1.6" height="1.3" fill="rgb(194,194,194)"/><rect x="309.5" y="706.1" width="1.0" height="0.8" fill="rgb(139,139,139)"/><rect x="355.2" y="704.3" width="1.0" height="0.8" fill="rgb(207,207,207)"/><rect x="371.9" y="720.2" width="0.8" height="0.6" fill="rgb(131,131,131)"/><rect x="385.9" y="710.7" width="0.8" height="0.6" fill="rgb(134,134,134)"/><rect x="381.1" y="719.1" width="1.3" height="1.0" fill="rgb(234,234,234)"/><rect x="329.0" y="695.0" width="1.6" height="1.3" fill="rgb(179,179,179)"/><rect x="323.7" y="720.0" width="1.0" height="0.8" fill="rgb(124,124,124)"/><rect x="366.9" y="707.4" width="0.8" height="0.6" fill="rgb(224,224,224)"/><rect x="353.0" y="715.7" width="1.3" height="1.0" fill="rgb(236,236,236)"/><rect x="467.3" y="707.3" width="1.3" height="1.0" fill="rgb(239,239,239)"/><rect x="375.5" y="723.9" width="1.0" height="0.8" fill="rgb(198,198,198)"/><rect x="316.8" y="710.0" width="1.3" height="1.0" fill="rgb(123,123,123)"/><rect x="337.7" y="698.1" width="1.0" height="0.8" fill="rgb(172,172,172)"/><rect x="309.4" y="735.1" width="1.3" height="1.0" fill="rgb(228,228,228)"/><rect x="413.4" y="718.6" width="1.3" height="1.0" fill="rgb(164,164,164)"/><rect x="347.7" y="724.8" width="1.6" height="1.3" fill="rgb(120,120,120)"/><rect x="447.2" y="713.8" width="1.0" height="0.8" fill="rgb(178,178,178)"/><rect x="321.3" y="701.0" width="1.3" height="1.0" fill="rgb(174,174,174)"/><rect x="335.0" y="716.0" width="1.3" height="1.0" fill="rgb(134,134,134)"/><rect x="318.0" y="694.3" width="1.6" height="1.3" fill="rgb(126,126,126)"/><rect x="346.7" y="703.1" width="1.3" height="1.0" fill="rgb(147,147,147)"/><rect x="328.6" y="698.2" width="0.8" height="0.6" fill="rgb(216,216,216)"/><rect x="331.4" y="721.5" width="1.0" height="0.8" fill="rgb(139,139,139)"/><rect x="340.6" y="727.9" width="1.3" height="1.0" fill="rgb(162,162,162)"/><rect x="439.3" y="705.3" width="1.6" height="1.3" fill="rgb(236,236,236)"/><rect x="317.7" y="694.8" width="1.6" height="1.3" fill="rgb(235,235,235)"/><rect x="367.0" y="713.4" width="1.3" height="1.0" fill="rgb(147,147,147)"/><rect x="308.7" y="707.8" width="0.8" height="0.6" fill="rgb(138,138,138)"/><rect x="322.6" y="698.7" width="1.3" height="1.0" fill="rgb(203,203,203)"/><rect x="392.7" y="718.3" width="1.6" height="1.3" fill="rgb(186,186,186)"/><rect x="319.4" y="698.2" width="1.6" height="1.3" fill="rgb(235,235,235)"/><rect x="373.5" y="722.8" width="1.6" height="1.3" fill="rgb(180,180,180)"/><rect x="408.8" y="725.6" width="1.3" height="1.0" fill="rgb(196,196,196)"/><rect x="476.7" y="715.5" width="1.0" height="0.8" fill="rgb(114,114,114)"/><rect x="404.2" y="700.2" width="1.6" height="1.3" fill="rgb(210,210,210)"/><rect x="338.9" y="713.5" width="0.8" height="0.6" fill="rgb(195,195,195)"/><rect x="331.7" y="715.6" width="1.0" height="0.8" fill="rgb(124,124,124)"/><rect x="308.4" y="701.5" width="1.0" height="0.8" fill="rgb(142,142,142)"/><rect x="318.2" y="733.5" width="1.0" height="0.8" fill="rgb(149,149,149)"/><rect x="317.8" y="727.0" width="1.0" height="0.8" fill="rgb(200,200,200)"/><rect x="351.6" y="726.9" width="1.0" height="0.8" fill="rgb(155,155,155)"/><rect x="375.9" y="712.1" width="0.8" height="0.6" fill="rgb(192,192,192)"/><rect x="302.5" y="720.9" width="1.6" height="1.3" fill="rgb(160,160,160)"/><rect x="325.5" y="710.9" width="1.0" height="0.8" fill="rgb(213,213,213)"/><rect x="320.3" y="702.1" width="1.6" height="1.3" fill="rgb(183,183,183)"/><rect x="440.0" y="710.2" width="1.0" height="0.8" fill="rgb(230,230,230)"/><rect x="303.0" y="725.4" width="1.6" height="1.3" fill="rgb(228,228,228)"/><rect x="403.9" y="703.2" width="0.8" height="0.6" fill="rgb(221,221,221)"/><rect x="318.7" y="706.9" width="1.0" height="0.8" fill="rgb(227,227,227)"/><rect x="375.9" y="709.2" width="1.6" height="1.3" fill="rgb(223,223,223)"/><rect x="430.8" y="700.7" width="1.3" height="1.0" fill="rgb(171,171,171)"/><rect x="418.1" y="718.5" width="1.6" height="1.3" fill="rgb(201,201,201)"/><rect x="313.4" y="693.7" width="1.0" height="0.8" fill="rgb(198,198,198)"/><rect x="396.6" y="720.1" width="1.0" height="0.8" fill="rgb(208,208,208)"/><rect x="418.5" y="700.3" width="1.3" height="1.0" fill="rgb(180,180,180)"/><rect x="381.8" y="698.4" width="1.0" height="0.8" fill="rgb(152,152,152)"/><rect x="347.3" y="718.7" width="1.0" height="0.8" fill="rgb(182,182,182)"/><rect x="332.5" y="718.8" width="1.6" height="1.3" fill="rgb(149,149,149)"/><rect x="385.1" y="706.2" width="1.3" height="1.0" fill="rgb(111,111,111)"/><rect x="334.4" y="706.7" width="1.0" height="0.8" fill="rgb(169,169,169)"/><rect x="355.5" y="711.1" width="1.0" height="0.8" fill="rgb(145,145,145)"/><rect x="305.8" y="732.3" width="1.0" height="0.8" fill="rgb(196,196,196)"/><rect x="344.1" y="710.8" width="0.8" height="0.6" fill="rgb(205,205,205)"/><rect x="318.5" y="711.3" width="0.8" height="0.6" fill="rgb(179,179,179)"/><rect x="454.4" y="718.1" width="1.6" height="1.3" fill="rgb(235,235,235)"/><rect x="336.1" y="726.7" width="1.6" height="1.3" fill="rgb(192,192,192)"/><rect x="331.9" y="695.0" width="1.3" height="1.0" fill="rgb(160,160,160)"/><rect x="351.6" y="704.4" width="1.0" height="0.8" fill="rgb(209,209,209)"/><rect x="313.4" y="694.5" width="1.0" height="0.8" fill="rgb(235,235,235)"/><rect x="307.0" y="705.1" width="1.0" height="0.8" fill="rgb(171,171,171)"/><rect x="313.3" y="716.6" width="1.6" height="1.3" fill="rgb(135,135,135)"/><rect x="329.2" y="721.7" width="0.8" height="0.6" fill="rgb(166,166,166)"/><rect x="346.1" y="716.9" width="1.0" height="0.8" fill="rgb(197,197,197)"/><rect x="317.9" y="727.1" width="0.8" height="0.6" fill="rgb(162,162,162)"/><rect x="356.7" y="702.2" width="1.0" height="0.8" fill="rgb(223,223,223)"/><rect x="325.3" y="730.6" width="1.3" height="1.0" fill="rgb(111,111,111)"/><rect x="342.8" y="711.1" width="1.3" height="1.0" fill="rgb(142,142,142)"/><rect x="452.5" y="715.1" width="1.6" height="1.3" fill="rgb(225,225,225)"/><rect x="385.7" y="712.2" width="1.0" height="0.8" fill="rgb(147,147,147)"/><rect x="350.5" y="699.4" width="1.6" height="1.3" fill="rgb(140,140,140)"/><rect x="341.0" y="725.4" width="1.3" height="1.0" fill="rgb(184,184,184)"/><rect x="323.7" y="713.2" width="0.8" height="0.6" fill="rgb(123,123,123)"/><rect x="313.2" y="725.4" width="1.0" height="0.8" fill="rgb(211,211,211)"/><rect x="318.0" y="694.4" width="1.0" height="0.8" fill="rgb(180,180,180)"/><rect x="314.0" y="714.3" width="1.0" height="0.8" fill="rgb(155,155,155)"/><rect x="394.1" y="718.8" width="0.8" height="0.6" fill="rgb(142,142,142)"/><rect x="341.9" y="722.1" width="1.0" height="0.8" fill="rgb(170,170,170)"/><rect x="316.5" y="713.3" width="1.6" height="1.3" fill="rgb(174,174,174)"/><rect x="391.5" y="719.2" width="1.0" height="0.8" fill="rgb(218,218,218)"/><rect x="331.9" y="722.2" width="1.0" height="0.8" fill="rgb(121,121,121)"/><rect x="349.0" y="714.1" width="1.6" height="1.3" fill="rgb(187,187,187)"/><rect x="326.1" y="732.8" width="1.6" height="1.3" fill="rgb(188,188,188)"/><rect x="363.4" y="723.3" width="1.3" height="1.0" fill="rgb(130,130,130)"/><rect x="365.8" y="704.1" width="1.0" height="0.8" fill="rgb(139,139,139)"/><rect x="304.8" y="693.0" width="1.0" height="0.8" fill="rgb(147,147,147)"/><rect x="345.2" y="724.6" width="1.6" height="1.3" fill="rgb(146,146,146)"/><rect x="367.4" y="715.2" width="1.6" height="1.3" fill="rgb(186,186,186)"/><rect x="415.3" y="709.7" width="0.8" height="0.6" fill="rgb(198,198,198)"/><rect x="318.4" y="701.1" width="1.6" height="1.3" fill="rgb(171,171,171)"/><rect x="426.0" y="702.4" width="1.0" height="0.8" fill="rgb(199,199,199)"/><rect x="340.1" y="728.3" width="1.3" height="1.0" fill="rgb(147,147,147)"/><rect x="357.8" y="726.4" width="1.3" height="1.0" fill="rgb(165,165,165)"/><rect x="308.1" y="733.3" width="1.0" height="0.8" fill="rgb(224,224,224)"/><rect x="330.4" y="713.2" width="1.0" height="0.8" fill="rgb(164,164,164)"/><rect x="340.4" y="696.9" width="1.0" height="0.8" fill="rgb(156,156,156)"/><rect x="418.4" y="712.2" width="1.0" height="0.8" fill="rgb(168,168,168)"/><rect x="341.7" y="696.9" width="1.0" height="0.8" fill="rgb(202,202,202)"/><rect x="351.2" y="708.1" width="1.0" height="0.8" fill="rgb(211,211,211)"/><rect x="305.3" y="730.0" width="1.3" height="1.0" fill="rgb(138,138,138)"/><rect x="366.5" y="723.1" width="0.8" height="0.6" fill="rgb(184,184,184)"/><rect x="430.7" y="709.0" width="1.3" height="1.0" fill="rgb(236,236,236)"/><rect x="319.2" y="728.3" width="0.8" height="0.6" fill="rgb(212,212,212)"/><rect x="374.3" y="709.2" width="1.0" height="0.8" fill="rgb(176,176,176)"/><rect x="491.8" y="692.9" width="1.6" height="1.3" fill="rgb(225,225,225)"/><rect x="359.0" y="697.0" width="1.0" height="0.8" fill="rgb(145,145,145)"/><rect x="310.1" y="731.1" width="0.8" height="0.6" fill="rgb(235,235,235)"/><rect x="371.2" y="697.2" width="0.8" height="0.6" fill="rgb(120,120,120)"/><rect x="322.5" y="721.0" width="1.0" height="0.8" fill="rgb(187,187,187)"/><rect x="303.4" y="712.0" width="1.0" height="0.8" fill="rgb(129,129,129)"/><rect x="344.5" y="717.7" width="1.0" height="0.8" fill="rgb(225,225,225)"/><rect x="374.0" y="725.7" width="1.3" height="1.0" fill="rgb(166,166,166)"/><rect x="414.6" y="712.3" width="0.8" height="0.6" fill="rgb(196,196,196)"/><rect x="415.1" y="704.9" width="0.8" height="0.6" fill="rgb(126,126,126)"/><rect x="345.0" y="704.2" width="1.0" height="0.8" fill="rgb(178,178,178)"/><rect x="351.6" y="698.1" width="1.0" height="0.8" fill="rgb(157,157,157)"/><rect x="370.7" y="710.4" width="1.0" height="0.8" fill="rgb(150,150,150)"/><rect x="326.3" y="706.6" width="1.3" height="1.0" fill="rgb(146,146,146)"/><rect x="314.6" y="730.2" width="1.0" height="0.8" fill="rgb(239,239,239)"/><rect x="351.7" y="699.9" width="0.8" height="0.6" fill="rgb(179,179,179)"/><rect x="391.7" y="715.6" width="1.0" height="0.8" fill="rgb(212,212,212)"/><rect x="408.7" y="714.5" width="1.0" height="0.8" fill="rgb(175,175,175)"/><rect x="345.7" y="717.9" width="1.3" height="1.0" fill="rgb(110,110,110)"/><rect x="329.4" y="724.0" width="1.0" height="0.8" fill="rgb(186,186,186)"/><rect x="468.7" y="719.4" width="1.0" height="0.8" fill="rgb(135,135,135)"/><rect x="375.8" y="705.1" width="1.0" height="0.8" fill="rgb(220,220,220)"/><rect x="310.7" y="697.2" width="1.0" height="0.8" fill="rgb(206,206,206)"/><rect x="366.7" y="707.7" width="1.6" height="1.3" fill="rgb(158,158,158)"/><rect x="378.8" y="720.1" width="1.3" height="1.0" fill="rgb(173,173,173)"/><rect x="326.2" y="722.9" width="1.3" height="1.0" fill="rgb(235,235,235)"/><rect x="353.8" y="713.0" width="1.6" height="1.3" fill="rgb(128,128,128)"/><rect x="322.8" y="715.8" width="0.8" height="0.6" fill="rgb(224,224,224)"/><rect x="326.6" y="722.6" width="1.0" height="0.8" fill="rgb(239,239,239)"/><rect x="308.2" y="695.2" width="1.0" height="0.8" fill="rgb(189,189,189)"/><rect x="378.2" y="699.3" width="1.0" height="0.8" fill="rgb(157,157,157)"/><rect x="322.5" y="708.0" width="1.3" height="1.0" fill="rgb(164,164,164)"/><rect x="321.4" y="724.0" width="1.0" height="0.8" fill="rgb(220,220,220)"/><rect x="354.7" y="716.6" width="1.6" height="1.3" fill="rgb(168,168,168)"/><rect x="318.1" y="728.9" width="0.8" height="0.6" fill="rgb(218,218,218)"/><rect x="306.6" y="728.3" width="1.6" height="1.3" fill="rgb(190,190,190)"/><rect x="314.1" y="697.5" width="1.0" height="0.8" fill="rgb(180,180,180)"/><rect x="482.5" y="708.0" width="0.8" height="0.6" fill="rgb(227,227,227)"/><rect x="370.4" y="710.2" width="1.6" height="1.3" fill="rgb(137,137,137)"/><rect x="333.7" y="698.0" width="1.0" height="0.8" fill="rgb(226,226,226)"/><rect x="357.8" y="715.7" width="0.8" height="0.6" fill="rgb(145,145,145)"/><rect x="309.9" y="699.7" width="1.6" height="1.3" fill="rgb(159,159,159)"/><rect x="317.7" y="715.6" width="1.3" height="1.0" fill="rgb(234,234,234)"/><rect x="320.0" y="729.3" width="1.3" height="1.0" fill="rgb(200,200,200)"/><rect x="330.1" y="702.6" width="1.3" height="1.0" fill="rgb(174,174,174)"/><rect x="319.5" y="696.9" width="1.0" height="0.8" fill="rgb(116,116,116)"/><rect x="361.0" y="700.0" width="1.0" height="0.8" fill="rgb(221,221,221)"/><rect x="381.7" y="697.5" width="1.0" height="0.8" fill="rgb(187,187,187)"/><rect x="377.6" y="717.6" width="0.8" height="0.6" fill="rgb(173,173,173)"/><rect x="344.7" y="728.4" width="1.0" height="0.8" fill="rgb(193,193,193)"/><rect x="362.6" y="715.2" width="1.3" height="1.0" fill="rgb(211,211,211)"/><rect x="383.0" y="723.3" width="1.0" height="0.8" fill="rgb(149,149,149)"/><rect x="365.2" y="706.9" width="1.6" height="1.3" fill="rgb(145,145,145)"/><rect x="310.2" y="717.9" width="1.0" height="0.8" fill="rgb(136,136,136)"/><rect x="316.0" y="729.4" width="0.8" height="0.6" fill="rgb(168,168,168)"/><rect x="362.8" y="705.5" width="1.0" height="0.8" fill="rgb(168,168,168)"/><rect x="335.4" y="701.9" width="1.3" height="1.0" fill="rgb(211,211,211)"/><rect x="328.2" y="723.2" width="1.0" height="0.8" fill="rgb(194,194,194)"/><rect x="422.8" y="723.5" width="1.0" height="0.8" fill="rgb(115,115,115)"/><rect x="375.0" y="708.7" width="1.0" height="0.8" fill="rgb(176,176,176)"/><rect x="447.9" y="722.2" width="1.0" height="0.8" fill="rgb(142,142,142)"/><rect x="333.8" y="730.9" width="1.0" height="0.8" fill="rgb(155,155,155)"/><rect x="362.2" y="714.3" width="1.0" height="0.8" fill="rgb(236,236,236)"/><rect x="342.5" y="701.0" width="1.0" height="0.8" fill="rgb(174,174,174)"/><rect x="376.2" y="719.8" width="1.0" height="0.8" fill="rgb(213,213,213)"/><rect x="321.1" y="704.3" width="1.0" height="0.8" fill="rgb(166,166,166)"/><rect x="315.3" y="709.6" width="1.6" height="1.3" fill="rgb(184,184,184)"/><rect x="305.2" y="722.5" width="0.8" height="0.6" fill="rgb(140,140,140)"/><rect x="311.4" y="708.3" width="1.0" height="0.8" fill="rgb(214,214,214)"/><rect x="344.4" y="707.6" width="1.3" height="1.0" fill="rgb(185,185,185)"/><rect x="415.1" y="699.7" width="1.3" height="1.0" fill="rgb(198,198,198)"/><rect x="336.5" y="699.6" width="1.3" height="1.0" fill="rgb(229,229,229)"/><rect x="382.8" y="700.7" width="1.0" height="0.8" fill="rgb(143,143,143)"/><rect x="335.8" y="715.0" width="0.8" height="0.6" fill="rgb(193,193,193)"/><rect x="398.5" y="696.9" width="1.0" height="0.8" fill="rgb(165,165,165)"/><rect x="407.4" y="704.9" width="1.6" height="1.3" fill="rgb(183,183,183)"/><rect x="353.8" y="712.3" width="1.3" height="1.0" fill="rgb(112,112,112)"/><rect x="443.6" y="709.5" width="1.0" height="0.8" fill="rgb(132,132,132)"/><rect x="380.3" y="719.4" width="0.8" height="0.6" fill="rgb(217,217,217)"/><rect x="306.8" y="728.8" width="1.0" height="0.8" fill="rgb(179,179,179)"/><rect x="321.8" y="723.5" width="1.0" height="0.8" fill="rgb(144,144,144)"/><rect x="339.1" y="714.7" width="1.3" height="1.0" fill="rgb(146,146,146)"/><rect x="348.2" y="694.5" width="1.0" height="0.8" fill="rgb(114,114,114)"/><rect x="303.3" y="724.8" width="1.0" height="0.8" fill="rgb(179,179,179)"/><rect x="310.7" y="718.2" width="1.3" height="1.0" fill="rgb(222,222,222)"/><rect x="398.2" y="704.4" width="1.6" height="1.3" fill="rgb(182,182,182)"/><rect x="355.6" y="701.3" width="0.8" height="0.6" fill="rgb(167,167,167)"/><rect x="399.4" y="721.8" width="1.0" height="0.8" fill="rgb(222,222,222)"/><rect x="353.0" y="718.9" width="0.8" height="0.6" fill="rgb(179,179,179)"/><rect x="370.8" y="700.3" width="1.3" height="1.0" fill="rgb(218,218,218)"/><rect x="373.4" y="696.4" width="0.8" height="0.6" fill="rgb(230,230,230)"/><rect x="349.1" y="703.9" width="1.3" height="1.0" fill="rgb(190,190,190)"/><rect x="398.0" y="707.6" width="1.6" height="1.3" fill="rgb(118,118,118)"/><rect x="311.0" y="706.9" width="1.6" height="1.3" fill="rgb(156,156,156)"/><rect x="306.1" y="705.4" width="1.0" height="0.8" fill="rgb(115,115,115)"/><rect x="355.2" y="705.9" width="1.0" height="0.8" fill="rgb(122,122,122)"/><rect x="346.3" y="727.7" width="1.0" height="0.8" fill="rgb(125,125,125)"/><rect x="465.4" y="698.5" width="1.6" height="1.3" fill="rgb(228,228,228)"/><rect x="312.8" y="733.5" width="0.8" height="0.6" fill="rgb(238,238,238)"/><rect x="360.5" y="695.2" width="1.0" height="0.8" fill="rgb(176,176,176)"/><rect x="330.8" y="701.3" width="1.0" height="0.8" fill="rgb(132,132,132)"/><rect x="327.5" y="699.1" width="1.0" height="0.8" fill="rgb(221,221,221)"/><rect x="324.2" y="694.9" width="1.0" height="0.8" fill="rgb(207,207,207)"/><rect x="348.7" y="728.5" width="0.8" height="0.6" fill="rgb(185,185,185)"/><rect x="347.5" y="725.4" width="1.3" height="1.0" fill="rgb(199,199,199)"/><rect x="340.0" y="723.9" width="1.0" height="0.8" fill="rgb(140,140,140)"/><rect x="320.7" y="728.5" width="1.6" height="1.3" fill="rgb(147,147,147)"/><rect x="351.4" y="710.6" width="1.0" height="0.8" fill="rgb(134,134,134)"/><rect x="325.3" y="726.4" width="1.3" height="1.0" fill="rgb(193,193,193)"/><rect x="429.3" y="722.9" width="1.0" height="0.8" fill="rgb(200,200,200)"/><rect x="336.0" y="707.5" width="0.8" height="0.6" fill="rgb(206,206,206)"/><rect x="309.0" y="721.5" width="1.0" height="0.8" fill="rgb(110,110,110)"/><rect x="427.6" y="706.1" width="1.0" height="0.8" fill="rgb(145,145,145)"/><rect x="331.2" y="728.6" width="1.6" height="1.3" fill="rgb(149,149,149)"/><rect x="367.3" y="719.6" width="0.8" height="0.6" fill="rgb(201,201,201)"/><rect x="314.9" y="695.0" width="1.3" height="1.0" fill="rgb(125,125,125)"/><rect x="307.9" y="721.0" width="0.8" height="0.6" fill="rgb(212,212,212)"/><rect x="304.5" y="710.9" width="1.6" height="1.3" fill="rgb(119,119,119)"/><rect x="380.7" y="715.4" width="1.0" height="0.8" fill="rgb(178,178,178)"/><rect x="381.0" y="708.1" width="1.6" height="1.3" fill="rgb(150,150,150)"/><rect x="375.2" y="696.3" width="1.0" height="0.8" fill="rgb(164,164,164)"/><rect x="343.3" y="699.3" width="0.8" height="0.6" fill="rgb(218,218,218)"/><rect x="356.1" y="696.0" width="1.6" height="1.3" fill="rgb(165,165,165)"/><rect x="366.9" y="722.5" width="1.3" height="1.0" fill="rgb(232,232,232)"/><rect x="460.2" y="719.5" width="1.3" height="1.0" fill="rgb(188,188,188)"/><rect x="362.9" y="700.9" width="1.0" height="0.8" fill="rgb(173,173,173)"/><rect x="381.0" y="718.8" width="1.0" height="0.8" fill="rgb(172,172,172)"/><rect x="377.7" y="722.1" width="1.6" height="1.3" fill="rgb(201,201,201)"/><rect x="416.5" y="719.6" width="1.3" height="1.0" fill="rgb(145,145,145)"/><rect x="376.4" y="699.6" width="1.0" height="0.8" fill="rgb(224,224,224)"/><rect x="313.6" y="733.9" width="1.6" height="1.3" fill="rgb(191,191,191)"/><rect x="382.6" y="706.7" width="1.0" height="0.8" fill="rgb(226,226,226)"/><rect x="321.4" y="695.4" width="1.0" height="0.8" fill="rgb(122,122,122)"/><rect x="351.4" y="708.0" width="1.0" height="0.8" fill="rgb(174,174,174)"/><rect x="318.0" y="714.3" width="1.0" height="0.8" fill="rgb(218,218,218)"/><rect x="357.2" y="714.9" width="1.0" height="0.8" fill="rgb(196,196,196)"/><rect x="306.0" y="716.2" width="1.3" height="1.0" fill="rgb(155,155,155)"/><rect x="307.4" y="710.6" width="1.6" height="1.3" fill="rgb(180,180,180)"/><rect x="427.7" y="710.2" width="1.6" height="1.3" fill="rgb(154,154,154)"/><rect x="450.7" y="710.4" width="0.8" height="0.6" fill="rgb(208,208,208)"/><rect x="325.1" y="722.5" width="1.0" height="0.8" fill="rgb(211,211,211)"/><rect x="309.3" y="695.3" width="1.0" height="0.8" fill="rgb(116,116,116)"/><rect x="305.5" y="730.2" width="1.6" height="1.3" fill="rgb(113,113,113)"/><rect x="439.0" y="713.7" width="1.3" height="1.0" fill="rgb(130,130,130)"/><rect x="322.8" y="711.3" width="1.6" height="1.3" fill="rgb(155,155,155)"/><rect x="352.2" y="700.5" width="1.0" height="0.8" fill="rgb(112,112,112)"/><rect x="370.7" y="710.4" width="1.0" height="0.8" fill="rgb(161,161,161)"/><rect x="321.3" y="720.3" width="0.8" height="0.6" fill="rgb(157,157,157)"/><rect x="331.8" y="698.7" width="1.0" height="0.8" fill="rgb(121,121,121)"/><rect x="320.5" y="702.0" width="1.3" height="1.0" fill="rgb(159,159,159)"/><rect x="321.1" y="717.6" width="1.0" height="0.8" fill="rgb(152,152,152)"/><rect x="374.5" y="696.3" width="1.0" height="0.8" fill="rgb(112,112,112)"/><rect x="328.7" y="718.2" width="1.6" height="1.3" fill="rgb(184,184,184)"/><rect x="331.4" y="729.7" width="1.3" height="1.0" fill="rgb(158,158,158)"/><rect x="351.1" y="713.8" width="1.0" height="0.8" fill="rgb(114,114,114)"/><rect x="327.5" y="727.1" width="1.3" height="1.0" fill="rgb(120,120,120)"/><rect x="371.6" y="728.4" width="1.0" height="0.8" fill="rgb(156,156,156)"/><rect x="380.0" y="709.2" width="0.8" height="0.6" fill="rgb(146,146,146)"/><rect x="306.6" y="728.7" width="0.8" height="0.6" fill="rgb(145,145,145)"/><rect x="307.1" y="695.6" width="1.6" height="1.3" fill="rgb(168,168,168)"/><rect x="306.5" y="706.1" width="1.0" height="0.8" fill="rgb(153,153,153)"/><rect x="327.0" y="729.5" width="1.3" height="1.0" fill="rgb(142,142,142)"/><rect x="355.4" y="718.9" width="1.0" height="0.8" fill="rgb(164,164,164)"/><rect x="384.4" y="719.3" width="1.6" height="1.3" fill="rgb(188,188,188)"/><rect x="334.5" y="696.1" width="0.8" height="0.6" fill="rgb(139,139,139)"/><rect x="463.5" y="701.6" width="1.6" height="1.3" fill="rgb(206,206,206)"/><rect x="317.6" y="728.2" width="0.8" height="0.6" fill="rgb(193,193,193)"/><rect x="356.9" y="712.4" width="1.0" height="0.8" fill="rgb(135,135,135)"/><rect x="336.8" y="715.0" width="0.8" height="0.6" fill="rgb(164,164,164)"/><rect x="326.4" y="699.4" width="1.6" height="1.3" fill="rgb(159,159,159)"/><rect x="353.1" y="698.6" width="0.8" height="0.6" fill="rgb(155,155,155)"/><rect x="316.3" y="717.7" width="0.8" height="0.6" fill="rgb(155,155,155)"/><rect x="350.1" y="699.3" width="1.0" height="0.8" fill="rgb(176,176,176)"/><rect x="309.1" y="727.5" width="1.0" height="0.8" fill="rgb(159,159,159)"/><rect x="314.5" y="726.2" width="1.3" height="1.0" fill="rgb(204,204,204)"/><rect x="340.7" y="701.4" width="1.6" height="1.3" fill="rgb(229,229,229)"/><rect x="385.2" y="699.4" width="1.0" height="0.8" fill="rgb(158,158,158)"/><rect x="326.1" y="726.1" width="0.8" height="0.6" fill="rgb(126,126,126)"/><rect x="350.0" y="714.7" width="1.3" height="1.0" fill="rgb(156,156,156)"/><rect x="383.5" y="722.6" width="1.0" height="0.8" fill="rgb(160,160,160)"/><rect x="393.4" y="707.8" width="0.8" height="0.6" fill="rgb(153,153,153)"/><rect x="336.2" y="724.0" width="1.0" height="0.8" fill="rgb(195,195,195)"/><rect x="348.9" y="708.6" width="1.0" height="0.8" fill="rgb(229,229,229)"/><rect x="305.0" y="731.5" width="1.0" height="0.8" fill="rgb(141,141,141)"/><rect x="318.9" y="727.3" width="1.0" height="0.8" fill="rgb(157,157,157)"/><rect x="321.5" y="693.7" width="1.6" height="1.3" fill="rgb(213,213,213)"/><rect x="312.3" y="705.7" width="0.8" height="0.6" fill="rgb(171,171,171)"/><rect x="315.5" y="729.8" width="1.3" height="1.0" fill="rgb(213,213,213)"/><rect x="315.5" y="711.1" width="1.0" height="0.8" fill="rgb(206,206,206)"/><rect x="360.1" y="711.3" width="1.6" height="1.3" fill="rgb(159,159,159)"/><rect x="346.3" y="700.9" width="0.8" height="0.6" fill="rgb(132,132,132)"/><rect x="319.3" y="724.2" width="1.3" height="1.0" fill="rgb(142,142,142)"/><rect x="344.8" y="719.3" width="1.3" height="1.0" fill="rgb(118,118,118)"/><rect x="369.5" y="721.9" width="1.3" height="1.0" fill="rgb(172,172,172)"/><rect x="304.6" y="721.0" width="0.8" height="0.6" fill="rgb(141,141,141)"/><rect x="380.1" y="700.5" width="1.0" height="0.8" fill="rgb(186,186,186)"/><rect x="372.4" y="710.4" width="1.0" height="0.8" fill="rgb(162,162,162)"/><rect x="372.7" y="706.1" width="1.0" height="0.8" fill="rgb(190,190,190)"/><rect x="317.6" y="698.6" width="1.0" height="0.8" fill="rgb(154,154,154)"/><rect x="321.8" y="706.2" width="1.6" height="1.3" fill="rgb(173,173,173)"/><rect x="308.3" y="724.7" width="1.0" height="0.8" fill="rgb(138,138,138)"/><rect x="325.6" y="721.6" width="1.6" height="1.3" fill="rgb(176,176,176)"/><rect x="373.2" y="728.6" width="1.3" height="1.0" fill="rgb(213,213,213)"/><rect x="364.6" y="715.2" width="1.0" height="0.8" fill="rgb(116,116,116)"/><rect x="438.5" y="701.9" width="1.3" height="1.0" fill="rgb(168,168,168)"/><rect x="326.3" y="713.3" width="1.3" height="1.0" fill="rgb(220,220,220)"/><rect x="380.2" y="713.2" width="1.0" height="0.8" fill="rgb(233,233,233)"/><rect x="344.8" y="717.9" width="1.6" height="1.3" fill="rgb(139,139,139)"/><rect x="325.1" y="707.1" width="1.6" height="1.3" fill="rgb(234,234,234)"/><rect x="302.4" y="691.7" width="3.9" height="1.1" fill="rgb(190,190,190)" opacity="0.75"/><rect x="307.0" y="691.9" width="3.8" height="1.1" fill="rgb(181,181,181)" opacity="0.75"/><rect x="312.1" y="692.2" width="2.5" height="1.1" fill="rgb(211,211,211)" opacity="0.75"/><rect x="314.7" y="692.3" width="4.9" height="1.1" fill="rgb(224,224,224)" opacity="0.75"/><rect x="321.1" y="692.7" width="4.0" height="1.1" fill="rgb(152,152,152)" opacity="0.75"/><rect x="325.7" y="692.9" width="3.5" height="1.1" fill="rgb(178,178,178)" opacity="0.75"/><rect x="331.1" y="693.1" width="3.5" height="1.1" fill="rgb(244,244,244)" opacity="0.75"/><rect x="335.8" y="693.3" width="4.9" height="1.1" fill="rgb(181,181,181)" opacity="0.75"/><rect x="340.8" y="693.5" width="3.8" height="1.1" fill="rgb(195,195,195)" opacity="0.75"/><rect x="344.7" y="693.7" width="4.5" height="1.1" fill="rgb(229,229,229)" opacity="0.75"/><rect x="350.2" y="693.9" width="2.1" height="1.1" fill="rgb(217,217,217)" opacity="0.75"/><rect x="354.4" y="694.0" width="3.5" height="1.1" fill="rgb(191,191,191)" opacity="0.75"/><rect x="359.8" y="694.2" width="4.7" height="1.1" fill="rgb(159,159,159)" opacity="0.75"/><rect x="365.5" y="694.4" width="3.3" height="1.1" fill="rgb(196,196,196)" opacity="0.75"/><rect x="369.6" y="694.5" width="1.7" height="1.1" fill="rgb(245,245,245)" opacity="0.75"/><rect x="371.5" y="694.6" width="4.2" height="1.1" fill="rgb(218,218,218)" opacity="0.75"/><rect x="375.9" y="694.7" width="3.1" height="1.1" fill="rgb(214,214,214)" opacity="0.75"/><rect x="379.2" y="694.8" width="3.8" height="1.1" fill="rgb(175,175,175)" opacity="0.75"/><rect x="383.1" y="695.0" width="4.8" height="1.1" fill="rgb(184,184,184)" opacity="0.75"/><rect x="393.8" y="695.7" width="1.6" height="1.1" fill="rgb(193,193,193)" opacity="0.75"/><rect x="400.0" y="696.2" width="3.5" height="1.1" fill="rgb(191,191,191)" opacity="0.75"/><rect x="405.6" y="696.6" width="3.8" height="1.1" fill="rgb(185,185,185)" opacity="0.75"/><rect x="423.4" y="697.8" width="1.6" height="1.1" fill="rgb(171,171,171)" opacity="0.75"/><rect x="426.3" y="698.0" width="2.6" height="1.1" fill="rgb(233,233,233)" opacity="0.75"/><rect x="430.6" y="698.3" width="2.4" height="1.1" fill="rgb(214,214,214)" opacity="0.75"/><rect x="439.9" y="698.4" width="4.7" height="1.1" fill="rgb(218,218,218)" opacity="0.75"/><rect x="445.1" y="697.9" width="4.6" height="1.1" fill="rgb(245,245,245)" opacity="0.75"/><rect x="459.7" y="696.4" width="4.5" height="1.1" fill="rgb(170,170,170)" opacity="0.75"/><rect x="465.9" y="695.6" width="2.8" height="1.1" fill="rgb(163,163,163)" opacity="0.75"/><rect x="471.0" y="694.1" width="2.0" height="1.1" fill="rgb(225,225,225)" opacity="0.75"/><rect x="484.7" y="689.8" width="3.7" height="1.1" fill="rgb(169,169,169)" opacity="0.75"/><rect x="302.4" y="735.1" width="3.1" height="1.1" fill="rgb(192,192,192)" opacity="0.9"/><rect x="305.9" y="734.9" width="3.1" height="1.1" fill="rgb(162,162,162)" opacity="0.9"/><rect x="309.9" y="734.7" width="3.0" height="1.1" fill="rgb(171,171,171)" opacity="0.9"/><rect x="314.5" y="734.5" width="2.3" height="1.1" fill="rgb(249,249,249)" opacity="0.9"/><rect x="318.6" y="734.3" width="4.6" height="1.1" fill="rgb(180,180,180)" opacity="0.9"/><rect x="324.6" y="734.0" width="4.2" height="1.1" fill="rgb(234,234,234)" opacity="0.9"/><rect x="330.2" y="733.6" width="4.9" height="1.1" fill="rgb(151,151,151)" opacity="0.9"/><rect x="336.1" y="731.6" width="4.2" height="1.1" fill="rgb(205,205,205)" opacity="0.9"/><rect x="341.6" y="729.6" width="3.3" height="1.1" fill="rgb(170,170,170)" opacity="0.9"/><rect x="347.1" y="729.2" width="3.7" height="1.1" fill="rgb(161,161,161)" opacity="0.9"/><rect x="352.9" y="728.8" width="1.8" height="1.1" fill="rgb(219,219,219)" opacity="0.9"/><rect x="355.5" y="728.6" width="2.5" height="1.1" fill="rgb(180,180,180)" opacity="0.9"/><rect x="365.8" y="728.1" width="1.7" height="1.1" fill="rgb(191,191,191)" opacity="0.9"/><rect x="373.7" y="728.3" width="1.7" height="1.1" fill="rgb(239,239,239)" opacity="0.9"/><rect x="379.6" y="728.4" width="3.1" height="1.1" fill="rgb(185,185,185)" opacity="0.9"/><rect x="383.0" y="728.5" width="2.2" height="1.1" fill="rgb(165,165,165)" opacity="0.9"/><rect x="397.6" y="728.6" width="4.7" height="1.1" fill="rgb(173,173,173)" opacity="0.9"/><rect x="411.7" y="727.4" width="2.3" height="1.1" fill="rgb(157,157,157)" opacity="0.9"/><rect x="415.5" y="727.1" width="4.8" height="1.1" fill="rgb(200,200,200)" opacity="0.9"/><rect x="448.9" y="724.1" width="2.6" height="1.1" fill="rgb(239,239,239)" opacity="0.9"/><rect x="451.6" y="723.8" width="3.5" height="1.1" fill="rgb(225,225,225)" opacity="0.9"/><rect x="470.0" y="721.8" width="2.4" height="1.1" fill="rgb(173,173,173)" opacity="0.9"/><rect x="472.7" y="721.4" width="2.9" height="1.1" fill="rgb(247,247,247)" opacity="0.9"/><rect x="476.9" y="720.8" width="4.1" height="1.1" fill="rgb(165,165,165)" opacity="0.9"/>
<path d="M300.0 692.0 L314.0 692.6 L318.0 697.0 L321.0 702.0 L324.0 708.0 L328.0 713.0 L333.0 718.0 L338.0 724.0 L336.0 730.0 L328.0 734.0 L318.0 735.2 L300.0 735.8Z" fill="#ffffff" filter="url(#b05)"/>
<rect x="315.5" y="714.4" width="1.6" height="1.6" fill="#fff"/><rect x="317.0" y="708.0" width="2.1" height="2.1" fill="#fff"/><rect x="336.1" y="725.1" width="1.7" height="1.7" fill="#fff"/><rect x="337.3" y="725.4" width="1.9" height="1.9" fill="#fff"/><rect x="331.7" y="716.1" width="1.6" height="1.6" fill="#fff"/><rect x="316.7" y="703.9" width="0.9" height="0.9" fill="#fff"/><rect x="317.7" y="715.4" width="1.0" height="1.0" fill="#fff"/><rect x="322.3" y="708.9" width="1.0" height="1.0" fill="#fff"/><rect x="338.1" y="729.5" width="1.4" height="1.4" fill="#fff"/><rect x="324.3" y="697.8" width="1.3" height="1.3" fill="#fff"/><rect x="345.9" y="724.9" width="2.0" height="2.0" fill="#fff"/><rect x="339.8" y="694.6" width="1.4" height="1.4" fill="#fff"/><rect x="324.9" y="704.8" width="2.0" height="2.0" fill="#fff"/><rect x="338.7" y="722.4" width="1.0" height="1.0" fill="#fff"/><rect x="332.4" y="727.3" width="1.4" height="1.4" fill="#fff"/><rect x="333.8" y="694.9" width="1.7" height="1.7" fill="#fff"/><rect x="328.7" y="717.2" width="1.7" height="1.7" fill="#fff"/><rect x="334.9" y="710.9" width="1.9" height="1.9" fill="#fff"/><rect x="312.9" y="694.4" width="1.0" height="1.0" fill="#fff"/><rect x="318.3" y="709.8" width="1.4" height="1.4" fill="#fff"/><rect x="318.6" y="731.1" width="1.7" height="1.7" fill="#fff"/><rect x="318.5" y="730.0" width="1.6" height="1.6" fill="#fff"/><rect x="345.3" y="702.6" width="1.7" height="1.7" fill="#fff"/><rect x="324.4" y="723.2" width="2.1" height="2.1" fill="#fff"/><rect x="349.0" y="714.2" width="1.0" height="1.0" fill="#fff"/><rect x="341.6" y="727.7" width="1.4" height="1.4" fill="#fff"/><rect x="324.5" y="711.8" width="1.1" height="1.1" fill="#fff"/><rect x="324.6" y="707.3" width="1.6" height="1.6" fill="#fff"/><rect x="331.5" y="717.1" width="1.5" height="1.5" fill="#fff"/><rect x="343.5" y="695.5" width="2.1" height="2.1" fill="#fff"/><rect x="313.9" y="726.9" width="1.7" height="1.7" fill="#fff"/><rect x="341.7" y="714.4" width="1.1" height="1.1" fill="#fff"/><rect x="328.4" y="726.9" width="1.4" height="1.4" fill="#fff"/><rect x="316.7" y="708.1" width="1.6" height="1.6" fill="#fff"/><rect x="314.2" y="702.0" width="1.4" height="1.4" fill="#fff"/><rect x="314.8" y="705.7" width="0.8" height="0.8" fill="#fff"/><rect x="319.0" y="724.8" width="0.9" height="0.9" fill="#fff"/><rect x="332.0" y="703.2" width="1.7" height="1.7" fill="#fff"/><rect x="320.6" y="719.3" width="1.9" height="1.9" fill="#fff"/><rect x="330.2" y="704.0" width="0.9" height="0.9" fill="#fff"/><rect x="339.9" y="718.1" width="1.1" height="1.1" fill="#fff"/><rect x="314.9" y="694.3" width="2.0" height="2.0" fill="#fff"/><rect x="338.7" y="708.1" width="1.7" height="1.7" fill="#fff"/><rect x="330.1" y="730.2" width="1.3" height="1.3" fill="#fff"/><rect x="317.0" y="703.9" width="1.8" height="1.8" fill="#fff"/><rect x="312.3" y="718.3" width="1.6" height="1.6" fill="#fff"/><rect x="323.3" y="717.4" width="1.7" height="1.7" fill="#fff"/><rect x="312.1" y="703.7" width="1.0" height="1.0" fill="#fff"/><rect x="325.4" y="717.3" width="1.1" height="1.1" fill="#fff"/><rect x="345.1" y="702.2" width="1.0" height="1.0" fill="#fff"/><rect x="348.2" y="715.3" width="2.1" height="2.1" fill="#fff"/><rect x="343.5" y="707.3" width="1.7" height="1.7" fill="#fff"/><rect x="347.1" y="718.7" width="1.0" height="1.0" fill="#fff"/><rect x="317.0" y="718.5" width="1.3" height="1.3" fill="#fff"/><rect x="334.2" y="697.7" width="1.0" height="1.0" fill="#fff"/><rect x="315.6" y="717.6" width="2.1" height="2.1" fill="#fff"/><rect x="340.1" y="724.5" width="1.5" height="1.5" fill="#fff"/><rect x="335.7" y="713.2" width="0.9" height="0.9" fill="#fff"/><rect x="320.5" y="721.7" width="2.1" height="2.1" fill="#fff"/><rect x="342.8" y="703.5" width="1.6" height="1.6" fill="#fff"/><rect x="315.7" y="707.1" width="0.9" height="0.9" fill="#fff"/><rect x="346.0" y="699.6" width="1.3" height="1.3" fill="#fff"/><rect x="348.3" y="706.9" width="1.0" height="1.0" fill="#fff"/><rect x="330.6" y="712.2" width="1.0" height="1.0" fill="#fff"/><rect x="340.3" y="699.7" width="0.9" height="0.9" fill="#fff"/><rect x="326.7" y="705.1" width="2.0" height="2.0" fill="#fff"/><rect x="327.5" y="730.2" width="1.4" height="1.4" fill="#fff"/><rect x="331.5" y="726.1" width="1.4" height="1.4" fill="#fff"/><rect x="322.4" y="729.3" width="2.0" height="2.0" fill="#fff"/><rect x="338.8" y="729.8" width="1.4" height="1.4" fill="#fff"/><rect x="342.0" y="696.0" width="0.9" height="0.9" fill="#fff"/><rect x="336.8" y="721.8" width="0.9" height="0.9" fill="#fff"/><rect x="331.8" y="699.9" width="1.0" height="1.0" fill="#fff"/><rect x="333.2" y="717.3" width="2.0" height="2.0" fill="#fff"/><rect x="317.5" y="722.5" width="1.2" height="1.2" fill="#fff"/><rect x="342.9" y="710.9" width="1.4" height="1.4" fill="#fff"/><rect x="315.9" y="734.7" width="1.5" height="1.5" fill="#fff"/><rect x="331.3" y="706.2" width="1.5" height="1.5" fill="#fff"/><rect x="319.2" y="712.2" width="1.2" height="1.2" fill="#fff"/><rect x="322.7" y="722.7" width="0.8" height="0.8" fill="#fff"/><rect x="334.0" y="694.8" width="1.6" height="1.6" fill="#fff"/><rect x="327.9" y="729.7" width="1.8" height="1.8" fill="#fff"/><rect x="329.7" y="699.2" width="1.5" height="1.5" fill="#fff"/><rect x="322.6" y="712.9" width="2.1" height="2.1" fill="#fff"/><rect x="332.9" y="712.4" width="0.9" height="0.9" fill="#fff"/><rect x="323.2" y="698.2" width="1.1" height="1.1" fill="#fff"/><rect x="334.9" y="713.3" width="1.6" height="1.6" fill="#fff"/><rect x="317.7" y="698.5" width="2.0" height="2.0" fill="#fff"/><rect x="325.1" y="693.5" width="1.4" height="1.4" fill="#fff"/><rect x="325.9" y="704.2" width="1.7" height="1.7" fill="#fff"/><rect x="340.6" y="722.4" width="2.0" height="2.0" fill="#fff"/><rect x="338.1" y="722.7" width="1.9" height="1.9" fill="#fff"/><rect x="312.2" y="707.0" width="1.7" height="1.7" fill="#fff"/><rect x="346.3" y="718.8" width="1.5" height="1.5" fill="#fff"/><rect x="314.8" y="725.7" width="1.2" height="1.2" fill="#fff"/><rect x="330.1" y="707.9" width="1.9" height="1.9" fill="#fff"/><rect x="335.4" y="728.0" width="1.9" height="1.9" fill="#fff"/><rect x="341.5" y="713.4" width="1.5" height="1.5" fill="#fff"/><rect x="318.6" y="698.5" width="2.2" height="2.2" fill="#fff"/><rect x="319.8" y="707.6" width="2.2" height="2.2" fill="#fff"/><rect x="312.2" y="712.4" width="2.1" height="2.1" fill="#fff"/><rect x="346.9" y="696.1" width="1.1" height="1.1" fill="#fff"/><rect x="345.6" y="715.0" width="0.9" height="0.9" fill="#fff"/><rect x="330.0" y="697.2" width="1.7" height="1.7" fill="#fff"/><rect x="320.4" y="730.3" width="2.0" height="2.0" fill="#fff"/><rect x="344.6" y="711.0" width="1.7" height="1.7" fill="#fff"/><rect x="326.3" y="699.2" width="2.0" height="2.0" fill="#fff"/><rect x="341.3" y="723.6" width="1.5" height="1.5" fill="#fff"/><rect x="342.6" y="697.7" width="1.6" height="1.6" fill="#fff"/><rect x="321.9" y="708.9" width="2.1" height="2.1" fill="#fff"/><rect x="328.3" y="705.4" width="0.9" height="0.9" fill="#fff"/><rect x="341.3" y="709.9" width="1.9" height="1.9" fill="#fff"/><rect x="343.1" y="698.2" width="2.0" height="2.0" fill="#fff"/><rect x="315.6" y="704.0" width="1.7" height="1.7" fill="#fff"/><rect x="313.4" y="713.9" width="2.2" height="2.2" fill="#fff"/><rect x="322.7" y="694.0" width="1.9" height="1.9" fill="#fff"/><rect x="341.8" y="700.2" width="1.0" height="1.0" fill="#fff"/><rect x="328.9" y="716.5" width="1.4" height="1.4" fill="#fff"/><rect x="318.0" y="694.7" width="0.9" height="0.9" fill="#fff"/><rect x="334.5" y="727.0" width="0.8" height="0.8" fill="#fff"/><rect x="328.0" y="713.8" width="1.5" height="1.5" fill="#fff"/><rect x="319.3" y="718.9" width="1.1" height="1.1" fill="#fff"/><rect x="317.5" y="695.5" width="1.2" height="1.2" fill="#fff"/><rect x="321.1" y="712.9" width="2.2" height="2.2" fill="#fff"/><rect x="339.0" y="705.7" width="1.6" height="1.6" fill="#fff"/><rect x="333.0" y="728.3" width="2.1" height="2.1" fill="#fff"/><rect x="315.3" y="694.4" width="2.1" height="2.1" fill="#fff"/><rect x="339.7" y="702.4" width="1.2" height="1.2" fill="#fff"/><rect x="331.0" y="725.0" width="1.3" height="1.3" fill="#fff"/><rect x="341.7" y="717.3" width="1.1" height="1.1" fill="#fff"/><rect x="328.3" y="711.3" width="1.6" height="1.6" fill="#fff"/><rect x="315.6" y="707.1" width="0.8" height="0.8" fill="#fff"/><rect x="312.9" y="704.7" width="1.5" height="1.5" fill="#fff"/><rect x="339.5" y="698.6" width="1.2" height="1.2" fill="#fff"/><rect x="327.1" y="728.0" width="1.8" height="1.8" fill="#fff"/><rect x="342.3" y="710.7" width="1.1" height="1.1" fill="#fff"/><rect x="317.9" y="705.7" width="0.9" height="0.9" fill="#fff"/><rect x="345.5" y="712.2" width="0.9" height="0.9" fill="#fff"/><rect x="320.2" y="709.3" width="1.3" height="1.3" fill="#fff"/><rect x="313.8" y="733.6" width="1.4" height="1.4" fill="#fff"/><rect x="348.2" y="716.7" width="1.9" height="1.9" fill="#fff"/><rect x="343.5" y="711.0" width="1.4" height="1.4" fill="#fff"/><rect x="318.8" y="698.6" width="1.7" height="1.7" fill="#fff"/><rect x="322.1" y="706.4" width="1.2" height="1.2" fill="#fff"/><rect x="344.4" y="726.0" width="1.3" height="1.3" fill="#fff"/><rect x="330.8" y="703.0" width="1.8" height="1.8" fill="#fff"/><rect x="335.2" y="695.2" width="2.0" height="2.0" fill="#fff"/><rect x="326.4" y="700.9" width="1.2" height="1.2" fill="#fff"/><rect x="346.1" y="716.6" width="1.2" height="1.2" fill="#fff"/><rect x="333.7" y="725.1" width="1.4" height="1.4" fill="#fff"/><rect x="338.0" y="700.4" width="2.1" height="2.1" fill="#fff"/><rect x="346.3" y="696.6" width="1.2" height="1.2" fill="#fff"/><rect x="345.3" y="705.2" width="2.1" height="2.1" fill="#fff"/><rect x="324.8" y="697.8" width="2.0" height="2.0" fill="#fff"/><rect x="324.8" y="731.2" width="1.8" height="1.8" fill="#fff"/><rect x="338.7" y="726.2" width="1.2" height="1.2" fill="#fff"/><rect x="325.2" y="720.5" width="1.0" height="1.0" fill="#fff"/><rect x="319.5" y="695.7" width="1.2" height="1.2" fill="#fff"/><rect x="323.0" y="732.0" width="1.0" height="1.0" fill="#fff"/><rect x="334.9" y="705.6" width="1.6" height="1.6" fill="#fff"/><rect x="323.7" y="714.7" width="0.9" height="0.9" fill="#fff"/><rect x="330.2" y="723.1" width="2.1" height="2.1" fill="#fff"/><rect x="330.3" y="721.2" width="1.8" height="1.8" fill="#fff"/><rect x="319.2" y="725.1" width="1.9" height="1.9" fill="#fff"/><rect x="336.8" y="714.1" width="2.0" height="2.0" fill="#fff"/><rect x="349.0" y="722.5" width="2.0" height="2.0" fill="#fff"/><rect x="325.7" y="696.8" width="1.9" height="1.9" fill="#fff"/><rect x="339.5" y="724.7" width="1.1" height="1.1" fill="#fff"/><rect x="344.5" y="704.9" width="1.6" height="1.6" fill="#fff"/><rect x="317.5" y="712.8" width="1.5" height="1.5" fill="#fff"/><rect x="327.6" y="729.8" width="1.0" height="1.0" fill="#fff"/><rect x="336.7" y="726.5" width="2.0" height="2.0" fill="#fff"/><rect x="321.0" y="701.8" width="0.8" height="0.8" fill="#fff"/><rect x="333.6" y="695.8" width="0.9" height="0.9" fill="#fff"/><rect x="345.8" y="696.7" width="2.1" height="2.1" fill="#fff"/><rect x="325.0" y="695.4" width="1.1" height="1.1" fill="#fff"/><rect x="341.9" y="714.6" width="0.9" height="0.9" fill="#fff"/><rect x="330.4" y="714.5" width="1.3" height="1.3" fill="#fff"/><rect x="316.8" y="696.7" width="2.0" height="2.0" fill="#fff"/><rect x="341.6" y="719.5" width="1.9" height="1.9" fill="#fff"/><rect x="334.6" y="719.6" width="1.9" height="1.9" fill="#fff"/><rect x="339.5" y="703.5" width="1.9" height="1.9" fill="#fff"/><rect x="339.9" y="704.3" width="1.4" height="1.4" fill="#fff"/><rect x="330.7" y="728.9" width="1.8" height="1.8" fill="#fff"/><rect x="341.9" y="704.4" width="2.1" height="2.1" fill="#fff"/><rect x="344.5" y="716.6" width="1.9" height="1.9" fill="#fff"/><rect x="344.3" y="715.8" width="1.4" height="1.4" fill="#fff"/><rect x="332.3" y="697.4" width="1.1" height="1.1" fill="#fff"/><rect x="333.4" y="719.7" width="2.2" height="2.2" fill="#fff"/><rect x="330.0" y="728.0" width="1.8" height="1.8" fill="#fff"/><rect x="336.5" y="729.0" width="1.9" height="1.9" fill="#fff"/><rect x="323.1" y="731.3" width="1.2" height="1.2" fill="#fff"/><rect x="319.0" y="708.9" width="1.4" height="1.4" fill="#fff"/><rect x="346.3" y="705.0" width="1.8" height="1.8" fill="#fff"/><rect x="343.6" y="699.4" width="2.0" height="2.0" fill="#fff"/><rect x="326.8" y="706.0" width="1.0" height="1.0" fill="#fff"/><rect x="339.2" y="694.4" width="1.9" height="1.9" fill="#fff"/><rect x="342.5" y="696.5" width="1.1" height="1.1" fill="#fff"/><rect x="340.1" y="708.6" width="0.9" height="0.9" fill="#fff"/><rect x="346.4" y="728.4" width="1.3" height="1.3" fill="#fff"/><rect x="317.0" y="694.6" width="1.8" height="1.8" fill="#fff"/><rect x="346.3" y="694.6" width="1.5" height="1.5" fill="#fff"/><rect x="325.3" y="706.4" width="1.0" height="1.0" fill="#fff"/><rect x="343.9" y="712.1" width="1.8" height="1.8" fill="#fff"/><rect x="349.4" y="705.2" width="2.2" height="2.2" fill="#fff"/><rect x="339.2" y="723.5" width="1.9" height="1.9" fill="#fff"/><rect x="329.9" y="712.9" width="1.8" height="1.8" fill="#fff"/><rect x="322.4" y="708.6" width="2.0" height="2.0" fill="#fff"/><rect x="317.8" y="712.6" width="1.3" height="1.3" fill="#fff"/><rect x="319.7" y="728.6" width="1.1" height="1.1" fill="#fff"/><rect x="339.3" y="707.3" width="1.2" height="1.2" fill="#fff"/><rect x="327.3" y="698.4" width="1.4" height="1.4" fill="#fff"/><rect x="322.2" y="705.4" width="2.0" height="2.0" fill="#fff"/><rect x="327.3" y="700.5" width="1.7" height="1.7" fill="#fff"/><rect x="336.3" y="723.7" width="2.1" height="2.1" fill="#fff"/><rect x="328.8" y="720.7" width="2.0" height="2.0" fill="#fff"/><rect x="338.0" y="717.3" width="1.5" height="1.5" fill="#fff"/><rect x="332.9" y="718.2" width="0.9" height="0.9" fill="#fff"/><rect x="342.0" y="729.6" width="0.9" height="0.9" fill="#fff"/><rect x="327.1" y="723.4" width="1.7" height="1.7" fill="#fff"/><rect x="331.6" y="732.0" width="2.0" height="2.0" fill="#fff"/><rect x="348.8" y="724.3" width="2.0" height="2.0" fill="#fff"/><rect x="320.6" y="707.4" width="2.2" height="2.2" fill="#fff"/><rect x="339.8" y="694.3" width="1.0" height="1.0" fill="#fff"/><rect x="338.4" y="707.6" width="1.6" height="1.6" fill="#fff"/><rect x="336.6" y="712.6" width="2.1" height="2.1" fill="#fff"/><rect x="317.3" y="714.4" width="1.1" height="1.1" fill="#fff"/><rect x="334.0" y="704.7" width="1.1" height="1.1" fill="#fff"/><rect x="341.6" y="702.1" width="1.0" height="1.0" fill="#fff"/><rect x="329.1" y="702.3" width="0.8" height="0.8" fill="#fff"/><rect x="337.5" y="695.0" width="1.4" height="1.4" fill="#fff"/><rect x="325.6" y="699.7" width="1.3" height="1.3" fill="#fff"/><rect x="314.0" y="694.2" width="1.1" height="1.1" fill="#fff"/><rect x="325.4" y="726.3" width="1.3" height="1.3" fill="#fff"/><rect x="326.7" y="731.7" width="1.9" height="1.9" fill="#fff"/><rect x="321.8" y="714.0" width="1.2" height="1.2" fill="#fff"/><rect x="337.5" y="721.8" width="1.1" height="1.1" fill="#fff"/><rect x="335.6" y="694.0" width="0.9" height="0.9" fill="#fff"/><rect x="328.3" y="724.6" width="1.3" height="1.3" fill="#fff"/><rect x="320.0" y="726.4" width="2.0" height="2.0" fill="#fff"/>
</g>
<g clip-path="url(#i2)">
<rect x="302.4" y="753.4" width="191.5" height="72.0" fill="#000"/>
<path d="M302.2 773.8 L330.0 774.3 L356.0 774.5 L384.0 774.0 L398.0 773.4 L420.0 772.0 L450.0 769.5 L480.0 767.5 L494.5 767.0 L494.5 792.0 L480.0 793.5 L450.0 797.0 L420.0 801.0 L398.0 805.3 L372.0 808.8 L356.0 811.6 L330.0 812.3 L302.2 811.0Z" fill="#101010"/>
<rect x="306.9" y="780.8" width="1.0" height="0.8" fill="rgb(125,125,125)"/><rect x="454.2" y="776.6" width="1.6" height="1.3" fill="rgb(116,116,116)"/><rect x="336.7" y="802.0" width="0.8" height="0.6" fill="rgb(165,165,165)"/><rect x="412.9" y="780.4" width="1.0" height="0.8" fill="rgb(164,164,164)"/><rect x="329.6" y="799.7" width="0.8" height="0.6" fill="rgb(134,134,134)"/><rect x="382.7" y="783.5" width="1.3" height="1.0" fill="rgb(224,224,224)"/><rect x="361.2" y="795.5" width="1.6" height="1.3" fill="rgb(148,148,148)"/><rect x="384.2" y="788.7" width="1.3" height="1.0" fill="rgb(122,122,122)"/><rect x="313.5" y="781.4" width="0.8" height="0.6" fill="rgb(141,141,141)"/><rect x="320.9" y="780.6" width="1.0" height="0.8" fill="rgb(181,181,181)"/><rect x="336.7" y="798.1" width="0.8" height="0.6" fill="rgb(167,167,167)"/><rect x="435.2" y="782.3" width="1.6" height="1.3" fill="rgb(217,217,217)"/><rect x="482.9" y="780.3" width="1.0" height="0.8" fill="rgb(192,192,192)"/><rect x="321.0" y="796.7" width="1.0" height="0.8" fill="rgb(200,200,200)"/><rect x="310.4" y="787.1" width="1.0" height="0.8" fill="rgb(125,125,125)"/><rect x="315.4" y="802.3" width="1.6" height="1.3" fill="rgb(185,185,185)"/><rect x="342.2" y="802.0" width="1.0" height="0.8" fill="rgb(230,230,230)"/><rect x="309.7" y="805.7" width="1.0" height="0.8" fill="rgb(114,114,114)"/><rect x="311.8" y="789.7" width="1.0" height="0.8" fill="rgb(143,143,143)"/><rect x="324.0" y="809.4" width="1.0" height="0.8" fill="rgb(183,183,183)"/><rect x="313.3" y="796.6" width="1.3" height="1.0" fill="rgb(115,115,115)"/><rect x="384.7" y="782.5" width="0.8" height="0.6" fill="rgb(236,236,236)"/><rect x="322.9" y="810.2" width="1.0" height="0.8" fill="rgb(190,190,190)"/><rect x="352.8" y="794.0" width="1.6" height="1.3" fill="rgb(155,155,155)"/><rect x="328.4" y="793.2" width="0.8" height="0.6" fill="rgb(154,154,154)"/><rect x="339.7" y="776.3" width="1.0" height="0.8" fill="rgb(159,159,159)"/><rect x="312.8" y="805.9" width="1.0" height="0.8" fill="rgb(135,135,135)"/><rect x="306.6" y="799.5" width="0.8" height="0.6" fill="rgb(214,214,214)"/><rect x="321.3" y="780.9" width="1.0" height="0.8" fill="rgb(175,175,175)"/><rect x="356.3" y="776.6" width="1.0" height="0.8" fill="rgb(230,230,230)"/><rect x="324.0" y="805.4" width="1.0" height="0.8" fill="rgb(229,229,229)"/><rect x="361.1" y="806.3" width="1.0" height="0.8" fill="rgb(234,234,234)"/><rect x="356.0" y="777.9" width="1.0" height="0.8" fill="rgb(216,216,216)"/><rect x="351.7" y="780.2" width="1.0" height="0.8" fill="rgb(182,182,182)"/><rect x="315.7" y="788.4" width="1.6" height="1.3" fill="rgb(228,228,228)"/><rect x="386.7" y="796.5" width="0.8" height="0.6" fill="rgb(231,231,231)"/><rect x="332.0" y="803.8" width="1.3" height="1.0" fill="rgb(138,138,138)"/><rect x="326.4" y="780.4" width="1.6" height="1.3" fill="rgb(212,212,212)"/><rect x="348.2" y="809.3" width="1.3" height="1.0" fill="rgb(153,153,153)"/><rect x="342.3" y="798.6" width="1.0" height="0.8" fill="rgb(145,145,145)"/><rect x="348.4" y="787.7" width="1.0" height="0.8" fill="rgb(213,213,213)"/><rect x="328.9" y="793.4" width="0.8" height="0.6" fill="rgb(194,194,194)"/><rect x="326.7" y="801.3" width="1.0" height="0.8" fill="rgb(140,140,140)"/><rect x="322.0" y="802.2" width="1.0" height="0.8" fill="rgb(111,111,111)"/><rect x="332.6" y="793.6" width="0.8" height="0.6" fill="rgb(130,130,130)"/><rect x="352.5" y="780.8" width="1.6" height="1.3" fill="rgb(202,202,202)"/><rect x="372.0" y="792.5" width="1.3" height="1.0" fill="rgb(235,235,235)"/><rect x="346.7" y="789.7" width="1.0" height="0.8" fill="rgb(115,115,115)"/><rect x="378.7" y="775.1" width="0.8" height="0.6" fill="rgb(155,155,155)"/><rect x="332.7" y="809.2" width="1.3" height="1.0" fill="rgb(168,168,168)"/><rect x="383.7" y="774.9" width="1.0" height="0.8" fill="rgb(172,172,172)"/><rect x="357.7" y="803.7" width="1.0" height="0.8" fill="rgb(132,132,132)"/><rect x="391.3" y="786.8" width="1.0" height="0.8" fill="rgb(133,133,133)"/><rect x="334.1" y="778.6" width="1.3" height="1.0" fill="rgb(143,143,143)"/><rect x="372.8" y="790.4" width="1.0" height="0.8" fill="rgb(138,138,138)"/><rect x="383.2" y="801.0" width="1.0" height="0.8" fill="rgb(210,210,210)"/><rect x="443.6" y="795.0" width="1.6" height="1.3" fill="rgb(215,215,215)"/><rect x="338.7" y="802.0" width="0.8" height="0.6" fill="rgb(115,115,115)"/><rect x="369.4" y="782.3" width="1.3" height="1.0" fill="rgb(155,155,155)"/><rect x="335.0" y="808.8" width="1.6" height="1.3" fill="rgb(211,211,211)"/><rect x="351.6" y="785.4" width="1.0" height="0.8" fill="rgb(140,140,140)"/><rect x="345.2" y="779.4" width="1.0" height="0.8" fill="rgb(151,151,151)"/><rect x="346.0" y="792.6" width="0.8" height="0.6" fill="rgb(186,186,186)"/><rect x="325.3" y="808.5" width="0.8" height="0.6" fill="rgb(206,206,206)"/><rect x="401.7" y="789.3" width="1.0" height="0.8" fill="rgb(141,141,141)"/><rect x="353.0" y="777.7" width="1.3" height="1.0" fill="rgb(208,208,208)"/><rect x="347.7" y="793.3" width="1.0" height="0.8" fill="rgb(140,140,140)"/><rect x="354.9" y="810.7" width="0.8" height="0.6" fill="rgb(115,115,115)"/><rect x="413.5" y="781.6" width="1.3" height="1.0" fill="rgb(214,214,214)"/><rect x="376.4" y="791.7" width="1.0" height="0.8" fill="rgb(175,175,175)"/><rect x="323.8" y="807.2" width="1.0" height="0.8" fill="rgb(160,160,160)"/><rect x="417.5" y="801.3" width="1.3" height="1.0" fill="rgb(117,117,117)"/><rect x="364.8" y="787.3" width="1.0" height="0.8" fill="rgb(125,125,125)"/><rect x="356.2" y="786.1" width="1.6" height="1.3" fill="rgb(147,147,147)"/><rect x="347.4" y="777.8" width="1.3" height="1.0" fill="rgb(158,158,158)"/><rect x="359.5" y="779.6" width="1.6" height="1.3" fill="rgb(225,225,225)"/><rect x="372.6" y="797.0" width="0.8" height="0.6" fill="rgb(207,207,207)"/><rect x="452.4" y="776.2" width="1.0" height="0.8" fill="rgb(155,155,155)"/><rect x="312.1" y="781.9" width="1.6" height="1.3" fill="rgb(137,137,137)"/><rect x="352.8" y="775.5" width="1.3" height="1.0" fill="rgb(208,208,208)"/><rect x="401.0" y="797.9" width="0.8" height="0.6" fill="rgb(126,126,126)"/><rect x="414.3" y="788.4" width="1.3" height="1.0" fill="rgb(114,114,114)"/><rect x="340.0" y="794.9" width="1.0" height="0.8" fill="rgb(203,203,203)"/><rect x="320.8" y="784.8" width="1.0" height="0.8" fill="rgb(145,145,145)"/><rect x="370.3" y="786.8" width="1.0" height="0.8" fill="rgb(161,161,161)"/><rect x="311.7" y="776.9" width="1.6" height="1.3" fill="rgb(130,130,130)"/><rect x="429.9" y="782.7" width="1.0" height="0.8" fill="rgb(178,178,178)"/><rect x="403.9" y="787.8" width="1.6" height="1.3" fill="rgb(195,195,195)"/><rect x="387.8" y="774.9" width="0.8" height="0.6" fill="rgb(175,175,175)"/><rect x="323.5" y="796.8" width="1.0" height="0.8" fill="rgb(182,182,182)"/><rect x="354.0" y="780.5" width="1.0" height="0.8" fill="rgb(207,207,207)"/><rect x="332.3" y="798.2" width="1.3" height="1.0" fill="rgb(159,159,159)"/><rect x="310.9" y="793.7" width="0.8" height="0.6" fill="rgb(224,224,224)"/><rect x="342.5" y="776.1" width="0.8" height="0.6" fill="rgb(238,238,238)"/><rect x="363.6" y="806.3" width="1.3" height="1.0" fill="rgb(230,230,230)"/><rect x="359.7" y="797.5" width="1.0" height="0.8" fill="rgb(179,179,179)"/><rect x="394.8" y="796.0" width="1.3" height="1.0" fill="rgb(161,161,161)"/><rect x="308.3" y="789.4" width="0.8" height="0.6" fill="rgb(218,218,218)"/><rect x="348.2" y="783.7" width="1.3" height="1.0" fill="rgb(177,177,177)"/><rect x="330.9" y="790.6" width="1.0" height="0.8" fill="rgb(179,179,179)"/><rect x="357.9" y="807.4" width="1.3" height="1.0" fill="rgb(224,224,224)"/><rect x="339.0" y="786.7" width="1.0" height="0.8" fill="rgb(131,131,131)"/><rect x="310.8" y="798.1" width="1.6" height="1.3" fill="rgb(175,175,175)"/><rect x="306.0" y="801.8" width="1.3" height="1.0" fill="rgb(157,157,157)"/><rect x="356.5" y="793.2" width="1.0" height="0.8" fill="rgb(222,222,222)"/><rect x="363.8" y="779.1" width="1.3" height="1.0" fill="rgb(193,193,193)"/><rect x="326.3" y="788.9" width="0.8" height="0.6" fill="rgb(146,146,146)"/><rect x="339.1" y="803.2" width="1.6" height="1.3" fill="rgb(233,233,233)"/><rect x="352.8" y="788.0" width="0.8" height="0.6" fill="rgb(158,158,158)"/><rect x="439.1" y="790.8" width="1.0" height="0.8" fill="rgb(214,214,214)"/><rect x="358.3" y="778.1" width="1.6" height="1.3" fill="rgb(210,210,210)"/><rect x="315.3" y="789.1" width="1.0" height="0.8" fill="rgb(118,118,118)"/><rect x="364.3" y="778.0" width="0.8" height="0.6" fill="rgb(179,179,179)"/><rect x="404.8" y="794.0" width="1.0" height="0.8" fill="rgb(174,174,174)"/><rect x="303.2" y="803.3" width="1.0" height="0.8" fill="rgb(198,198,198)"/><rect x="306.0" y="784.7" width="1.3" height="1.0" fill="rgb(223,223,223)"/><rect x="492.8" y="767.6" width="1.6" height="1.3" fill="rgb(201,201,201)"/><rect x="364.6" y="790.4" width="1.0" height="0.8" fill="rgb(116,116,116)"/><rect x="474.2" y="789.6" width="1.3" height="1.0" fill="rgb(155,155,155)"/><rect x="367.1" y="780.0" width="0.8" height="0.6" fill="rgb(231,231,231)"/><rect x="328.8" y="789.3" width="0.8" height="0.6" fill="rgb(148,148,148)"/><rect x="374.5" y="779.5" width="1.0" height="0.8" fill="rgb(197,197,197)"/><rect x="304.2" y="787.6" width="1.0" height="0.8" fill="rgb(207,207,207)"/><rect x="349.7" y="801.4" width="0.8" height="0.6" fill="rgb(130,130,130)"/><rect x="309.5" y="786.7" width="1.0" height="0.8" fill="rgb(226,226,226)"/><rect x="437.2" y="785.5" width="1.6" height="1.3" fill="rgb(132,132,132)"/><rect x="328.4" y="784.4" width="1.6" height="1.3" fill="rgb(226,226,226)"/><rect x="340.3" y="780.3" width="1.0" height="0.8" fill="rgb(213,213,213)"/><rect x="331.9" y="778.7" width="1.0" height="0.8" fill="rgb(147,147,147)"/><rect x="398.0" y="784.3" width="0.8" height="0.6" fill="rgb(215,215,215)"/><rect x="408.5" y="785.6" width="0.8" height="0.6" fill="rgb(168,168,168)"/><rect x="382.2" y="792.7" width="1.3" height="1.0" fill="rgb(138,138,138)"/><rect x="422.1" y="771.9" width="1.3" height="1.0" fill="rgb(209,209,209)"/><rect x="330.7" y="803.6" width="1.3" height="1.0" fill="rgb(112,112,112)"/><rect x="438.0" y="780.7" width="0.8" height="0.6" fill="rgb(228,228,228)"/><rect x="389.8" y="792.1" width="0.8" height="0.6" fill="rgb(232,232,232)"/><rect x="426.6" y="788.5" width="1.0" height="0.8" fill="rgb(204,204,204)"/><rect x="318.5" y="798.8" width="1.6" height="1.3" fill="rgb(140,140,140)"/><rect x="319.9" y="804.5" width="1.6" height="1.3" fill="rgb(164,164,164)"/><rect x="304.3" y="798.7" width="1.0" height="0.8" fill="rgb(211,211,211)"/><rect x="354.9" y="790.3" width="1.0" height="0.8" fill="rgb(201,201,201)"/><rect x="326.1" y="792.4" width="1.3" height="1.0" fill="rgb(216,216,216)"/><rect x="349.9" y="787.7" width="1.0" height="0.8" fill="rgb(174,174,174)"/><rect x="431.0" y="780.5" width="1.0" height="0.8" fill="rgb(146,146,146)"/><rect x="320.0" y="778.0" width="1.0" height="0.8" fill="rgb(113,113,113)"/><rect x="492.6" y="782.4" width="1.3" height="1.0" fill="rgb(185,185,185)"/><rect x="423.9" y="776.5" width="0.8" height="0.6" fill="rgb(212,212,212)"/><rect x="328.5" y="810.6" width="0.8" height="0.6" fill="rgb(187,187,187)"/><rect x="386.4" y="777.3" width="1.0" height="0.8" fill="rgb(193,193,193)"/><rect x="325.5" y="782.8" width="1.6" height="1.3" fill="rgb(186,186,186)"/><rect x="379.0" y="783.1" width="1.0" height="0.8" fill="rgb(152,152,152)"/><rect x="314.9" y="797.5" width="1.3" height="1.0" fill="rgb(176,176,176)"/><rect x="338.9" y="789.2" width="1.3" height="1.0" fill="rgb(183,183,183)"/><rect x="351.1" y="795.0" width="0.8" height="0.6" fill="rgb(171,171,171)"/><rect x="423.6" y="773.3" width="0.8" height="0.6" fill="rgb(145,145,145)"/><rect x="306.1" y="786.1" width="1.0" height="0.8" fill="rgb(221,221,221)"/><rect x="441.1" y="787.2" width="1.3" height="1.0" fill="rgb(125,125,125)"/><rect x="351.6" y="778.6" width="1.0" height="0.8" fill="rgb(164,164,164)"/><rect x="425.9" y="797.0" width="0.8" height="0.6" fill="rgb(123,123,123)"/><rect x="337.2" y="785.2" width="1.6" height="1.3" fill="rgb(159,159,159)"/><rect x="302.5" y="809.8" width="0.8" height="0.6" fill="rgb(169,169,169)"/><rect x="334.4" y="797.7" width="1.0" height="0.8" fill="rgb(139,139,139)"/><rect x="321.7" y="793.2" width="1.0" height="0.8" fill="rgb(113,113,113)"/><rect x="310.0" y="778.9" width="1.0" height="0.8" fill="rgb(158,158,158)"/><rect x="344.6" y="795.6" width="1.6" height="1.3" fill="rgb(204,204,204)"/><rect x="460.8" y="770.3" width="1.6" height="1.3" fill="rgb(179,179,179)"/><rect x="311.1" y="803.0" width="0.8" height="0.6" fill="rgb(110,110,110)"/><rect x="332.9" y="782.8" width="0.8" height="0.6" fill="rgb(163,163,163)"/><rect x="389.0" y="788.6" width="0.8" height="0.6" fill="rgb(134,134,134)"/><rect x="305.2" y="774.7" width="1.0" height="0.8" fill="rgb(133,133,133)"/><rect x="376.3" y="805.5" width="0.8" height="0.6" fill="rgb(124,124,124)"/><rect x="335.8" y="787.2" width="1.0" height="0.8" fill="rgb(239,239,239)"/><rect x="404.3" y="792.4" width="1.0" height="0.8" fill="rgb(201,201,201)"/><rect x="305.8" y="784.4" width="0.8" height="0.6" fill="rgb(210,210,210)"/><rect x="302.9" y="789.0" width="0.8" height="0.6" fill="rgb(128,128,128)"/><rect x="321.8" y="782.2" width="0.8" height="0.6" fill="rgb(220,220,220)"/><rect x="328.8" y="799.2" width="1.0" height="0.8" fill="rgb(167,167,167)"/><rect x="354.9" y="795.3" width="1.0" height="0.8" fill="rgb(209,209,209)"/><rect x="302.5" y="810.6" width="1.0" height="0.8" fill="rgb(238,238,238)"/><rect x="408.7" y="785.2" width="1.6" height="1.3" fill="rgb(191,191,191)"/><rect x="381.8" y="803.6" width="1.0" height="0.8" fill="rgb(188,188,188)"/><rect x="387.2" y="796.7" width="1.0" height="0.8" fill="rgb(206,206,206)"/><rect x="343.4" y="793.2" width="1.0" height="0.8" fill="rgb(173,173,173)"/><rect x="315.4" y="785.0" width="1.0" height="0.8" fill="rgb(148,148,148)"/><rect x="303.4" y="805.8" width="1.0" height="0.8" fill="rgb(180,180,180)"/><rect x="354.4" y="803.1" width="0.8" height="0.6" fill="rgb(114,114,114)"/><rect x="308.8" y="775.3" width="0.8" height="0.6" fill="rgb(237,237,237)"/><rect x="339.3" y="776.3" width="0.8" height="0.6" fill="rgb(181,181,181)"/><rect x="323.6" y="786.6" width="1.0" height="0.8" fill="rgb(237,237,237)"/><rect x="348.4" y="776.1" width="1.0" height="0.8" fill="rgb(194,194,194)"/><rect x="326.2" y="784.6" width="1.6" height="1.3" fill="rgb(135,135,135)"/><rect x="324.3" y="809.5" width="1.0" height="0.8" fill="rgb(164,164,164)"/><rect x="381.2" y="781.9" width="1.0" height="0.8" fill="rgb(215,215,215)"/><rect x="315.7" y="790.4" width="1.6" height="1.3" fill="rgb(195,195,195)"/><rect x="307.3" y="799.1" width="0.8" height="0.6" fill="rgb(121,121,121)"/><rect x="398.2" y="774.7" width="1.0" height="0.8" fill="rgb(204,204,204)"/><rect x="411.0" y="789.2" width="1.6" height="1.3" fill="rgb(186,186,186)"/><rect x="316.3" y="810.8" width="1.0" height="0.8" fill="rgb(125,125,125)"/><rect x="331.8" y="781.0" width="1.0" height="0.8" fill="rgb(133,133,133)"/><rect x="317.7" y="774.6" width="0.8" height="0.6" fill="rgb(222,222,222)"/><rect x="354.3" y="788.9" width="0.8" height="0.6" fill="rgb(170,170,170)"/><rect x="473.2" y="781.4" width="1.3" height="1.0" fill="rgb(222,222,222)"/><rect x="432.9" y="772.8" width="1.0" height="0.8" fill="rgb(110,110,110)"/><rect x="364.3" y="793.4" width="1.6" height="1.3" fill="rgb(169,169,169)"/><rect x="317.5" y="782.1" width="0.8" height="0.6" fill="rgb(205,205,205)"/><rect x="330.8" y="786.4" width="1.6" height="1.3" fill="rgb(138,138,138)"/><rect x="324.1" y="775.3" width="1.6" height="1.3" fill="rgb(142,142,142)"/><rect x="382.3" y="788.2" width="1.0" height="0.8" fill="rgb(110,110,110)"/><rect x="339.0" y="775.4" width="1.3" height="1.0" fill="rgb(177,177,177)"/><rect x="454.5" y="781.8" width="0.8" height="0.6" fill="rgb(232,232,232)"/><rect x="333.0" y="807.9" width="1.6" height="1.3" fill="rgb(151,151,151)"/><rect x="334.9" y="791.5" width="1.0" height="0.8" fill="rgb(137,137,137)"/><rect x="341.5" y="806.1" width="1.6" height="1.3" fill="rgb(114,114,114)"/><rect x="341.3" y="785.6" width="1.6" height="1.3" fill="rgb(114,114,114)"/><rect x="303.4" y="800.4" width="1.0" height="0.8" fill="rgb(145,145,145)"/><rect x="333.9" y="779.3" width="1.6" height="1.3" fill="rgb(232,232,232)"/><rect x="357.2" y="810.8" width="1.0" height="0.8" fill="rgb(196,196,196)"/><rect x="423.0" y="795.5" width="1.0" height="0.8" fill="rgb(223,223,223)"/><rect x="342.1" y="798.2" width="1.0" height="0.8" fill="rgb(186,186,186)"/><rect x="387.9" y="791.3" width="1.3" height="1.0" fill="rgb(117,117,117)"/><rect x="316.7" y="809.6" width="1.0" height="0.8" fill="rgb(163,163,163)"/><rect x="314.1" y="806.1" width="1.0" height="0.8" fill="rgb(233,233,233)"/><rect x="329.8" y="794.6" width="1.0" height="0.8" fill="rgb(191,191,191)"/><rect x="314.2" y="799.6" width="1.0" height="0.8" fill="rgb(206,206,206)"/><rect x="434.6" y="784.8" width="0.8" height="0.6" fill="rgb(223,223,223)"/><rect x="331.2" y="798.5" width="1.3" height="1.0" fill="rgb(136,136,136)"/><rect x="356.1" y="797.0" width="1.3" height="1.0" fill="rgb(233,233,233)"/><rect x="337.3" y="794.3" width="1.3" height="1.0" fill="rgb(206,206,206)"/><rect x="303.2" y="793.3" width="1.3" height="1.0" fill="rgb(177,177,177)"/><rect x="338.3" y="798.8" width="1.6" height="1.3" fill="rgb(150,150,150)"/><rect x="334.7" y="798.8" width="1.6" height="1.3" fill="rgb(147,147,147)"/><rect x="314.2" y="782.0" width="0.8" height="0.6" fill="rgb(189,189,189)"/><rect x="409.2" y="797.4" width="1.3" height="1.0" fill="rgb(239,239,239)"/><rect x="328.4" y="789.5" width="1.0" height="0.8" fill="rgb(211,211,211)"/><rect x="433.2" y="788.9" width="0.8" height="0.6" fill="rgb(114,114,114)"/><rect x="358.4" y="782.0" width="0.8" height="0.6" fill="rgb(151,151,151)"/><rect x="345.6" y="803.9" width="1.6" height="1.3" fill="rgb(207,207,207)"/><rect x="349.6" y="775.8" width="1.6" height="1.3" fill="rgb(223,223,223)"/><rect x="350.5" y="804.7" width="1.0" height="0.8" fill="rgb(129,129,129)"/><rect x="334.2" y="781.5" width="1.6" height="1.3" fill="rgb(154,154,154)"/><rect x="344.8" y="799.9" width="0.8" height="0.6" fill="rgb(215,215,215)"/><rect x="309.2" y="789.2" width="0.8" height="0.6" fill="rgb(227,227,227)"/><rect x="313.4" y="774.1" width="1.6" height="1.3" fill="rgb(207,207,207)"/><rect x="337.4" y="798.4" width="1.3" height="1.0" fill="rgb(194,194,194)"/><rect x="449.7" y="775.2" width="1.0" height="0.8" fill="rgb(232,232,232)"/><rect x="313.5" y="778.9" width="1.0" height="0.8" fill="rgb(150,150,150)"/><rect x="388.7" y="800.6" width="1.0" height="0.8" fill="rgb(176,176,176)"/><rect x="323.0" y="782.7" width="1.0" height="0.8" fill="rgb(193,193,193)"/><rect x="376.6" y="779.3" width="1.3" height="1.0" fill="rgb(141,141,141)"/><rect x="335.4" y="807.3" width="1.0" height="0.8" fill="rgb(111,111,111)"/><rect x="357.4" y="785.0" width="1.3" height="1.0" fill="rgb(151,151,151)"/><rect x="342.5" y="785.4" width="1.0" height="0.8" fill="rgb(144,144,144)"/><rect x="435.1" y="781.7" width="0.8" height="0.6" fill="rgb(162,162,162)"/><rect x="443.4" y="792.6" width="1.0" height="0.8" fill="rgb(222,222,222)"/><rect x="328.1" y="801.3" width="1.3" height="1.0" fill="rgb(231,231,231)"/><rect x="397.6" y="795.1" width="1.6" height="1.3" fill="rgb(187,187,187)"/><rect x="397.3" y="773.5" width="1.0" height="0.8" fill="rgb(162,162,162)"/><rect x="331.8" y="795.2" width="1.3" height="1.0" fill="rgb(207,207,207)"/><rect x="360.5" y="795.0" width="1.6" height="1.3" fill="rgb(199,199,199)"/><rect x="389.6" y="796.0" width="1.0" height="0.8" fill="rgb(220,220,220)"/><rect x="308.9" y="804.4" width="1.0" height="0.8" fill="rgb(148,148,148)"/><rect x="448.4" y="774.5" width="1.0" height="0.8" fill="rgb(167,167,167)"/><rect x="450.0" y="770.4" width="1.0" height="0.8" fill="rgb(138,138,138)"/><rect x="353.2" y="782.4" width="0.8" height="0.6" fill="rgb(188,188,188)"/><rect x="325.1" y="803.9" width="0.8" height="0.6" fill="rgb(143,143,143)"/><rect x="328.5" y="785.6" width="0.8" height="0.6" fill="rgb(161,161,161)"/><rect x="357.1" y="801.1" width="1.0" height="0.8" fill="rgb(175,175,175)"/><rect x="353.6" y="802.2" width="1.0" height="0.8" fill="rgb(185,185,185)"/><rect x="407.7" y="777.9" width="1.0" height="0.8" fill="rgb(182,182,182)"/><rect x="411.2" y="782.7" width="1.3" height="1.0" fill="rgb(188,188,188)"/><rect x="397.3" y="784.1" width="1.3" height="1.0" fill="rgb(157,157,157)"/><rect x="320.6" y="806.2" width="1.0" height="0.8" fill="rgb(177,177,177)"/><rect x="311.9" y="807.9" width="1.0" height="0.8" fill="rgb(200,200,200)"/><rect x="353.3" y="786.6" width="0.8" height="0.6" fill="rgb(233,233,233)"/><rect x="309.5" y="792.6" width="1.3" height="1.0" fill="rgb(186,186,186)"/><rect x="364.4" y="809.8" width="1.3" height="1.0" fill="rgb(152,152,152)"/><rect x="377.3" y="797.2" width="1.6" height="1.3" fill="rgb(136,136,136)"/><rect x="388.7" y="781.1" width="1.3" height="1.0" fill="rgb(229,229,229)"/><rect x="318.0" y="784.6" width="1.6" height="1.3" fill="rgb(147,147,147)"/><rect x="396.0" y="793.4" width="0.8" height="0.6" fill="rgb(139,139,139)"/><rect x="308.6" y="806.3" width="1.3" height="1.0" fill="rgb(163,163,163)"/><rect x="351.3" y="776.0" width="1.0" height="0.8" fill="rgb(181,181,181)"/><rect x="337.8" y="801.3" width="0.8" height="0.6" fill="rgb(132,132,132)"/><rect x="331.3" y="811.8" width="1.0" height="0.8" fill="rgb(113,113,113)"/><rect x="326.8" y="806.9" width="1.0" height="0.8" fill="rgb(228,228,228)"/><rect x="317.9" y="783.6" width="0.8" height="0.6" fill="rgb(126,126,126)"/><rect x="368.6" y="776.6" width="1.3" height="1.0" fill="rgb(145,145,145)"/><rect x="336.6" y="806.6" width="1.0" height="0.8" fill="rgb(192,192,192)"/><rect x="346.9" y="775.5" width="1.6" height="1.3" fill="rgb(174,174,174)"/><rect x="360.5" y="792.3" width="1.3" height="1.0" fill="rgb(121,121,121)"/><rect x="305.3" y="775.6" width="1.0" height="0.8" fill="rgb(167,167,167)"/><rect x="381.4" y="797.9" width="0.8" height="0.6" fill="rgb(181,181,181)"/><rect x="338.3" y="777.9" width="0.8" height="0.6" fill="rgb(230,230,230)"/><rect x="399.0" y="786.4" width="1.6" height="1.3" fill="rgb(115,115,115)"/><rect x="323.8" y="806.4" width="1.6" height="1.3" fill="rgb(208,208,208)"/><rect x="429.0" y="780.9" width="1.3" height="1.0" fill="rgb(148,148,148)"/><rect x="347.2" y="777.4" width="1.3" height="1.0" fill="rgb(207,207,207)"/><rect x="383.3" y="777.8" width="0.8" height="0.6" fill="rgb(188,188,188)"/><rect x="358.6" y="784.6" width="0.8" height="0.6" fill="rgb(223,223,223)"/><rect x="415.3" y="776.9" width="1.6" height="1.3" fill="rgb(226,226,226)"/><rect x="306.2" y="778.3" width="1.0" height="0.8" fill="rgb(164,164,164)"/><rect x="457.9" y="792.8" width="1.3" height="1.0" fill="rgb(218,218,218)"/><rect x="327.2" y="802.4" width="1.3" height="1.0" fill="rgb(235,235,235)"/><rect x="323.3" y="809.8" width="1.0" height="0.8" fill="rgb(161,161,161)"/><rect x="382.5" y="777.4" width="1.0" height="0.8" fill="rgb(234,234,234)"/><rect x="312.8" y="782.2" width="1.0" height="0.8" fill="rgb(171,171,171)"/><rect x="407.3" y="786.8" width="1.3" height="1.0" fill="rgb(192,192,192)"/><rect x="397.0" y="798.9" width="1.3" height="1.0" fill="rgb(120,120,120)"/><rect x="344.7" y="786.3" width="0.8" height="0.6" fill="rgb(120,120,120)"/><rect x="330.3" y="796.6" width="1.0" height="0.8" fill="rgb(138,138,138)"/><rect x="473.5" y="784.0" width="1.6" height="1.3" fill="rgb(235,235,235)"/><rect x="341.0" y="794.5" width="1.0" height="0.8" fill="rgb(141,141,141)"/><rect x="305.4" y="787.6" width="1.3" height="1.0" fill="rgb(119,119,119)"/><rect x="342.3" y="784.9" width="0.8" height="0.6" fill="rgb(154,154,154)"/><rect x="395.9" y="775.3" width="1.6" height="1.3" fill="rgb(185,185,185)"/><rect x="313.7" y="786.5" width="1.6" height="1.3" fill="rgb(178,178,178)"/><rect x="377.8" y="775.6" width="1.6" height="1.3" fill="rgb(216,216,216)"/><rect x="353.7" y="791.4" width="1.6" height="1.3" fill="rgb(115,115,115)"/><rect x="321.5" y="810.2" width="1.6" height="1.3" fill="rgb(236,236,236)"/><rect x="319.6" y="803.8" width="1.3" height="1.0" fill="rgb(151,151,151)"/><rect x="389.7" y="789.1" width="1.3" height="1.0" fill="rgb(121,121,121)"/><rect x="326.8" y="799.8" width="1.0" height="0.8" fill="rgb(158,158,158)"/><rect x="333.5" y="788.2" width="1.0" height="0.8" fill="rgb(111,111,111)"/><rect x="311.3" y="800.1" width="1.6" height="1.3" fill="rgb(188,188,188)"/><rect x="376.3" y="806.1" width="0.8" height="0.6" fill="rgb(224,224,224)"/><rect x="343.5" y="793.5" width="1.0" height="0.8" fill="rgb(154,154,154)"/><rect x="389.8" y="784.0" width="1.6" height="1.3" fill="rgb(222,222,222)"/><rect x="304.5" y="784.9" width="1.3" height="1.0" fill="rgb(137,137,137)"/><rect x="349.9" y="791.5" width="1.0" height="0.8" fill="rgb(117,117,117)"/><rect x="308.1" y="795.8" width="1.6" height="1.3" fill="rgb(150,150,150)"/><rect x="305.8" y="791.5" width="1.0" height="0.8" fill="rgb(233,233,233)"/><rect x="354.4" y="778.4" width="1.3" height="1.0" fill="rgb(133,133,133)"/><rect x="308.9" y="790.8" width="1.0" height="0.8" fill="rgb(171,171,171)"/><rect x="341.9" y="789.0" width="1.0" height="0.8" fill="rgb(173,173,173)"/><rect x="380.8" y="801.7" width="1.3" height="1.0" fill="rgb(153,153,153)"/><rect x="328.7" y="811.1" width="1.3" height="1.0" fill="rgb(165,165,165)"/><rect x="326.8" y="792.0" width="0.8" height="0.6" fill="rgb(232,232,232)"/><rect x="320.1" y="780.4" width="0.8" height="0.6" fill="rgb(199,199,199)"/><rect x="329.5" y="799.6" width="1.0" height="0.8" fill="rgb(197,197,197)"/><rect x="329.9" y="810.2" width="1.3" height="1.0" fill="rgb(235,235,235)"/><rect x="307.3" y="774.7" width="1.3" height="1.0" fill="rgb(116,116,116)"/><rect x="316.9" y="791.9" width="1.0" height="0.8" fill="rgb(110,110,110)"/><rect x="378.1" y="803.8" width="1.3" height="1.0" fill="rgb(163,163,163)"/><rect x="314.6" y="793.1" width="1.6" height="1.3" fill="rgb(131,131,131)"/><rect x="322.4" y="785.4" width="0.8" height="0.6" fill="rgb(218,218,218)"/><rect x="325.8" y="804.0" width="0.8" height="0.6" fill="rgb(200,200,200)"/><rect x="350.2" y="789.4" width="1.0" height="0.8" fill="rgb(209,209,209)"/><rect x="390.7" y="773.9" width="1.6" height="1.3" fill="rgb(202,202,202)"/><rect x="493.5" y="773.7" width="1.3" height="1.0" fill="rgb(218,218,218)"/><rect x="455.6" y="769.7" width="1.3" height="1.0" fill="rgb(218,218,218)"/><rect x="338.5" y="797.4" width="1.6" height="1.3" fill="rgb(152,152,152)"/><rect x="350.1" y="799.8" width="1.3" height="1.0" fill="rgb(116,116,116)"/><rect x="376.4" y="803.5" width="0.8" height="0.6" fill="rgb(223,223,223)"/><rect x="334.4" y="789.3" width="0.8" height="0.6" fill="rgb(214,214,214)"/><rect x="321.3" y="776.3" width="1.0" height="0.8" fill="rgb(175,175,175)"/><rect x="317.9" y="779.3" width="1.6" height="1.3" fill="rgb(117,117,117)"/><rect x="309.0" y="809.3" width="0.8" height="0.6" fill="rgb(230,230,230)"/><rect x="317.5" y="805.5" width="1.0" height="0.8" fill="rgb(138,138,138)"/><rect x="343.5" y="793.2" width="1.6" height="1.3" fill="rgb(158,158,158)"/><rect x="477.1" y="790.5" width="1.0" height="0.8" fill="rgb(209,209,209)"/><rect x="386.3" y="799.4" width="1.0" height="0.8" fill="rgb(238,238,238)"/><rect x="465.7" y="789.5" width="1.0" height="0.8" fill="rgb(139,139,139)"/><rect x="433.9" y="772.7" width="1.0" height="0.8" fill="rgb(210,210,210)"/><rect x="441.7" y="787.0" width="1.0" height="0.8" fill="rgb(158,158,158)"/><rect x="316.0" y="799.1" width="1.0" height="0.8" fill="rgb(230,230,230)"/><rect x="340.1" y="793.7" width="1.0" height="0.8" fill="rgb(184,184,184)"/><rect x="313.5" y="780.2" width="1.3" height="1.0" fill="rgb(214,214,214)"/><rect x="335.7" y="795.8" width="1.3" height="1.0" fill="rgb(230,230,230)"/><rect x="333.4" y="803.1" width="1.0" height="0.8" fill="rgb(175,175,175)"/><rect x="391.1" y="802.8" width="1.3" height="1.0" fill="rgb(227,227,227)"/><rect x="367.5" y="794.9" width="1.3" height="1.0" fill="rgb(154,154,154)"/><rect x="331.2" y="805.3" width="0.8" height="0.6" fill="rgb(191,191,191)"/><rect x="397.6" y="795.5" width="1.0" height="0.8" fill="rgb(166,166,166)"/><rect x="334.7" y="812.1" width="0.8" height="0.6" fill="rgb(148,148,148)"/><rect x="418.8" y="790.0" width="1.6" height="1.3" fill="rgb(177,177,177)"/><rect x="312.7" y="776.8" width="0.8" height="0.6" fill="rgb(170,170,170)"/><rect x="309.7" y="806.3" width="1.0" height="0.8" fill="rgb(165,165,165)"/><rect x="371.1" y="807.5" width="1.0" height="0.8" fill="rgb(110,110,110)"/><rect x="314.0" y="777.9" width="1.3" height="1.0" fill="rgb(237,237,237)"/><rect x="312.1" y="780.1" width="1.3" height="1.0" fill="rgb(235,235,235)"/><rect x="306.9" y="787.1" width="1.0" height="0.8" fill="rgb(220,220,220)"/><rect x="360.3" y="800.2" width="1.0" height="0.8" fill="rgb(200,200,200)"/><rect x="337.4" y="790.5" width="1.0" height="0.8" fill="rgb(123,123,123)"/><rect x="382.4" y="781.6" width="1.6" height="1.3" fill="rgb(220,220,220)"/><rect x="381.2" y="780.4" width="1.3" height="1.0" fill="rgb(173,173,173)"/><rect x="344.8" y="811.8" width="1.6" height="1.3" fill="rgb(133,133,133)"/><rect x="426.2" y="795.4" width="1.6" height="1.3" fill="rgb(211,211,211)"/><rect x="445.1" y="790.2" width="1.0" height="0.8" fill="rgb(205,205,205)"/><rect x="308.4" y="794.6" width="1.6" height="1.3" fill="rgb(171,171,171)"/><rect x="353.9" y="798.0" width="1.0" height="0.8" fill="rgb(174,174,174)"/><rect x="332.4" y="797.1" width="1.0" height="0.8" fill="rgb(163,163,163)"/><rect x="355.8" y="787.3" width="1.3" height="1.0" fill="rgb(120,120,120)"/><rect x="344.2" y="775.0" width="1.0" height="0.8" fill="rgb(209,209,209)"/><rect x="416.9" y="786.2" width="1.6" height="1.3" fill="rgb(205,205,205)"/><rect x="341.9" y="794.1" width="0.8" height="0.6" fill="rgb(112,112,112)"/><rect x="316.7" y="795.9" width="1.0" height="0.8" fill="rgb(193,193,193)"/><rect x="417.8" y="775.4" width="1.6" height="1.3" fill="rgb(143,143,143)"/><rect x="429.7" y="786.0" width="1.6" height="1.3" fill="rgb(169,169,169)"/><rect x="390.4" y="791.4" width="0.8" height="0.6" fill="rgb(152,152,152)"/><rect x="321.9" y="786.1" width="1.0" height="0.8" fill="rgb(202,202,202)"/><rect x="334.5" y="797.2" width="1.3" height="1.0" fill="rgb(233,233,233)"/><rect x="420.6" y="799.2" width="0.8" height="0.6" fill="rgb(116,116,116)"/><rect x="309.9" y="788.4" width="0.8" height="0.6" fill="rgb(213,213,213)"/><rect x="388.0" y="790.9" width="1.6" height="1.3" fill="rgb(201,201,201)"/><rect x="394.9" y="779.9" width="1.3" height="1.0" fill="rgb(135,135,135)"/><rect x="347.5" y="793.0" width="0.8" height="0.6" fill="rgb(169,169,169)"/><rect x="436.4" y="794.9" width="0.8" height="0.6" fill="rgb(238,238,238)"/><rect x="342.6" y="805.6" width="1.0" height="0.8" fill="rgb(218,218,218)"/><rect x="469.5" y="781.5" width="1.6" height="1.3" fill="rgb(223,223,223)"/><rect x="320.3" y="791.0" width="1.0" height="0.8" fill="rgb(175,175,175)"/><rect x="355.0" y="776.3" width="1.3" height="1.0" fill="rgb(173,173,173)"/><rect x="339.5" y="776.9" width="1.3" height="1.0" fill="rgb(125,125,125)"/><rect x="306.1" y="782.1" width="0.8" height="0.6" fill="rgb(190,190,190)"/><rect x="305.4" y="796.4" width="1.0" height="0.8" fill="rgb(113,113,113)"/><rect x="357.3" y="794.5" width="1.3" height="1.0" fill="rgb(211,211,211)"/><rect x="341.2" y="786.6" width="1.0" height="0.8" fill="rgb(110,110,110)"/><rect x="344.5" y="808.5" width="1.0" height="0.8" fill="rgb(227,227,227)"/><rect x="490.0" y="773.8" width="1.0" height="0.8" fill="rgb(218,218,218)"/><rect x="322.6" y="805.6" width="0.8" height="0.6" fill="rgb(156,156,156)"/><rect x="322.3" y="799.0" width="1.0" height="0.8" fill="rgb(171,171,171)"/><rect x="345.0" y="808.1" width="1.0" height="0.8" fill="rgb(236,236,236)"/><rect x="304.2" y="805.7" width="1.3" height="1.0" fill="rgb(197,197,197)"/><rect x="405.5" y="779.4" width="0.8" height="0.6" fill="rgb(153,153,153)"/><rect x="397.0" y="794.4" width="1.0" height="0.8" fill="rgb(158,158,158)"/><rect x="327.5" y="808.8" width="0.8" height="0.6" fill="rgb(119,119,119)"/><rect x="397.9" y="783.3" width="1.0" height="0.8" fill="rgb(236,236,236)"/><rect x="419.7" y="775.4" width="1.3" height="1.0" fill="rgb(215,215,215)"/><rect x="325.9" y="806.7" width="1.6" height="1.3" fill="rgb(161,161,161)"/><rect x="309.3" y="788.5" width="1.6" height="1.3" fill="rgb(237,237,237)"/><rect x="401.5" y="792.3" width="1.0" height="0.8" fill="rgb(231,231,231)"/><rect x="417.0" y="796.9" width="1.3" height="1.0" fill="rgb(126,126,126)"/><rect x="403.6" y="795.5" width="1.0" height="0.8" fill="rgb(186,186,186)"/><rect x="351.7" y="782.3" width="1.0" height="0.8" fill="rgb(141,141,141)"/><rect x="485.0" y="786.0" width="1.0" height="0.8" fill="rgb(169,169,169)"/><rect x="307.1" y="803.7" width="1.6" height="1.3" fill="rgb(125,125,125)"/><rect x="359.4" y="789.2" width="1.0" height="0.8" fill="rgb(197,197,197)"/><rect x="340.7" y="810.9" width="1.3" height="1.0" fill="rgb(208,208,208)"/><rect x="348.7" y="774.6" width="1.0" height="0.8" fill="rgb(160,160,160)"/><rect x="348.6" y="790.3" width="1.6" height="1.3" fill="rgb(210,210,210)"/><rect x="346.1" y="790.1" width="1.6" height="1.3" fill="rgb(126,126,126)"/><rect x="367.3" y="781.3" width="0.8" height="0.6" fill="rgb(230,230,230)"/><rect x="419.5" y="796.0" width="1.0" height="0.8" fill="rgb(167,167,167)"/><rect x="424.8" y="786.7" width="1.6" height="1.3" fill="rgb(228,228,228)"/><rect x="389.9" y="784.5" width="1.6" height="1.3" fill="rgb(120,120,120)"/><rect x="377.8" y="781.4" width="1.0" height="0.8" fill="rgb(227,227,227)"/><rect x="307.2" y="811.0" width="1.3" height="1.0" fill="rgb(194,194,194)"/><rect x="387.7" y="800.9" width="1.0" height="0.8" fill="rgb(120,120,120)"/><rect x="426.5" y="774.2" width="1.0" height="0.8" fill="rgb(179,179,179)"/><rect x="412.2" y="772.6" width="1.3" height="1.0" fill="rgb(235,235,235)"/><rect x="321.7" y="791.5" width="1.0" height="0.8" fill="rgb(232,232,232)"/><rect x="450.5" y="782.8" width="0.8" height="0.6" fill="rgb(236,236,236)"/><rect x="383.6" y="780.4" width="1.6" height="1.3" fill="rgb(209,209,209)"/><rect x="376.1" y="799.7" width="1.3" height="1.0" fill="rgb(134,134,134)"/><rect x="313.7" y="809.0" width="1.0" height="0.8" fill="rgb(234,234,234)"/><rect x="341.2" y="783.6" width="1.6" height="1.3" fill="rgb(236,236,236)"/><rect x="346.0" y="809.0" width="1.6" height="1.3" fill="rgb(172,172,172)"/><rect x="459.1" y="783.7" width="0.8" height="0.6" fill="rgb(190,190,190)"/><rect x="338.5" y="803.6" width="1.0" height="0.8" fill="rgb(181,181,181)"/><rect x="333.4" y="808.7" width="1.6" height="1.3" fill="rgb(216,216,216)"/><rect x="306.6" y="798.6" width="1.6" height="1.3" fill="rgb(233,233,233)"/><rect x="352.0" y="789.0" width="1.3" height="1.0" fill="rgb(158,158,158)"/><rect x="311.2" y="804.1" width="1.3" height="1.0" fill="rgb(125,125,125)"/><rect x="307.8" y="796.5" width="1.3" height="1.0" fill="rgb(201,201,201)"/><rect x="367.5" y="778.0" width="1.0" height="0.8" fill="rgb(178,178,178)"/><rect x="312.2" y="790.2" width="1.6" height="1.3" fill="rgb(235,235,235)"/><rect x="389.0" y="780.8" width="1.6" height="1.3" fill="rgb(236,236,236)"/><rect x="337.1" y="786.9" width="1.0" height="0.8" fill="rgb(180,180,180)"/><rect x="424.1" y="796.3" width="1.6" height="1.3" fill="rgb(158,158,158)"/><rect x="325.3" y="794.7" width="1.0" height="0.8" fill="rgb(229,229,229)"/><rect x="355.6" y="788.1" width="1.0" height="0.8" fill="rgb(239,239,239)"/><rect x="324.9" y="777.4" width="1.0" height="0.8" fill="rgb(163,163,163)"/><rect x="357.4" y="803.7" width="1.0" height="0.8" fill="rgb(227,227,227)"/><rect x="384.2" y="791.0" width="0.8" height="0.6" fill="rgb(141,141,141)"/><rect x="331.7" y="784.8" width="1.0" height="0.8" fill="rgb(185,185,185)"/><rect x="426.2" y="786.9" width="0.8" height="0.6" fill="rgb(202,202,202)"/><rect x="474.9" y="774.0" width="1.3" height="1.0" fill="rgb(133,133,133)"/><rect x="367.3" y="785.8" width="1.0" height="0.8" fill="rgb(195,195,195)"/><rect x="355.1" y="775.1" width="1.3" height="1.0" fill="rgb(127,127,127)"/><rect x="439.0" y="773.7" width="1.0" height="0.8" fill="rgb(228,228,228)"/><rect x="329.7" y="808.0" width="1.6" height="1.3" fill="rgb(209,209,209)"/><rect x="327.4" y="811.6" width="1.3" height="1.0" fill="rgb(223,223,223)"/><rect x="335.6" y="795.8" width="1.6" height="1.3" fill="rgb(114,114,114)"/><rect x="331.6" y="784.6" width="1.0" height="0.8" fill="rgb(158,158,158)"/><rect x="442.5" y="774.1" width="1.3" height="1.0" fill="rgb(167,167,167)"/><rect x="348.9" y="807.0" width="0.8" height="0.6" fill="rgb(229,229,229)"/><rect x="407.6" y="801.4" width="1.3" height="1.0" fill="rgb(127,127,127)"/><rect x="434.0" y="778.4" width="1.0" height="0.8" fill="rgb(221,221,221)"/><rect x="438.6" y="793.9" width="1.0" height="0.8" fill="rgb(178,178,178)"/><rect x="475.0" y="775.9" width="1.0" height="0.8" fill="rgb(207,207,207)"/><rect x="311.2" y="792.1" width="1.0" height="0.8" fill="rgb(178,178,178)"/><rect x="407.7" y="777.9" width="1.6" height="1.3" fill="rgb(225,225,225)"/><rect x="357.5" y="791.8" width="1.0" height="0.8" fill="rgb(183,183,183)"/><rect x="313.8" y="784.8" width="1.3" height="1.0" fill="rgb(129,129,129)"/><rect x="398.7" y="775.3" width="1.3" height="1.0" fill="rgb(193,193,193)"/><rect x="322.2" y="775.5" width="1.6" height="1.3" fill="rgb(231,231,231)"/><rect x="394.1" y="798.6" width="0.8" height="0.6" fill="rgb(214,214,214)"/><rect x="319.6" y="787.4" width="1.3" height="1.0" fill="rgb(129,129,129)"/><rect x="303.4" y="789.4" width="1.0" height="0.8" fill="rgb(174,174,174)"/><rect x="335.8" y="807.0" width="1.0" height="0.8" fill="rgb(172,172,172)"/><rect x="327.6" y="796.9" width="1.3" height="1.0" fill="rgb(205,205,205)"/><rect x="323.9" y="809.2" width="1.6" height="1.3" fill="rgb(190,190,190)"/><rect x="410.1" y="788.2" width="0.8" height="0.6" fill="rgb(232,232,232)"/><rect x="376.6" y="807.2" width="1.0" height="0.8" fill="rgb(219,219,219)"/><rect x="348.2" y="789.6" width="1.6" height="1.3" fill="rgb(153,153,153)"/><rect x="411.2" y="781.1" width="0.8" height="0.6" fill="rgb(232,232,232)"/><rect x="304.5" y="786.7" width="0.8" height="0.6" fill="rgb(138,138,138)"/><rect x="351.6" y="786.2" width="1.0" height="0.8" fill="rgb(191,191,191)"/><rect x="334.5" y="810.1" width="0.8" height="0.6" fill="rgb(219,219,219)"/><rect x="403.0" y="778.7" width="1.0" height="0.8" fill="rgb(238,238,238)"/><rect x="338.0" y="778.0" width="1.0" height="0.8" fill="rgb(204,204,204)"/><rect x="491.2" y="786.3" width="1.0" height="0.8" fill="rgb(126,126,126)"/><rect x="313.8" y="804.9" width="1.6" height="1.3" fill="rgb(217,217,217)"/><rect x="353.7" y="782.4" width="1.0" height="0.8" fill="rgb(140,140,140)"/><rect x="395.9" y="779.6" width="0.8" height="0.6" fill="rgb(140,140,140)"/><rect x="332.6" y="808.4" width="1.0" height="0.8" fill="rgb(114,114,114)"/><rect x="308.0" y="782.5" width="1.6" height="1.3" fill="rgb(148,148,148)"/><rect x="321.6" y="807.4" width="1.0" height="0.8" fill="rgb(217,217,217)"/><rect x="378.8" y="783.3" width="1.0" height="0.8" fill="rgb(187,187,187)"/><rect x="407.9" y="795.7" width="0.8" height="0.6" fill="rgb(190,190,190)"/><rect x="323.7" y="779.7" width="1.0" height="0.8" fill="rgb(167,167,167)"/><rect x="384.6" y="782.6" width="1.0" height="0.8" fill="rgb(158,158,158)"/><rect x="470.8" y="782.9" width="1.0" height="0.8" fill="rgb(154,154,154)"/><rect x="380.7" y="778.2" width="0.8" height="0.6" fill="rgb(145,145,145)"/><rect x="394.5" y="792.1" width="0.8" height="0.6" fill="rgb(146,146,146)"/><rect x="345.3" y="801.9" width="1.0" height="0.8" fill="rgb(140,140,140)"/><rect x="335.6" y="798.9" width="1.0" height="0.8" fill="rgb(120,120,120)"/><rect x="341.1" y="807.9" width="1.0" height="0.8" fill="rgb(196,196,196)"/><rect x="357.5" y="801.8" width="1.0" height="0.8" fill="rgb(181,181,181)"/><rect x="312.2" y="775.2" width="0.8" height="0.6" fill="rgb(149,149,149)"/><rect x="352.2" y="811.3" width="0.8" height="0.6" fill="rgb(199,199,199)"/><rect x="463.1" y="794.9" width="1.0" height="0.8" fill="rgb(114,114,114)"/><rect x="304.4" y="808.1" width="1.0" height="0.8" fill="rgb(128,128,128)"/><rect x="457.2" y="776.1" width="1.3" height="1.0" fill="rgb(142,142,142)"/><rect x="324.7" y="779.5" width="1.3" height="1.0" fill="rgb(171,171,171)"/><rect x="321.8" y="797.3" width="1.0" height="0.8" fill="rgb(228,228,228)"/><rect x="354.9" y="777.2" width="0.8" height="0.6" fill="rgb(230,230,230)"/><rect x="360.0" y="796.9" width="1.6" height="1.3" fill="rgb(117,117,117)"/><rect x="396.4" y="787.3" width="1.6" height="1.3" fill="rgb(117,117,117)"/><rect x="386.5" y="792.5" width="0.8" height="0.6" fill="rgb(182,182,182)"/><rect x="319.4" y="795.2" width="1.0" height="0.8" fill="rgb(235,235,235)"/><rect x="373.4" y="778.4" width="1.3" height="1.0" fill="rgb(231,231,231)"/><rect x="407.3" y="801.3" width="0.8" height="0.6" fill="rgb(234,234,234)"/><rect x="305.4" y="792.1" width="1.6" height="1.3" fill="rgb(210,210,210)"/><rect x="460.2" y="789.2" width="1.6" height="1.3" fill="rgb(121,121,121)"/><rect x="325.3" y="778.2" width="1.6" height="1.3" fill="rgb(197,197,197)"/><rect x="332.9" y="774.6" width="0.8" height="0.6" fill="rgb(131,131,131)"/><rect x="325.3" y="783.8" width="1.3" height="1.0" fill="rgb(190,190,190)"/><rect x="377.8" y="793.7" width="1.0" height="0.8" fill="rgb(133,133,133)"/><rect x="336.6" y="796.0" width="1.0" height="0.8" fill="rgb(191,191,191)"/><rect x="311.8" y="778.1" width="1.6" height="1.3" fill="rgb(141,141,141)"/><rect x="320.2" y="792.5" width="1.6" height="1.3" fill="rgb(138,138,138)"/><rect x="335.4" y="803.5" width="0.8" height="0.6" fill="rgb(209,209,209)"/><rect x="455.0" y="790.6" width="1.0" height="0.8" fill="rgb(140,140,140)"/><rect x="448.9" y="794.2" width="1.6" height="1.3" fill="rgb(150,150,150)"/><rect x="354.5" y="810.2" width="1.0" height="0.8" fill="rgb(164,164,164)"/><rect x="401.7" y="802.8" width="1.6" height="1.3" fill="rgb(148,148,148)"/><rect x="316.8" y="804.4" width="0.8" height="0.6" fill="rgb(140,140,140)"/><rect x="302.5" y="804.5" width="1.6" height="1.3" fill="rgb(161,161,161)"/><rect x="366.2" y="801.5" width="1.3" height="1.0" fill="rgb(122,122,122)"/><rect x="306.5" y="789.0" width="0.8" height="0.6" fill="rgb(190,190,190)"/><rect x="330.2" y="809.4" width="1.3" height="1.0" fill="rgb(116,116,116)"/><rect x="420.8" y="790.2" width="1.0" height="0.8" fill="rgb(136,136,136)"/><rect x="323.8" y="792.7" width="1.0" height="0.8" fill="rgb(166,166,166)"/><rect x="312.6" y="787.5" width="1.6" height="1.3" fill="rgb(202,202,202)"/><rect x="331.2" y="807.9" width="1.3" height="1.0" fill="rgb(121,121,121)"/><rect x="412.0" y="797.6" width="1.0" height="0.8" fill="rgb(123,123,123)"/><rect x="331.4" y="793.5" width="1.0" height="0.8" fill="rgb(226,226,226)"/><rect x="363.3" y="796.8" width="1.0" height="0.8" fill="rgb(161,161,161)"/><rect x="348.8" y="797.4" width="1.0" height="0.8" fill="rgb(208,208,208)"/><rect x="314.0" y="776.9" width="1.0" height="0.8" fill="rgb(144,144,144)"/><rect x="339.2" y="796.9" width="0.8" height="0.6" fill="rgb(207,207,207)"/><rect x="406.7" y="799.1" width="1.0" height="0.8" fill="rgb(160,160,160)"/><rect x="440.9" y="777.9" width="0.8" height="0.6" fill="rgb(196,196,196)"/><rect x="390.8" y="806.1" width="1.0" height="0.8" fill="rgb(134,134,134)"/><rect x="427.6" y="786.7" width="0.8" height="0.6" fill="rgb(228,228,228)"/><rect x="321.9" y="802.6" width="0.8" height="0.6" fill="rgb(196,196,196)"/><rect x="330.5" y="809.2" width="1.6" height="1.3" fill="rgb(215,215,215)"/><rect x="408.8" y="777.5" width="1.6" height="1.3" fill="rgb(236,236,236)"/><rect x="360.6" y="776.8" width="0.8" height="0.6" fill="rgb(235,235,235)"/><rect x="352.1" y="800.9" width="1.0" height="0.8" fill="rgb(114,114,114)"/><rect x="312.5" y="788.0" width="1.3" height="1.0" fill="rgb(133,133,133)"/><rect x="305.2" y="788.9" width="1.3" height="1.0" fill="rgb(152,152,152)"/><rect x="401.9" y="784.3" width="0.8" height="0.6" fill="rgb(127,127,127)"/><rect x="314.6" y="786.7" width="1.0" height="0.8" fill="rgb(127,127,127)"/><rect x="469.3" y="771.7" width="1.6" height="1.3" fill="rgb(198,198,198)"/><rect x="320.3" y="799.7" width="1.3" height="1.0" fill="rgb(200,200,200)"/><rect x="324.2" y="774.5" width="1.3" height="1.0" fill="rgb(190,190,190)"/><rect x="390.6" y="777.7" width="1.3" height="1.0" fill="rgb(236,236,236)"/><rect x="320.5" y="776.8" width="1.0" height="0.8" fill="rgb(230,230,230)"/><rect x="332.1" y="806.2" width="0.8" height="0.6" fill="rgb(121,121,121)"/><rect x="364.0" y="807.4" width="1.6" height="1.3" fill="rgb(115,115,115)"/><rect x="381.8" y="803.0" width="0.8" height="0.6" fill="rgb(159,159,159)"/><rect x="343.5" y="778.4" width="1.0" height="0.8" fill="rgb(166,166,166)"/><rect x="305.6" y="773.9" width="1.3" height="1.0" fill="rgb(158,158,158)"/><rect x="370.5" y="791.3" width="1.0" height="0.8" fill="rgb(200,200,200)"/><rect x="468.4" y="783.9" width="1.0" height="0.8" fill="rgb(172,172,172)"/><rect x="399.2" y="787.5" width="1.0" height="0.8" fill="rgb(147,147,147)"/><rect x="330.1" y="778.4" width="1.3" height="1.0" fill="rgb(119,119,119)"/><rect x="308.0" y="808.2" width="1.3" height="1.0" fill="rgb(121,121,121)"/><rect x="312.2" y="777.9" width="1.0" height="0.8" fill="rgb(131,131,131)"/><rect x="356.2" y="780.4" width="1.3" height="1.0" fill="rgb(163,163,163)"/><rect x="463.7" y="791.0" width="1.6" height="1.3" fill="rgb(218,218,218)"/><rect x="314.4" y="775.2" width="1.6" height="1.3" fill="rgb(226,226,226)"/><rect x="306.8" y="776.1" width="1.6" height="1.3" fill="rgb(115,115,115)"/><rect x="313.8" y="799.7" width="0.8" height="0.6" fill="rgb(123,123,123)"/><rect x="348.2" y="789.4" width="1.0" height="0.8" fill="rgb(232,232,232)"/><rect x="343.1" y="796.1" width="1.3" height="1.0" fill="rgb(207,207,207)"/><rect x="426.8" y="783.5" width="1.3" height="1.0" fill="rgb(199,199,199)"/><rect x="311.2" y="790.4" width="1.0" height="0.8" fill="rgb(198,198,198)"/><rect x="351.0" y="804.0" width="1.0" height="0.8" fill="rgb(164,164,164)"/><rect x="385.9" y="776.6" width="0.8" height="0.6" fill="rgb(128,128,128)"/><rect x="351.7" y="779.3" width="1.0" height="0.8" fill="rgb(207,207,207)"/><rect x="302.8" y="799.0" width="1.3" height="1.0" fill="rgb(123,123,123)"/><rect x="345.1" y="789.5" width="1.0" height="0.8" fill="rgb(160,160,160)"/><rect x="321.0" y="810.2" width="1.3" height="1.0" fill="rgb(186,186,186)"/><rect x="357.4" y="808.7" width="1.0" height="0.8" fill="rgb(177,177,177)"/><rect x="347.6" y="777.9" width="1.0" height="0.8" fill="rgb(161,161,161)"/><rect x="412.2" y="780.5" width="1.0" height="0.8" fill="rgb(136,136,136)"/><rect x="329.7" y="795.7" width="1.6" height="1.3" fill="rgb(136,136,136)"/><rect x="348.5" y="807.6" width="1.6" height="1.3" fill="rgb(233,233,233)"/><rect x="334.5" y="800.2" width="1.3" height="1.0" fill="rgb(122,122,122)"/><rect x="331.3" y="783.5" width="1.0" height="0.8" fill="rgb(165,165,165)"/><rect x="327.6" y="777.1" width="0.8" height="0.6" fill="rgb(192,192,192)"/><rect x="330.2" y="787.1" width="1.0" height="0.8" fill="rgb(113,113,113)"/><rect x="320.9" y="804.4" width="1.0" height="0.8" fill="rgb(171,171,171)"/><rect x="343.6" y="774.7" width="1.6" height="1.3" fill="rgb(123,123,123)"/><rect x="360.8" y="807.0" width="1.0" height="0.8" fill="rgb(144,144,144)"/><rect x="437.7" y="772.1" width="1.6" height="1.3" fill="rgb(163,163,163)"/><rect x="328.8" y="810.2" width="1.0" height="0.8" fill="rgb(235,235,235)"/><rect x="469.4" y="772.8" width="1.0" height="0.8" fill="rgb(135,135,135)"/><rect x="370.1" y="796.8" width="1.3" height="1.0" fill="rgb(130,130,130)"/><rect x="408.1" y="785.7" width="1.0" height="0.8" fill="rgb(225,225,225)"/><rect x="326.9" y="779.7" width="1.6" height="1.3" fill="rgb(164,164,164)"/><rect x="322.9" y="807.1" width="1.0" height="0.8" fill="rgb(226,226,226)"/><rect x="305.2" y="811.0" width="1.0" height="0.8" fill="rgb(134,134,134)"/><rect x="349.0" y="802.4" width="0.8" height="0.6" fill="rgb(224,224,224)"/><rect x="336.9" y="799.9" width="0.8" height="0.6" fill="rgb(226,226,226)"/><rect x="342.3" y="789.9" width="0.8" height="0.6" fill="rgb(180,180,180)"/><rect x="419.6" y="780.9" width="1.3" height="1.0" fill="rgb(128,128,128)"/><rect x="393.8" y="785.1" width="1.0" height="0.8" fill="rgb(227,227,227)"/><rect x="345.9" y="795.4" width="1.0" height="0.8" fill="rgb(216,216,216)"/><rect x="321.7" y="794.9" width="0.8" height="0.6" fill="rgb(134,134,134)"/><rect x="317.2" y="809.7" width="1.3" height="1.0" fill="rgb(120,120,120)"/><rect x="303.0" y="793.8" width="1.6" height="1.3" fill="rgb(227,227,227)"/><rect x="329.3" y="784.8" width="1.3" height="1.0" fill="rgb(116,116,116)"/><rect x="490.1" y="768.7" width="1.0" height="0.8" fill="rgb(152,152,152)"/><rect x="403.3" y="802.4" width="1.3" height="1.0" fill="rgb(162,162,162)"/><rect x="385.3" y="775.5" width="1.6" height="1.3" fill="rgb(130,130,130)"/><rect x="343.1" y="781.2" width="1.6" height="1.3" fill="rgb(213,213,213)"/><rect x="375.1" y="777.9" width="1.0" height="0.8" fill="rgb(124,124,124)"/><rect x="315.6" y="785.4" width="1.6" height="1.3" fill="rgb(189,189,189)"/><rect x="354.8" y="801.1" width="1.0" height="0.8" fill="rgb(127,127,127)"/><rect x="400.1" y="788.8" width="1.3" height="1.0" fill="rgb(197,197,197)"/><rect x="329.8" y="789.4" width="1.3" height="1.0" fill="rgb(171,171,171)"/><rect x="428.6" y="788.3" width="1.0" height="0.8" fill="rgb(130,130,130)"/><rect x="315.6" y="811.2" width="0.8" height="0.6" fill="rgb(127,127,127)"/><rect x="305.5" y="790.8" width="1.6" height="1.3" fill="rgb(144,144,144)"/><rect x="428.6" y="780.4" width="1.3" height="1.0" fill="rgb(216,216,216)"/><rect x="374.0" y="786.2" width="0.8" height="0.6" fill="rgb(128,128,128)"/><rect x="389.0" y="799.4" width="1.6" height="1.3" fill="rgb(156,156,156)"/><rect x="428.3" y="791.0" width="1.6" height="1.3" fill="rgb(206,206,206)"/><rect x="437.1" y="770.9" width="1.6" height="1.3" fill="rgb(236,236,236)"/><rect x="342.2" y="777.4" width="0.8" height="0.6" fill="rgb(183,183,183)"/><rect x="457.1" y="787.4" width="0.8" height="0.6" fill="rgb(197,197,197)"/><rect x="336.4" y="792.3" width="1.6" height="1.3" fill="rgb(141,141,141)"/><rect x="308.3" y="786.2" width="1.0" height="0.8" fill="rgb(137,137,137)"/><rect x="327.5" y="791.7" width="0.8" height="0.6" fill="rgb(185,185,185)"/><rect x="355.8" y="801.8" width="1.0" height="0.8" fill="rgb(117,117,117)"/><rect x="402.9" y="800.3" width="1.6" height="1.3" fill="rgb(196,196,196)"/><rect x="333.8" y="790.4" width="1.0" height="0.8" fill="rgb(157,157,157)"/><rect x="349.8" y="799.7" width="1.6" height="1.3" fill="rgb(203,203,203)"/><rect x="359.3" y="809.8" width="1.6" height="1.3" fill="rgb(127,127,127)"/><rect x="422.6" y="793.1" width="0.8" height="0.6" fill="rgb(203,203,203)"/><rect x="385.0" y="794.9" width="0.8" height="0.6" fill="rgb(147,147,147)"/><rect x="339.3" y="800.1" width="1.3" height="1.0" fill="rgb(232,232,232)"/><rect x="362.3" y="778.0" width="1.0" height="0.8" fill="rgb(129,129,129)"/><rect x="442.7" y="771.0" width="1.0" height="0.8" fill="rgb(123,123,123)"/><rect x="320.9" y="807.4" width="1.0" height="0.8" fill="rgb(117,117,117)"/><rect x="368.4" y="775.4" width="1.0" height="0.8" fill="rgb(180,180,180)"/><rect x="310.5" y="783.0" width="1.6" height="1.3" fill="rgb(177,177,177)"/><rect x="338.0" y="783.5" width="1.0" height="0.8" fill="rgb(188,188,188)"/><rect x="315.6" y="807.0" width="1.6" height="1.3" fill="rgb(225,225,225)"/><rect x="312.1" y="794.0" width="1.0" height="0.8" fill="rgb(150,150,150)"/><rect x="304.4" y="792.4" width="1.3" height="1.0" fill="rgb(204,204,204)"/><rect x="340.8" y="807.5" width="1.6" height="1.3" fill="rgb(193,193,193)"/><rect x="315.9" y="801.4" width="1.3" height="1.0" fill="rgb(124,124,124)"/><rect x="351.4" y="775.9" width="1.3" height="1.0" fill="rgb(144,144,144)"/><rect x="371.2" y="796.0" width="1.0" height="0.8" fill="rgb(156,156,156)"/><rect x="348.2" y="793.5" width="1.0" height="0.8" fill="rgb(170,170,170)"/><rect x="357.4" y="781.4" width="1.6" height="1.3" fill="rgb(174,174,174)"/><rect x="324.0" y="776.4" width="0.8" height="0.6" fill="rgb(167,167,167)"/><rect x="330.7" y="805.7" width="1.0" height="0.8" fill="rgb(130,130,130)"/><rect x="329.6" y="790.6" width="1.3" height="1.0" fill="rgb(155,155,155)"/><rect x="319.0" y="800.4" width="1.6" height="1.3" fill="rgb(115,115,115)"/><rect x="378.6" y="802.2" width="1.6" height="1.3" fill="rgb(175,175,175)"/><rect x="339.5" y="782.5" width="1.0" height="0.8" fill="rgb(228,228,228)"/><rect x="331.2" y="784.1" width="1.6" height="1.3" fill="rgb(172,172,172)"/><rect x="379.8" y="807.3" width="1.3" height="1.0" fill="rgb(222,222,222)"/><rect x="361.3" y="778.1" width="0.8" height="0.6" fill="rgb(227,227,227)"/><rect x="337.8" y="783.4" width="1.3" height="1.0" fill="rgb(220,220,220)"/><rect x="315.7" y="781.7" width="1.0" height="0.8" fill="rgb(171,171,171)"/><rect x="322.8" y="792.5" width="1.6" height="1.3" fill="rgb(161,161,161)"/><rect x="350.3" y="797.0" width="1.3" height="1.0" fill="rgb(221,221,221)"/><rect x="377.0" y="796.0" width="0.8" height="0.6" fill="rgb(149,149,149)"/><rect x="369.9" y="778.5" width="1.3" height="1.0" fill="rgb(163,163,163)"/><rect x="337.4" y="778.9" width="0.8" height="0.6" fill="rgb(215,215,215)"/><rect x="309.5" y="804.2" width="0.8" height="0.6" fill="rgb(201,201,201)"/><rect x="405.1" y="790.3" width="0.8" height="0.6" fill="rgb(145,145,145)"/><rect x="341.7" y="775.1" width="1.0" height="0.8" fill="rgb(146,146,146)"/><rect x="376.4" y="800.3" width="1.0" height="0.8" fill="rgb(175,175,175)"/><rect x="334.5" y="809.6" width="0.8" height="0.6" fill="rgb(124,124,124)"/><rect x="322.0" y="804.6" width="0.8" height="0.6" fill="rgb(202,202,202)"/><rect x="430.4" y="786.2" width="1.3" height="1.0" fill="rgb(183,183,183)"/><rect x="321.1" y="811.6" width="1.6" height="1.3" fill="rgb(122,122,122)"/><rect x="318.8" y="780.4" width="0.8" height="0.6" fill="rgb(178,178,178)"/><rect x="458.9" y="780.7" width="0.8" height="0.6" fill="rgb(132,132,132)"/><rect x="485.8" y="776.7" width="1.0" height="0.8" fill="rgb(203,203,203)"/><rect x="483.1" y="770.8" width="1.3" height="1.0" fill="rgb(158,158,158)"/><rect x="399.2" y="781.9" width="0.8" height="0.6" fill="rgb(215,215,215)"/><rect x="367.0" y="789.0" width="1.3" height="1.0" fill="rgb(146,146,146)"/><rect x="318.0" y="808.6" width="1.0" height="0.8" fill="rgb(165,165,165)"/><rect x="351.5" y="792.3" width="1.6" height="1.3" fill="rgb(193,193,193)"/><rect x="407.1" y="780.8" width="0.8" height="0.6" fill="rgb(111,111,111)"/><rect x="416.3" y="774.3" width="1.3" height="1.0" fill="rgb(233,233,233)"/><rect x="348.8" y="784.3" width="1.6" height="1.3" fill="rgb(233,233,233)"/><rect x="321.3" y="780.8" width="1.3" height="1.0" fill="rgb(181,181,181)"/><rect x="358.9" y="806.2" width="1.3" height="1.0" fill="rgb(206,206,206)"/><rect x="336.1" y="785.8" width="0.8" height="0.6" fill="rgb(118,118,118)"/><rect x="350.2" y="787.7" width="0.8" height="0.6" fill="rgb(146,146,146)"/><rect x="374.7" y="781.5" width="0.8" height="0.6" fill="rgb(137,137,137)"/><rect x="453.3" y="792.3" width="0.8" height="0.6" fill="rgb(211,211,211)"/><rect x="303.0" y="794.6" width="1.3" height="1.0" fill="rgb(171,171,171)"/><rect x="414.7" y="773.3" width="1.0" height="0.8" fill="rgb(123,123,123)"/><rect x="343.5" y="796.5" width="1.3" height="1.0" fill="rgb(163,163,163)"/><rect x="342.5" y="788.7" width="1.3" height="1.0" fill="rgb(239,239,239)"/><rect x="387.4" y="800.0" width="1.0" height="0.8" fill="rgb(158,158,158)"/><rect x="355.0" y="779.3" width="1.3" height="1.0" fill="rgb(119,119,119)"/><rect x="381.7" y="779.3" width="1.0" height="0.8" fill="rgb(126,126,126)"/><rect x="327.2" y="791.0" width="0.8" height="0.6" fill="rgb(160,160,160)"/><rect x="379.4" y="781.6" width="1.0" height="0.8" fill="rgb(194,194,194)"/><rect x="443.2" y="772.3" width="1.6" height="1.3" fill="rgb(196,196,196)"/><rect x="362.1" y="783.7" width="1.0" height="0.8" fill="rgb(221,221,221)"/><rect x="342.1" y="789.6" width="1.6" height="1.3" fill="rgb(189,189,189)"/><rect x="341.9" y="799.0" width="1.0" height="0.8" fill="rgb(138,138,138)"/><rect x="323.7" y="805.8" width="1.0" height="0.8" fill="rgb(173,173,173)"/><rect x="309.6" y="807.3" width="1.6" height="1.3" fill="rgb(198,198,198)"/><rect x="351.4" y="784.8" width="0.8" height="0.6" fill="rgb(130,130,130)"/><rect x="315.9" y="797.6" width="1.0" height="0.8" fill="rgb(135,135,135)"/><rect x="355.9" y="799.3" width="1.3" height="1.0" fill="rgb(169,169,169)"/><rect x="333.4" y="783.4" width="1.0" height="0.8" fill="rgb(205,205,205)"/><rect x="374.1" y="794.1" width="1.0" height="0.8" fill="rgb(206,206,206)"/><rect x="373.6" y="776.0" width="1.0" height="0.8" fill="rgb(215,215,215)"/><rect x="438.2" y="781.1" width="1.3" height="1.0" fill="rgb(115,115,115)"/><rect x="325.6" y="783.7" width="0.8" height="0.6" fill="rgb(228,228,228)"/><rect x="354.7" y="796.7" width="1.0" height="0.8" fill="rgb(183,183,183)"/><rect x="319.1" y="787.0" width="1.0" height="0.8" fill="rgb(130,130,130)"/><rect x="335.0" y="804.9" width="1.0" height="0.8" fill="rgb(166,166,166)"/><rect x="306.4" y="782.2" width="1.6" height="1.3" fill="rgb(153,153,153)"/><rect x="306.4" y="790.2" width="1.0" height="0.8" fill="rgb(133,133,133)"/><rect x="457.4" y="783.4" width="1.0" height="0.8" fill="rgb(118,118,118)"/><rect x="332.1" y="788.4" width="1.0" height="0.8" fill="rgb(139,139,139)"/><rect x="329.4" y="796.9" width="0.8" height="0.6" fill="rgb(129,129,129)"/><rect x="334.6" y="795.1" width="1.0" height="0.8" fill="rgb(136,136,136)"/><rect x="326.2" y="789.2" width="1.3" height="1.0" fill="rgb(225,225,225)"/><rect x="305.7" y="793.2" width="0.8" height="0.6" fill="rgb(163,163,163)"/><rect x="456.1" y="775.6" width="1.6" height="1.3" fill="rgb(233,233,233)"/><rect x="322.5" y="795.4" width="0.8" height="0.6" fill="rgb(153,153,153)"/><rect x="378.8" y="793.8" width="1.0" height="0.8" fill="rgb(158,158,158)"/><rect x="318.0" y="797.6" width="1.0" height="0.8" fill="rgb(177,177,177)"/><rect x="308.2" y="774.9" width="1.3" height="1.0" fill="rgb(197,197,197)"/><rect x="358.8" y="776.0" width="1.3" height="1.0" fill="rgb(127,127,127)"/><rect x="411.1" y="797.5" width="1.0" height="0.8" fill="rgb(172,172,172)"/><rect x="394.6" y="779.0" width="1.0" height="0.8" fill="rgb(239,239,239)"/><rect x="380.7" y="782.5" width="1.0" height="0.8" fill="rgb(145,145,145)"/><rect x="372.5" y="803.8" width="0.8" height="0.6" fill="rgb(199,199,199)"/><rect x="302.8" y="792.7" width="1.0" height="0.8" fill="rgb(131,131,131)"/><rect x="424.1" y="791.7" width="0.8" height="0.6" fill="rgb(220,220,220)"/><rect x="346.7" y="795.0" width="1.3" height="1.0" fill="rgb(212,212,212)"/><rect x="366.4" y="791.2" width="1.6" height="1.3" fill="rgb(149,149,149)"/><rect x="354.2" y="804.3" width="1.6" height="1.3" fill="rgb(142,142,142)"/><rect x="302.6" y="799.8" width="1.0" height="0.8" fill="rgb(139,139,139)"/><rect x="369.2" y="792.5" width="1.6" height="1.3" fill="rgb(225,225,225)"/><rect x="322.9" y="805.6" width="1.6" height="1.3" fill="rgb(155,155,155)"/><rect x="313.7" y="780.5" width="0.8" height="0.6" fill="rgb(142,142,142)"/><rect x="344.5" y="805.8" width="1.3" height="1.0" fill="rgb(168,168,168)"/><rect x="324.1" y="804.9" width="1.3" height="1.0" fill="rgb(165,165,165)"/><rect x="343.8" y="793.1" width="1.6" height="1.3" fill="rgb(207,207,207)"/><rect x="329.3" y="791.3" width="1.0" height="0.8" fill="rgb(168,168,168)"/><rect x="356.6" y="778.1" width="1.3" height="1.0" fill="rgb(206,206,206)"/><rect x="303.5" y="784.7" width="1.0" height="0.8" fill="rgb(229,229,229)"/><rect x="354.3" y="788.6" width="1.0" height="0.8" fill="rgb(149,149,149)"/><rect x="304.3" y="783.2" width="1.0" height="0.8" fill="rgb(112,112,112)"/><rect x="332.8" y="785.2" width="1.0" height="0.8" fill="rgb(166,166,166)"/><rect x="358.6" y="801.2" width="1.6" height="1.3" fill="rgb(232,232,232)"/><rect x="324.0" y="799.4" width="1.0" height="0.8" fill="rgb(183,183,183)"/><rect x="312.3" y="775.3" width="1.0" height="0.8" fill="rgb(151,151,151)"/><rect x="384.8" y="800.1" width="1.0" height="0.8" fill="rgb(166,166,166)"/><rect x="394.1" y="782.8" width="1.0" height="0.8" fill="rgb(123,123,123)"/><rect x="328.2" y="804.0" width="0.8" height="0.6" fill="rgb(219,219,219)"/><rect x="471.1" y="779.1" width="0.8" height="0.6" fill="rgb(224,224,224)"/><rect x="302.4" y="773.3" width="3.4" height="1.1" fill="rgb(218,218,218)" opacity="0.75"/><rect x="307.2" y="773.4" width="2.7" height="1.1" fill="rgb(233,233,233)" opacity="0.75"/><rect x="310.0" y="773.4" width="3.1" height="1.1" fill="rgb(233,233,233)" opacity="0.75"/><rect x="314.6" y="773.5" width="4.8" height="1.1" fill="rgb(229,229,229)" opacity="0.75"/><rect x="319.5" y="773.6" width="2.1" height="1.1" fill="rgb(212,212,212)" opacity="0.75"/><rect x="322.2" y="773.7" width="3.8" height="1.1" fill="rgb(195,195,195)" opacity="0.75"/><rect x="326.1" y="773.7" width="3.2" height="1.1" fill="rgb(230,230,230)" opacity="0.75"/><rect x="329.5" y="773.8" width="3.9" height="1.1" fill="rgb(204,204,204)" opacity="0.75"/><rect x="333.7" y="773.8" width="1.7" height="1.1" fill="rgb(215,215,215)" opacity="0.75"/><rect x="336.3" y="773.8" width="4.8" height="1.1" fill="rgb(187,187,187)" opacity="0.75"/><rect x="342.5" y="773.9" width="1.6" height="1.1" fill="rgb(153,153,153)" opacity="0.75"/><rect x="346.0" y="773.9" width="4.7" height="1.1" fill="rgb(151,151,151)" opacity="0.75"/><rect x="351.2" y="774.0" width="3.2" height="1.1" fill="rgb(186,186,186)" opacity="0.75"/><rect x="356.2" y="774.0" width="4.8" height="1.1" fill="rgb(192,192,192)" opacity="0.75"/><rect x="361.5" y="773.9" width="1.5" height="1.1" fill="rgb(208,208,208)" opacity="0.75"/><rect x="368.6" y="773.8" width="2.9" height="1.1" fill="rgb(244,244,244)" opacity="0.75"/><rect x="372.9" y="773.7" width="4.1" height="1.1" fill="rgb(170,170,170)" opacity="0.75"/><rect x="384.7" y="773.5" width="4.1" height="1.1" fill="rgb(251,251,251)" opacity="0.75"/><rect x="396.2" y="773.0" width="4.1" height="1.1" fill="rgb(239,239,239)" opacity="0.75"/><rect x="401.3" y="772.7" width="1.8" height="1.1" fill="rgb(237,237,237)" opacity="0.75"/><rect x="409.0" y="772.2" width="4.8" height="1.1" fill="rgb(224,224,224)" opacity="0.75"/><rect x="416.4" y="771.7" width="1.7" height="1.1" fill="rgb(252,252,252)" opacity="0.75"/><rect x="418.9" y="771.6" width="3.9" height="1.1" fill="rgb(247,247,247)" opacity="0.75"/><rect x="432.7" y="770.4" width="1.7" height="1.1" fill="rgb(188,188,188)" opacity="0.75"/><rect x="434.9" y="770.3" width="4.4" height="1.1" fill="rgb(150,150,150)" opacity="0.75"/><rect x="450.1" y="769.0" width="3.4" height="1.1" fill="rgb(244,244,244)" opacity="0.75"/><rect x="466.6" y="767.9" width="2.1" height="1.1" fill="rgb(248,248,248)" opacity="0.75"/><rect x="477.4" y="767.2" width="4.1" height="1.1" fill="rgb(205,205,205)" opacity="0.75"/><rect x="302.4" y="810.5" width="4.6" height="1.1" fill="rgb(173,173,173)" opacity="0.9"/><rect x="307.1" y="810.7" width="4.3" height="1.1" fill="rgb(178,178,178)" opacity="0.9"/><rect x="311.7" y="810.9" width="1.8" height="1.1" fill="rgb(227,227,227)" opacity="0.9"/><rect x="314.5" y="811.1" width="2.3" height="1.1" fill="rgb(211,211,211)" opacity="0.9"/><rect x="319.1" y="811.3" width="2.4" height="1.1" fill="rgb(231,231,231)" opacity="0.9"/><rect x="322.8" y="811.5" width="4.3" height="1.1" fill="rgb(207,207,207)" opacity="0.9"/><rect x="328.6" y="811.7" width="3.3" height="1.1" fill="rgb(221,221,221)" opacity="0.9"/><rect x="333.6" y="811.7" width="2.3" height="1.1" fill="rgb(247,247,247)" opacity="0.9"/><rect x="335.9" y="811.6" width="2.8" height="1.1" fill="rgb(161,161,161)" opacity="0.9"/><rect x="341.0" y="811.5" width="3.2" height="1.1" fill="rgb(207,207,207)" opacity="0.9"/><rect x="345.8" y="811.4" width="3.8" height="1.1" fill="rgb(195,195,195)" opacity="0.9"/><rect x="351.7" y="811.2" width="1.7" height="1.1" fill="rgb(190,190,190)" opacity="0.9"/><rect x="355.6" y="811.1" width="2.1" height="1.1" fill="rgb(159,159,159)" opacity="0.9"/><rect x="358.1" y="810.7" width="2.8" height="1.1" fill="rgb(188,188,188)" opacity="0.9"/><rect x="362.5" y="810.0" width="1.6" height="1.1" fill="rgb(240,240,240)" opacity="0.9"/><rect x="365.6" y="809.4" width="3.5" height="1.1" fill="rgb(227,227,227)" opacity="0.9"/><rect x="370.3" y="808.6" width="4.3" height="1.1" fill="rgb(245,245,245)" opacity="0.9"/><rect x="380.0" y="807.2" width="4.3" height="1.1" fill="rgb(214,214,214)" opacity="0.9"/><rect x="390.3" y="805.8" width="2.7" height="1.1" fill="rgb(228,228,228)" opacity="0.9"/><rect x="394.5" y="805.3" width="2.4" height="1.1" fill="rgb(173,173,173)" opacity="0.9"/><rect x="399.3" y="804.6" width="2.4" height="1.1" fill="rgb(192,192,192)" opacity="0.9"/><rect x="401.7" y="804.1" width="3.0" height="1.1" fill="rgb(222,222,222)" opacity="0.9"/><rect x="416.2" y="801.2" width="3.7" height="1.1" fill="rgb(213,213,213)" opacity="0.9"/><rect x="448.3" y="796.7" width="4.1" height="1.1" fill="rgb(198,198,198)" opacity="0.9"/><rect x="464.0" y="794.9" width="4.9" height="1.1" fill="rgb(188,188,188)" opacity="0.9"/><rect x="469.8" y="794.2" width="1.9" height="1.1" fill="rgb(198,198,198)" opacity="0.9"/><rect x="476.2" y="793.4" width="1.8" height="1.1" fill="rgb(250,250,250)" opacity="0.9"/>
<path d="M300.0 773.6 L330.0 774.0 L352.0 774.3 L357.0 776.2 L342.0 778.8 L328.0 780.5 L321.0 784.0 L318.5 790.0 L318.5 797.0 L321.0 803.0 L327.0 807.5 L338.0 810.5 L352.0 812.0 L330.0 813.0 L300.0 811.4Z" fill="#ffffff" filter="url(#b05)"/>
<rect x="332.7" y="799.5" width="1.5" height="1.5" fill="#fff"/><rect x="328.1" y="809.5" width="1.6" height="1.6" fill="#fff"/><rect x="352.4" y="810.8" width="1.0" height="1.0" fill="#fff"/><rect x="345.9" y="788.7" width="1.3" height="1.3" fill="#fff"/><rect x="335.9" y="806.5" width="1.1" height="1.1" fill="#fff"/><rect x="317.6" y="793.0" width="1.7" height="1.7" fill="#fff"/><rect x="346.1" y="792.7" width="0.9" height="0.9" fill="#fff"/><rect x="355.6" y="796.9" width="1.4" height="1.4" fill="#fff"/><rect x="342.7" y="797.0" width="2.1" height="2.1" fill="#fff"/><rect x="325.7" y="777.6" width="1.6" height="1.6" fill="#fff"/><rect x="320.2" y="779.3" width="0.9" height="0.9" fill="#fff"/><rect x="327.9" y="804.0" width="1.1" height="1.1" fill="#fff"/><rect x="319.2" y="810.5" width="1.5" height="1.5" fill="#fff"/><rect x="351.1" y="796.8" width="2.0" height="2.0" fill="#fff"/><rect x="329.0" y="793.4" width="1.3" height="1.3" fill="#fff"/><rect x="351.4" y="787.5" width="0.9" height="0.9" fill="#fff"/><rect x="330.7" y="798.0" width="1.2" height="1.2" fill="#fff"/><rect x="326.7" y="796.0" width="0.9" height="0.9" fill="#fff"/><rect x="340.1" y="776.3" width="1.0" height="1.0" fill="#fff"/><rect x="343.2" y="786.8" width="2.1" height="2.1" fill="#fff"/><rect x="324.5" y="788.2" width="1.3" height="1.3" fill="#fff"/><rect x="337.3" y="804.2" width="1.7" height="1.7" fill="#fff"/><rect x="343.6" y="793.0" width="1.3" height="1.3" fill="#fff"/><rect x="350.0" y="811.3" width="2.0" height="2.0" fill="#fff"/><rect x="353.1" y="793.3" width="1.5" height="1.5" fill="#fff"/><rect x="337.2" y="798.9" width="2.1" height="2.1" fill="#fff"/><rect x="325.5" y="805.0" width="2.0" height="2.0" fill="#fff"/><rect x="326.7" y="805.6" width="1.0" height="1.0" fill="#fff"/><rect x="328.7" y="777.3" width="2.2" height="2.2" fill="#fff"/><rect x="338.0" y="805.0" width="1.6" height="1.6" fill="#fff"/><rect x="333.3" y="804.5" width="0.9" height="0.9" fill="#fff"/><rect x="329.7" y="786.0" width="1.9" height="1.9" fill="#fff"/><rect x="319.6" y="775.5" width="1.4" height="1.4" fill="#fff"/><rect x="330.7" y="782.5" width="1.4" height="1.4" fill="#fff"/><rect x="338.3" y="808.4" width="2.1" height="2.1" fill="#fff"/><rect x="352.0" y="787.6" width="2.0" height="2.0" fill="#fff"/><rect x="316.0" y="790.7" width="1.0" height="1.0" fill="#fff"/><rect x="318.8" y="781.8" width="1.8" height="1.8" fill="#fff"/><rect x="353.9" y="791.4" width="1.3" height="1.3" fill="#fff"/><rect x="354.0" y="792.7" width="1.5" height="1.5" fill="#fff"/><rect x="317.3" y="807.2" width="2.2" height="2.2" fill="#fff"/><rect x="345.7" y="808.8" width="2.2" height="2.2" fill="#fff"/><rect x="349.1" y="800.0" width="1.8" height="1.8" fill="#fff"/><rect x="345.6" y="806.1" width="1.4" height="1.4" fill="#fff"/><rect x="322.7" y="811.2" width="1.5" height="1.5" fill="#fff"/><rect x="330.3" y="810.8" width="1.1" height="1.1" fill="#fff"/><rect x="332.3" y="788.1" width="1.8" height="1.8" fill="#fff"/><rect x="320.3" y="782.7" width="2.0" height="2.0" fill="#fff"/><rect x="354.9" y="789.9" width="1.3" height="1.3" fill="#fff"/><rect x="335.4" y="779.0" width="1.4" height="1.4" fill="#fff"/><rect x="316.5" y="780.4" width="1.4" height="1.4" fill="#fff"/><rect x="320.3" y="792.6" width="1.7" height="1.7" fill="#fff"/><rect x="347.1" y="810.6" width="1.6" height="1.6" fill="#fff"/><rect x="342.3" y="778.4" width="1.5" height="1.5" fill="#fff"/><rect x="331.0" y="784.8" width="1.6" height="1.6" fill="#fff"/><rect x="321.8" y="781.1" width="1.3" height="1.3" fill="#fff"/><rect x="326.3" y="774.9" width="1.4" height="1.4" fill="#fff"/><rect x="322.0" y="790.7" width="2.0" height="2.0" fill="#fff"/><rect x="332.3" y="792.7" width="1.9" height="1.9" fill="#fff"/><rect x="331.2" y="796.6" width="1.2" height="1.2" fill="#fff"/><rect x="343.1" y="807.0" width="1.2" height="1.2" fill="#fff"/><rect x="325.1" y="797.0" width="1.7" height="1.7" fill="#fff"/><rect x="320.5" y="789.0" width="1.0" height="1.0" fill="#fff"/><rect x="322.9" y="784.2" width="2.2" height="2.2" fill="#fff"/><rect x="338.6" y="805.9" width="1.8" height="1.8" fill="#fff"/><rect x="341.1" y="806.2" width="0.9" height="0.9" fill="#fff"/><rect x="335.1" y="778.8" width="1.9" height="1.9" fill="#fff"/><rect x="321.1" y="802.7" width="1.9" height="1.9" fill="#fff"/><rect x="330.6" y="792.9" width="1.7" height="1.7" fill="#fff"/><rect x="328.9" y="794.2" width="0.9" height="0.9" fill="#fff"/><rect x="346.4" y="799.3" width="2.1" height="2.1" fill="#fff"/><rect x="333.8" y="780.3" width="1.0" height="1.0" fill="#fff"/><rect x="334.4" y="795.8" width="2.1" height="2.1" fill="#fff"/><rect x="339.2" y="782.7" width="2.2" height="2.2" fill="#fff"/><rect x="337.6" y="810.7" width="1.9" height="1.9" fill="#fff"/><rect x="345.6" y="779.8" width="0.9" height="0.9" fill="#fff"/><rect x="316.3" y="795.6" width="1.4" height="1.4" fill="#fff"/><rect x="321.8" y="781.3" width="2.2" height="2.2" fill="#fff"/><rect x="331.9" y="796.5" width="1.3" height="1.3" fill="#fff"/><rect x="343.9" y="794.8" width="1.0" height="1.0" fill="#fff"/><rect x="327.9" y="808.3" width="2.2" height="2.2" fill="#fff"/><rect x="355.6" y="800.6" width="1.8" height="1.8" fill="#fff"/><rect x="352.1" y="808.1" width="1.0" height="1.0" fill="#fff"/><rect x="332.8" y="783.7" width="1.3" height="1.3" fill="#fff"/><rect x="319.9" y="798.5" width="0.9" height="0.9" fill="#fff"/><rect x="318.7" y="785.8" width="1.6" height="1.6" fill="#fff"/><rect x="343.5" y="794.2" width="1.7" height="1.7" fill="#fff"/><rect x="329.9" y="810.7" width="1.5" height="1.5" fill="#fff"/><rect x="344.0" y="802.3" width="1.0" height="1.0" fill="#fff"/><rect x="325.4" y="784.1" width="1.4" height="1.4" fill="#fff"/><rect x="331.2" y="808.0" width="0.9" height="0.9" fill="#fff"/><rect x="324.0" y="797.4" width="1.6" height="1.6" fill="#fff"/><rect x="334.9" y="784.3" width="1.6" height="1.6" fill="#fff"/><rect x="324.1" y="796.3" width="1.6" height="1.6" fill="#fff"/><rect x="329.1" y="810.7" width="1.8" height="1.8" fill="#fff"/><rect x="355.4" y="802.7" width="1.9" height="1.9" fill="#fff"/><rect x="329.3" y="800.0" width="1.9" height="1.9" fill="#fff"/><rect x="317.8" y="803.9" width="1.5" height="1.5" fill="#fff"/><rect x="353.1" y="808.6" width="2.0" height="2.0" fill="#fff"/><rect x="355.6" y="807.2" width="1.4" height="1.4" fill="#fff"/><rect x="326.4" y="797.4" width="1.9" height="1.9" fill="#fff"/><rect x="330.2" y="802.8" width="1.0" height="1.0" fill="#fff"/><rect x="330.9" y="785.1" width="1.9" height="1.9" fill="#fff"/><rect x="345.9" y="805.4" width="0.9" height="0.9" fill="#fff"/><rect x="326.5" y="791.4" width="1.5" height="1.5" fill="#fff"/><rect x="326.8" y="797.3" width="2.1" height="2.1" fill="#fff"/><rect x="342.2" y="805.0" width="1.4" height="1.4" fill="#fff"/><rect x="354.8" y="809.7" width="2.0" height="2.0" fill="#fff"/><rect x="342.2" y="791.3" width="1.0" height="1.0" fill="#fff"/><rect x="319.3" y="802.2" width="1.5" height="1.5" fill="#fff"/><rect x="352.5" y="796.4" width="1.6" height="1.6" fill="#fff"/><rect x="343.7" y="780.4" width="1.8" height="1.8" fill="#fff"/><rect x="332.5" y="794.2" width="1.8" height="1.8" fill="#fff"/><rect x="334.7" y="811.5" width="2.2" height="2.2" fill="#fff"/><rect x="339.5" y="775.8" width="1.9" height="1.9" fill="#fff"/><rect x="343.2" y="798.8" width="1.3" height="1.3" fill="#fff"/><rect x="333.8" y="799.1" width="2.0" height="2.0" fill="#fff"/><rect x="317.6" y="785.2" width="1.3" height="1.3" fill="#fff"/><rect x="348.2" y="786.6" width="0.8" height="0.8" fill="#fff"/><rect x="339.1" y="810.8" width="1.4" height="1.4" fill="#fff"/><rect x="344.1" y="784.0" width="1.9" height="1.9" fill="#fff"/><rect x="347.5" y="800.0" width="1.1" height="1.1" fill="#fff"/><rect x="348.4" y="806.6" width="1.5" height="1.5" fill="#fff"/><rect x="326.9" y="795.9" width="1.2" height="1.2" fill="#fff"/><rect x="317.1" y="784.8" width="1.5" height="1.5" fill="#fff"/><rect x="340.7" y="780.9" width="2.2" height="2.2" fill="#fff"/><rect x="327.5" y="784.3" width="0.9" height="0.9" fill="#fff"/><rect x="343.6" y="796.2" width="0.9" height="0.9" fill="#fff"/><rect x="339.2" y="779.8" width="1.2" height="1.2" fill="#fff"/><rect x="352.1" y="798.2" width="0.8" height="0.8" fill="#fff"/><rect x="354.7" y="794.7" width="1.5" height="1.5" fill="#fff"/><rect x="333.2" y="789.7" width="1.3" height="1.3" fill="#fff"/><rect x="325.7" y="786.1" width="1.5" height="1.5" fill="#fff"/><rect x="348.3" y="809.5" width="2.0" height="2.0" fill="#fff"/><rect x="349.4" y="787.1" width="1.4" height="1.4" fill="#fff"/><rect x="323.9" y="797.3" width="1.8" height="1.8" fill="#fff"/><rect x="340.8" y="803.7" width="1.5" height="1.5" fill="#fff"/><rect x="318.8" y="797.8" width="1.2" height="1.2" fill="#fff"/><rect x="327.5" y="786.1" width="1.0" height="1.0" fill="#fff"/><rect x="337.1" y="806.9" width="1.1" height="1.1" fill="#fff"/><rect x="321.5" y="789.3" width="0.9" height="0.9" fill="#fff"/><rect x="339.0" y="780.5" width="1.6" height="1.6" fill="#fff"/><rect x="316.3" y="798.4" width="1.6" height="1.6" fill="#fff"/><rect x="338.5" y="786.1" width="0.9" height="0.9" fill="#fff"/><rect x="318.8" y="794.5" width="2.1" height="2.1" fill="#fff"/><rect x="334.8" y="778.7" width="1.7" height="1.7" fill="#fff"/><rect x="321.9" y="792.8" width="1.0" height="1.0" fill="#fff"/><rect x="345.9" y="788.1" width="0.9" height="0.9" fill="#fff"/><rect x="322.0" y="776.3" width="1.2" height="1.2" fill="#fff"/><rect x="338.4" y="774.5" width="0.9" height="0.9" fill="#fff"/><rect x="321.8" y="782.3" width="0.9" height="0.9" fill="#fff"/><rect x="339.9" y="794.7" width="1.8" height="1.8" fill="#fff"/><rect x="333.9" y="803.4" width="1.3" height="1.3" fill="#fff"/><rect x="325.4" y="811.2" width="1.0" height="1.0" fill="#fff"/><rect x="336.7" y="807.7" width="1.8" height="1.8" fill="#fff"/><rect x="334.6" y="795.9" width="1.5" height="1.5" fill="#fff"/><rect x="355.8" y="801.5" width="0.8" height="0.8" fill="#fff"/><rect x="337.7" y="803.7" width="1.2" height="1.2" fill="#fff"/><rect x="348.6" y="784.1" width="1.6" height="1.6" fill="#fff"/><rect x="320.1" y="784.5" width="0.9" height="0.9" fill="#fff"/><rect x="340.5" y="779.8" width="1.9" height="1.9" fill="#fff"/><rect x="332.5" y="809.8" width="1.6" height="1.6" fill="#fff"/><rect x="316.3" y="785.9" width="2.0" height="2.0" fill="#fff"/><rect x="320.8" y="805.1" width="1.8" height="1.8" fill="#fff"/><rect x="342.9" y="789.5" width="1.5" height="1.5" fill="#fff"/><rect x="332.8" y="780.5" width="1.1" height="1.1" fill="#fff"/><rect x="317.7" y="801.5" width="1.8" height="1.8" fill="#fff"/><rect x="333.4" y="798.7" width="2.0" height="2.0" fill="#fff"/><rect x="340.5" y="801.8" width="1.9" height="1.9" fill="#fff"/><rect x="326.8" y="781.5" width="2.0" height="2.0" fill="#fff"/><rect x="336.3" y="807.3" width="2.0" height="2.0" fill="#fff"/><rect x="346.9" y="804.7" width="1.5" height="1.5" fill="#fff"/><rect x="321.2" y="802.8" width="1.0" height="1.0" fill="#fff"/><rect x="319.2" y="781.1" width="1.7" height="1.7" fill="#fff"/><rect x="352.2" y="781.0" width="1.4" height="1.4" fill="#fff"/><rect x="333.9" y="796.3" width="2.0" height="2.0" fill="#fff"/><rect x="331.5" y="803.3" width="1.1" height="1.1" fill="#fff"/><rect x="340.8" y="794.9" width="1.4" height="1.4" fill="#fff"/><rect x="323.8" y="798.8" width="1.8" height="1.8" fill="#fff"/><rect x="328.6" y="793.5" width="1.4" height="1.4" fill="#fff"/><rect x="337.9" y="784.0" width="1.4" height="1.4" fill="#fff"/><rect x="318.5" y="802.5" width="1.2" height="1.2" fill="#fff"/><rect x="333.7" y="799.4" width="2.0" height="2.0" fill="#fff"/><rect x="347.5" y="782.2" width="2.0" height="2.0" fill="#fff"/><rect x="330.6" y="778.6" width="1.5" height="1.5" fill="#fff"/><rect x="336.7" y="779.7" width="0.8" height="0.8" fill="#fff"/><rect x="354.3" y="795.4" width="1.5" height="1.5" fill="#fff"/><rect x="321.1" y="795.6" width="1.6" height="1.6" fill="#fff"/><rect x="316.4" y="790.8" width="1.3" height="1.3" fill="#fff"/><rect x="352.8" y="779.6" width="1.9" height="1.9" fill="#fff"/><rect x="342.6" y="797.4" width="1.7" height="1.7" fill="#fff"/><rect x="335.2" y="781.4" width="1.1" height="1.1" fill="#fff"/><rect x="327.1" y="793.1" width="1.6" height="1.6" fill="#fff"/><rect x="333.2" y="797.8" width="1.0" height="1.0" fill="#fff"/><rect x="332.2" y="797.3" width="1.3" height="1.3" fill="#fff"/><rect x="316.4" y="789.0" width="1.6" height="1.6" fill="#fff"/><rect x="332.6" y="799.4" width="1.8" height="1.8" fill="#fff"/><rect x="329.9" y="782.6" width="1.1" height="1.1" fill="#fff"/><rect x="319.8" y="811.5" width="2.1" height="2.1" fill="#fff"/><rect x="351.1" y="783.2" width="1.3" height="1.3" fill="#fff"/>
</g>
<path d="M324.60 710.10L324.60 718.50M320.96 712.20L328.24 716.40M328.24 712.20L320.96 716.40" stroke="#e8402a" stroke-width="1.6" fill="none"/>
<path d="M322.40 786.80L322.40 795.20M318.76 788.90L326.04 793.10M326.04 788.90L318.76 793.10" stroke="#e8402a" stroke-width="1.6" fill="none"/>
<text x="476.4" y="744.2" font-size="10.8" textLength="16.3" lengthAdjust="spacingAndGlyphs"><tspan fill="#ffffff" stroke="#ffffff" stroke-width="0.22">WT</tspan></text>
<text x="463.9" y="810.9" font-size="10.8" textLength="28.8" lengthAdjust="spacingAndGlyphs"><tspan fill="#ffffff" stroke="#ffffff" stroke-width="0.22">S38</tspan><tspan fill="#d8392b" stroke="#d8392b" stroke-width="0.22">3E</tspan></text>
<text x="463.9" y="822.7" font-size="10.8" textLength="28.8" lengthAdjust="spacingAndGlyphs"><tspan fill="#ffffff" stroke="#ffffff" stroke-width="0.22">S38</tspan><tspan fill="#d8392b" stroke="#d8392b" stroke-width="0.22">9A</tspan></text>
<rect x="304.2" y="821.2" width="28.8" height="2.2" fill="#ffffff" />
<text x="505.4" y="636" font-size="16" font-weight="bold"><tspan fill="#000" stroke="#000" stroke-width="0.22">j</tspan></text>
<path d="M556.4 708.1 L575.0 759.5 L606.1 780.2 L637.3 792.3 L668.4 795.2 L699.5 795.7 L699.5 796.3 L668.4 796.0 L637.3 795.0 L606.1 787.4 L575.0 772.5 L556.4 724.8Z" fill="#f5d21c" opacity="0.95"/>
<path d="M556.4 734.5 L575.0 771.8 L606.1 791.5 L637.3 793.8 L668.4 795.4 L699.5 795.8 L699.5 796.3 L668.4 796.1 L637.3 795.5 L606.1 794.4 L575.0 783.4 L556.4 746.5Z" fill="#f4a0b2" opacity="0.85"/>
<path d="M556.4 715.9 L575.0 765.7 L606.1 784.0 L637.3 793.8 L668.4 795.7 L699.5 796.1" stroke="#f29b1d" stroke-width="2.2" fill="none"/>
<path d="M556.4 740.7 L575.0 777.2 L606.1 793.1 L637.3 794.7 L668.4 795.8 L699.5 796.1" stroke="#de3a2c" stroke-width="2.0" fill="none"/>
<circle cx="556.4" cy="715.9" r="1.9" fill="#f29b1d" />
<circle cx="575.0" cy="765.7" r="1.9" fill="#f29b1d" />
<circle cx="606.1" cy="784.0" r="1.9" fill="#f29b1d" />
<circle cx="637.3" cy="793.8" r="1.9" fill="#f29b1d" />
<circle cx="668.4" cy="795.7" r="1.9" fill="#f29b1d" />
<circle cx="699.5" cy="796.1" r="1.9" fill="#f29b1d" />
<circle cx="556.4" cy="740.7" r="1.9" fill="#de3a2c" />
<circle cx="575.0" cy="777.2" r="1.9" fill="#de3a2c" />
<circle cx="606.1" cy="793.1" r="1.9" fill="#de3a2c" />
<circle cx="637.3" cy="794.7" r="1.9" fill="#de3a2c" />
<circle cx="668.4" cy="795.8" r="1.9" fill="#de3a2c" />
<circle cx="699.5" cy="796.1" r="1.9" fill="#de3a2c" />
<line x1="544.0" y1="679.5" x2="544.0" y2="797.8" stroke="#111" stroke-width="2.0"/>
<line x1="543.0" y1="796.8" x2="700.4" y2="796.8" stroke="#111" stroke-width="2.0"/>
<line x1="539.8" y1="767.46" x2="544.0" y2="767.46" stroke="#111" stroke-width="1.8"/>
<text x="538.6" y="771.1600000000001" font-size="10.6" text-anchor="end" textLength="17.4" lengthAdjust="spacingAndGlyphs"><tspan fill="#222222" stroke="#222222" stroke-width="0.22">200</tspan></text>
<line x1="539.8" y1="738.52" x2="544.0" y2="738.52" stroke="#111" stroke-width="1.8"/>
<text x="538.6" y="742.22" font-size="10.6" text-anchor="end" textLength="17.4" lengthAdjust="spacingAndGlyphs"><tspan fill="#222222" stroke="#222222" stroke-width="0.22">400</tspan></text>
<line x1="539.8" y1="709.5799999999999" x2="544.0" y2="709.5799999999999" stroke="#111" stroke-width="1.8"/>
<text x="538.6" y="713.28" font-size="10.6" text-anchor="end" textLength="17.4" lengthAdjust="spacingAndGlyphs"><tspan fill="#222222" stroke="#222222" stroke-width="0.22">600</tspan></text>
<line x1="539.8" y1="680.64" x2="544.0" y2="680.64" stroke="#111" stroke-width="1.8"/>
<text x="538.6" y="684.34" font-size="10.6" text-anchor="end" textLength="17.4" lengthAdjust="spacingAndGlyphs"><tspan fill="#222222" stroke="#222222" stroke-width="0.22">800</tspan></text>
<text x="539.5" y="806.8" font-size="10.6" text-anchor="end" textLength="5.8" lengthAdjust="spacingAndGlyphs"><tspan fill="#222222" stroke="#222222" stroke-width="0.22">0</tspan></text>
<line x1="575.025" y1="796.8" x2="575.025" y2="799.8" stroke="#111" stroke-width="1.8"/>
<text x="582.525" y="806.6" font-size="10.6" text-anchor="end" textLength="17.5" lengthAdjust="spacingAndGlyphs" transform="rotate(-45 582.525 806.6)"><tspan fill="#222222" stroke="#222222" stroke-width="0.22">250</tspan></text>
<line x1="606.15" y1="796.8" x2="606.15" y2="799.8" stroke="#111" stroke-width="1.8"/>
<text x="613.65" y="806.6" font-size="10.6" text-anchor="end" textLength="17.5" lengthAdjust="spacingAndGlyphs" transform="rotate(-45 613.65 806.6)"><tspan fill="#222222" stroke="#222222" stroke-width="0.22">500</tspan></text>
<line x1="637.275" y1="796.8" x2="637.275" y2="799.8" stroke="#111" stroke-width="1.8"/>
<text x="644.775" y="806.6" font-size="10.6" text-anchor="end" textLength="17.5" lengthAdjust="spacingAndGlyphs" transform="rotate(-45 644.775 806.6)"><tspan fill="#222222" stroke="#222222" stroke-width="0.22">750</tspan></text>
<line x1="668.4" y1="796.8" x2="668.4" y2="799.8" stroke="#111" stroke-width="1.8"/>
<text x="674.1" y="806.3000000000001" font-size="10.6" text-anchor="end" textLength="23.4" lengthAdjust="spacingAndGlyphs" transform="rotate(-45 674.1 806.3000000000001)"><tspan fill="#222222" stroke="#222222" stroke-width="0.22">1000</tspan></text>
<line x1="699.525" y1="796.8" x2="699.525" y2="799.8" stroke="#111" stroke-width="1.8"/>
<text x="705.225" y="806.3000000000001" font-size="10.6" text-anchor="end" textLength="23.4" lengthAdjust="spacingAndGlyphs" transform="rotate(-45 705.225 806.3000000000001)"><tspan fill="#222222" stroke="#222222" stroke-width="0.22">1250</tspan></text>
<path d="M556.30 696.40L556.30 702.80M553.53 698.00L559.07 701.20M559.07 698.00L553.53 701.20" stroke="#222" stroke-width="1.4" fill="none"/>
<path d="M606.60 769.80L606.60 776.20M603.83 771.40L609.37 774.60M609.37 771.40L603.83 774.60" stroke="#222" stroke-width="1.4" fill="none"/>
<line x1="634.9" y1="690.3" x2="649.1" y2="690.3" stroke="#de3a2c" stroke-width="2.0"/>
<circle cx="642.0" cy="690.3" r="1.9" fill="#de3a2c" />
<line x1="634.9" y1="706.7" x2="649.1" y2="706.7" stroke="#f29b1d" stroke-width="2.2"/>
<circle cx="642.0" cy="706.7" r="1.9" fill="#f29b1d" />
<text x="656.5" y="693.6" font-size="10.4" textLength="15.7" lengthAdjust="spacingAndGlyphs"><tspan fill="#222222" stroke="#222222" stroke-width="0.22">WT</tspan></text>
<text x="655.0" y="710.6" font-size="10.4" textLength="28.9" lengthAdjust="spacingAndGlyphs"><tspan fill="#222222" stroke="#222222" stroke-width="0.22">S38</tspan><tspan fill="#e2352b" stroke="#e2352b" stroke-width="0.22">3E</tspan></text>
<text x="655.0" y="723.0" font-size="10.4" textLength="30.4" lengthAdjust="spacingAndGlyphs"><tspan fill="#222222" stroke="#222222" stroke-width="0.22">S38</tspan><tspan fill="#e2352b" stroke="#e2352b" stroke-width="0.22">9A</tspan></text>
<text x="514.8" y="743.85" font-size="10.6" text-anchor="middle" textLength="141.9" lengthAdjust="spacingAndGlyphs" transform="rotate(-90 514.8 743.85)"><tspan fill="#222222" stroke="#222222" stroke-width="0.22">Estimated regenerating axons</tspan></text>
<text x="553.7" y="836.2" font-size="10.6" textLength="142.5" lengthAdjust="spacingAndGlyphs"><tspan fill="#222222" stroke="#222222" stroke-width="0.22">Distance from crush site (µm)</tspan></text>
</svg></body></html>
